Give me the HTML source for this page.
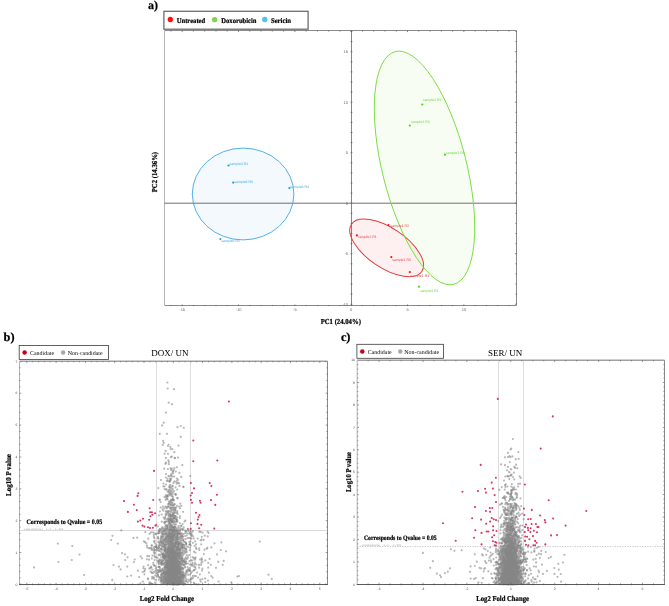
<!DOCTYPE html>
<html><head><meta charset="utf-8"><title>Figure</title><style>html,body{margin:0;padding:0;background:#fff;}svg{display:block;}</style></head><body>
<svg width="669" height="606" viewBox="0 0 669 606" text-rendering="geometricPrecision">
<rect width="669" height="606" fill="#fff"/>
<path d="M164.5 30.5H516.5V305.5H164.5" fill="none" stroke="#8a8a8a" stroke-width="1"/>
<path d="M164.5 31.0V305.0" fill="none" stroke="#b4b4b4" stroke-width="1"/>
<line x1="164.5" y1="203.2" x2="516.5" y2="203.2" stroke="#666" stroke-width="0.95"/>
<line x1="351.5" y1="30.5" x2="351.5" y2="305.5" stroke="#777" stroke-width="0.9"/>
<path d="M170.9 306.1v-1.1M170.9 30.5v1.1M182.2 306.1v-1.6M182.2 30.5v1.6M193.4 306.1v-1.1M193.4 30.5v1.1M204.7 306.1v-1.1M204.7 30.5v1.1M216 306.1v-1.1M216 30.5v1.1M227.2 306.1v-1.1M227.2 30.5v1.1M238.5 306.1v-1.6M238.5 30.5v1.6M249.8 306.1v-1.1M249.8 30.5v1.1M261 306.1v-1.1M261 30.5v1.1M272.3 306.1v-1.1M272.3 30.5v1.1M283.6 306.1v-1.1M283.6 30.5v1.1M294.9 306.1v-1.6M294.9 30.5v1.6M306.1 306.1v-1.1M306.1 30.5v1.1M317.4 306.1v-1.1M317.4 30.5v1.1M328.7 306.1v-1.1M328.7 30.5v1.1M339.9 306.1v-1.1M339.9 30.5v1.1M351.2 306.1v-1.6M351.2 30.5v1.6M362.5 306.1v-1.1M362.5 30.5v1.1M373.7 306.1v-1.1M373.7 30.5v1.1M385 306.1v-1.1M385 30.5v1.1M396.3 306.1v-1.1M396.3 30.5v1.1M407.5 306.1v-1.6M407.5 30.5v1.6M418.8 306.1v-1.1M418.8 30.5v1.1M430.1 306.1v-1.1M430.1 30.5v1.1M441.4 306.1v-1.1M441.4 30.5v1.1M452.6 306.1v-1.1M452.6 30.5v1.1M463.9 306.1v-1.6M463.9 30.5v1.6M475.2 306.1v-1.1M475.2 30.5v1.1M486.4 306.1v-1.1M486.4 30.5v1.1M497.7 306.1v-1.1M497.7 30.5v1.1M509 306.1v-1.1M509 30.5v1.1M350.6 304.2h1.8M516.5 304.2h-1.6M350.6 294.1h1.8M516.5 294.1h-1.1M350.6 284h1.8M516.5 284h-1.1M350.6 273.9h1.8M516.5 273.9h-1.1M350.6 263.8h1.8M516.5 263.8h-1.1M350.6 253.7h1.8M516.5 253.7h-1.6M350.6 243.6h1.8M516.5 243.6h-1.1M350.6 233.5h1.8M516.5 233.5h-1.1M350.6 223.4h1.8M516.5 223.4h-1.1M350.6 213.3h1.8M516.5 213.3h-1.1M350.6 203.2h1.8M516.5 203.2h-1.6M350.6 193.1h1.8M516.5 193.1h-1.1M350.6 183h1.8M516.5 183h-1.1M350.6 172.9h1.8M516.5 172.9h-1.1M350.6 162.8h1.8M516.5 162.8h-1.1M350.6 152.7h1.8M516.5 152.7h-1.6M350.6 142.6h1.8M516.5 142.6h-1.1M350.6 132.5h1.8M516.5 132.5h-1.1M350.6 122.4h1.8M516.5 122.4h-1.1M350.6 112.3h1.8M516.5 112.3h-1.1M350.6 102.2h1.8M516.5 102.2h-1.6M350.6 92.1h1.8M516.5 92.1h-1.1M350.6 82h1.8M516.5 82h-1.1M350.6 71.9h1.8M516.5 71.9h-1.1M350.6 61.8h1.8M516.5 61.8h-1.1M350.6 51.7h1.8M516.5 51.7h-1.6M350.6 41.6h1.8M516.5 41.6h-1.1M350.6 31.5h1.8M516.5 31.5h-1.1" stroke="#555" stroke-width="0.7" fill="none"/>
<text x="182.2" y="311.1" font-size="4.0" font-weight="normal" fill="#666" font-family="'Liberation Sans', Arial, sans-serif" text-anchor="middle" >-15</text>
<text x="238.5" y="311.1" font-size="4.0" font-weight="normal" fill="#666" font-family="'Liberation Sans', Arial, sans-serif" text-anchor="middle" >-10</text>
<text x="294.9" y="311.1" font-size="4.0" font-weight="normal" fill="#666" font-family="'Liberation Sans', Arial, sans-serif" text-anchor="middle" >-5</text>
<text x="351.2" y="311.1" font-size="4.0" font-weight="normal" fill="#666" font-family="'Liberation Sans', Arial, sans-serif" text-anchor="middle" >0</text>
<text x="407.5" y="311.1" font-size="4.0" font-weight="normal" fill="#666" font-family="'Liberation Sans', Arial, sans-serif" text-anchor="middle" >5</text>
<text x="463.9" y="311.1" font-size="4.0" font-weight="normal" fill="#666" font-family="'Liberation Sans', Arial, sans-serif" text-anchor="middle" >10</text>
<text x="348" y="53.1" font-size="4.0" font-weight="normal" fill="#666" font-family="'Liberation Sans', Arial, sans-serif" text-anchor="end" >15</text>
<text x="348" y="103.6" font-size="4.0" font-weight="normal" fill="#666" font-family="'Liberation Sans', Arial, sans-serif" text-anchor="end" >10</text>
<text x="348" y="154.1" font-size="4.0" font-weight="normal" fill="#666" font-family="'Liberation Sans', Arial, sans-serif" text-anchor="end" >5</text>
<text x="348" y="204.6" font-size="4.0" font-weight="normal" fill="#666" font-family="'Liberation Sans', Arial, sans-serif" text-anchor="end" >0</text>
<text x="348" y="255.1" font-size="4.0" font-weight="normal" fill="#666" font-family="'Liberation Sans', Arial, sans-serif" text-anchor="end" >-5</text>
<text x="348" y="305.6" font-size="4.0" font-weight="normal" fill="#666" font-family="'Liberation Sans', Arial, sans-serif" text-anchor="end" >-10</text>
<ellipse cx="243.1" cy="194" rx="50.8" ry="45.9" fill="#3aa0e0" fill-opacity="0.06"/>
<ellipse cx="0" cy="0" rx="120" ry="42.1" transform="translate(424.5 167.95) rotate(75.9)" fill="#70d030" fill-opacity="0.05"/>
<ellipse cx="0" cy="0" rx="42.4" ry="19.9" transform="translate(386.65 247.85) rotate(33.9)" fill="#f04040" fill-opacity="0.08"/>
<ellipse cx="243.1" cy="194" rx="50.8" ry="45.9" fill="none" stroke="#3ea8e2" stroke-width="0.9"/>
<ellipse cx="0" cy="0" rx="42.4" ry="19.9" transform="translate(386.65 247.85) rotate(33.9)" fill="none" stroke="#e03a3a" stroke-width="0.95"/>
<ellipse cx="0" cy="0" rx="120" ry="42.1" transform="translate(424.5 167.95) rotate(75.9)" fill="none" stroke="#78dc3c" stroke-width="0.9"/>
<circle cx="228.5" cy="165.5" r="1.1" fill="#2a9be0"/>
<text x="229.6" y="164.6" font-size="3.5" font-weight="normal" fill="#4aaee6" font-family="'Liberation Sans', Arial, sans-serif" text-anchor="start" >sample3.R1</text>
<circle cx="233.2" cy="182.6" r="1.1" fill="#2a9be0"/>
<text x="234.3" y="182.5" font-size="3.5" font-weight="normal" fill="#4aaee6" font-family="'Liberation Sans', Arial, sans-serif" text-anchor="start" >sample3.R3</text>
<circle cx="289.4" cy="188.1" r="1.1" fill="#2a9be0"/>
<text x="290.3" y="187.7" font-size="3.5" font-weight="normal" fill="#4aaee6" font-family="'Liberation Sans', Arial, sans-serif" text-anchor="start" >sample3.R4</text>
<circle cx="220.4" cy="239.0" r="1.1" fill="#2a9be0"/>
<text x="221.3" y="242.3" font-size="3.5" font-weight="normal" fill="#4aaee6" font-family="'Liberation Sans', Arial, sans-serif" text-anchor="start" >sample3.R2</text>
<circle cx="422.3" cy="104.5" r="1.1" fill="#4fd41c"/>
<text x="422.9" y="100.7" font-size="3.5" font-weight="normal" fill="#6fd844" font-family="'Liberation Sans', Arial, sans-serif" text-anchor="start" >sample2.R2</text>
<circle cx="409.8" cy="125.6" r="1.1" fill="#4fd41c"/>
<text x="411" y="122.8" font-size="3.5" font-weight="normal" fill="#6fd844" font-family="'Liberation Sans', Arial, sans-serif" text-anchor="start" >sample2.R4</text>
<circle cx="444.9" cy="154.7" r="1.1" fill="#4fd41c"/>
<text x="446" y="153.6" font-size="3.5" font-weight="normal" fill="#6fd844" font-family="'Liberation Sans', Arial, sans-serif" text-anchor="start" >sample2.R3</text>
<circle cx="419.0" cy="286.7" r="1.1" fill="#4fd41c"/>
<text x="419.9" y="291.5" font-size="3.5" font-weight="normal" fill="#6fd844" font-family="'Liberation Sans', Arial, sans-serif" text-anchor="start" >sample2.R1</text>
<circle cx="388.5" cy="225.0" r="1.1" fill="#f01818"/>
<text x="390.4" y="226.9" font-size="3.5" font-weight="normal" fill="#e24a4a" font-family="'Liberation Sans', Arial, sans-serif" text-anchor="start" >sample1.R2</text>
<circle cx="356.9" cy="235.4" r="1.1" fill="#f01818"/>
<text x="358" y="238.4" font-size="3.5" font-weight="normal" fill="#e24a4a" font-family="'Liberation Sans', Arial, sans-serif" text-anchor="start" >sample1.R1</text>
<circle cx="391.3" cy="257.1" r="1.1" fill="#f01818"/>
<text x="392.2" y="260.8" font-size="3.5" font-weight="normal" fill="#e24a4a" font-family="'Liberation Sans', Arial, sans-serif" text-anchor="start" >sample1.R3</text>
<circle cx="409.8" cy="272.1" r="1.1" fill="#f01818"/>
<text x="410.5" y="277" font-size="3.5" font-weight="normal" fill="#e24a4a" font-family="'Liberation Sans', Arial, sans-serif" text-anchor="start" >sample1.R4</text>
<rect x="163.9" y="11.3" width="144.2" height="17.9" fill="#fff" stroke="#6e6e6e" stroke-width="1.3"/>
<circle cx="170.3" cy="19.5" r="2.65" fill="#ff1010"/>
<circle cx="214.6" cy="19.7" r="2.65" fill="#83d14e"/>
<circle cx="264.8" cy="19.5" r="2.65" fill="#55bdf3"/>
<text x="176.7" y="22.8" font-size="7.2" font-weight="bold" fill="#000" font-family="'Liberation Serif', 'Times New Roman', serif" text-anchor="start"  textLength="28.5" lengthAdjust="spacingAndGlyphs" stroke="#000" stroke-width="0.22">Untreated</text>
<text x="221.3" y="22.8" font-size="7.2" font-weight="bold" fill="#000" font-family="'Liberation Serif', 'Times New Roman', serif" text-anchor="start"  textLength="35.2" lengthAdjust="spacingAndGlyphs" stroke="#000" stroke-width="0.22">Doxorubicin</text>
<text x="270.9" y="22.8" font-size="7.2" font-weight="bold" fill="#000" font-family="'Liberation Serif', 'Times New Roman', serif" text-anchor="start"  textLength="20.2" lengthAdjust="spacingAndGlyphs" stroke="#000" stroke-width="0.22">Sericin</text>
<text x="147.9" y="8.7" font-size="12" font-weight="bold" fill="#000" font-family="'Liberation Serif', 'Times New Roman', serif" text-anchor="start" stroke="#000" stroke-width="0.25">a)</text>
<text x="340.8" y="323.5" font-size="7.6" font-weight="bold" fill="#000" font-family="'Liberation Serif', 'Times New Roman', serif" text-anchor="middle"  textLength="40.3" lengthAdjust="spacingAndGlyphs" stroke="#000" stroke-width="0.22">PC1 (24.04%)</text>
<text x="0" y="0" font-size="7.6" font-weight="bold" fill="#000" font-family="'Liberation Serif', 'Times New Roman', serif" text-anchor="middle" transform="translate(156.6 172.1) rotate(-90)" textLength="40.4" lengthAdjust="spacingAndGlyphs" stroke="#000" stroke-width="0.22">PC2 (14.36%)</text>
<line x1="156.5" y1="361.2" x2="156.5" y2="584.5" stroke="#d4d4d4" stroke-width="0.8"/>
<line x1="190.5" y1="361.2" x2="190.5" y2="584.5" stroke="#d4d4d4" stroke-width="0.8"/>
<line x1="19.5" y1="530.5" x2="327.5" y2="530.5" stroke="#d2d2d2" stroke-width="0.8"/>
<path d="M171 564.1h0M171.2 578.5h0M175.7 567.9h0M170.9 558.6h0M175.7 494.2h0M174.3 582.2h0M177.2 521.4h0M179.2 569.3h0M173.5 566.2h0M179 577.2h0M171 475.6h0M168.1 575.7h0M174.3 580.8h0M179 581.6h0M178 564.2h0M168.2 580.2h0M178.1 583.6h0M169.1 568.1h0M174.9 574.3h0M173.9 581.2h0M172.1 583.7h0M173.7 560.2h0M176.5 570.9h0M172.6 584h0M173.4 538.8h0M174.8 553.4h0M167.4 574.6h0M166.5 582h0M182.4 576.2h0M176.4 561.3h0M171.2 579.6h0M179.5 568.6h0M178.4 563h0M166.9 548.6h0M172.9 567h0M177.8 581.2h0M169.1 570.7h0M177.8 535.9h0M169.6 575.1h0M174.9 566.2h0M175.7 558h0M171.7 581.6h0M169 584.1h0M174.8 568.6h0M172.8 471.6h0M178.7 583.2h0M164.3 582.7h0M174.2 578.3h0M168.9 501.6h0M173.4 564.2h0M165.8 538.3h0M173.8 527.3h0M171.2 556.3h0M170.1 566.1h0M180.3 503.7h0M170.5 571.9h0M171.5 556.8h0M169.4 576.6h0M175.7 557.6h0M182.2 557.5h0M174.7 568.7h0M175 577.7h0M172.5 558.1h0M179.4 543.6h0M173.5 583.7h0M175.1 543.6h0M173.9 545.2h0M174.1 575.2h0M171.9 510.6h0M176.6 575.8h0M163.8 553.9h0M177.7 536.3h0M174.2 583.2h0M173.5 580.8h0M173.4 566.5h0M173.5 573.6h0M175.8 576.7h0M166.7 544.6h0M177.8 574.8h0M175.8 575h0M170.4 570.8h0M173 577.4h0M171 533.7h0M174.4 534.3h0M170.9 569.3h0M172.7 581.7h0M169.2 531.5h0M169.7 546.1h0M173 514.6h0M174.8 579.4h0M176.1 560.5h0M171.8 574.8h0M170.1 523.6h0M169.9 520.1h0M180.6 578.3h0M175.8 581.1h0M171.4 533.5h0M171.5 559.3h0M167.9 534h0M171.5 553.3h0M177.5 572.9h0M171.7 565.8h0M167.7 528.4h0M172.9 546.5h0M170.7 557.3h0M169.6 559.7h0M170.3 579.7h0M165.8 550.5h0M172.6 509.8h0M173.6 564.9h0M178.2 569.1h0M171.1 528.4h0M174.2 560.6h0M175.4 565.6h0M175.6 569.3h0M175.6 568.3h0M171.5 577h0M171 525.5h0M171 570.7h0M176.4 578.9h0M168 551h0M181.2 573.3h0M178.4 537.1h0M176.8 530.7h0M173.5 560.8h0M173.9 554.3h0M168.2 574.2h0M175.5 527.4h0M170.1 583.1h0M172.3 568.4h0M170.9 532.1h0M169.1 550.3h0M178.4 532.6h0M178.5 579.9h0M176.4 544.6h0M173.9 552.3h0M170.7 574h0M177.5 570.7h0M171.8 520.5h0M170.7 532.4h0M168.7 553.5h0M169.1 583.8h0M173.7 573.1h0M172.4 572.5h0M177.2 570.3h0M176.1 579.2h0M174.4 579.3h0M173.2 577.9h0M180.5 577.7h0M172.1 564.6h0M170.1 576.6h0M171.4 583.9h0M173 560h0M173.3 509.7h0M174.3 570.7h0M176.3 574.9h0M171.3 505.1h0M172.1 560.2h0M172.8 558.7h0M180 566.3h0M180.9 574.1h0M174.4 571.5h0M168 494.8h0M172.1 565.1h0M169.5 568.6h0M172.8 562.9h0M169.1 515.3h0M173.2 576.8h0M172.5 560.4h0M170.3 489.4h0M175.8 582.9h0M176.8 547.7h0M178.3 573.2h0M170.6 537h0M168.1 535.2h0M175.6 572.1h0M170.6 572.5h0M173.5 575.8h0M178.3 579.6h0M173.2 548.5h0M169.5 521.3h0M171.9 562.4h0M176.4 583.3h0M170.5 563.6h0M175.2 552.3h0M177.9 572.8h0M170.1 578.8h0M176.9 548.6h0M173.3 524.2h0M168.5 539.4h0M165.2 567.2h0M179.4 533.8h0M169.7 567.4h0M170.8 539.1h0M173.7 530.1h0M169.9 563h0M174 534.5h0M171.8 559.2h0M165.9 521.8h0M169.8 566.5h0M177.7 539.7h0M177.1 575.7h0M177 571.2h0M173.5 517.6h0M165.1 545.1h0M168.8 461.9h0M171.6 521.7h0M172.9 548.5h0M168.7 571.7h0M171.1 582.7h0M173.6 545.9h0M167 536.1h0M177.3 569.9h0M168.8 583.7h0M173.8 576.9h0M177.5 561.4h0M173.7 551.8h0M171.2 578.9h0M169.4 584.3h0M173.4 522.7h0M175.3 571.1h0M172.6 575.6h0M171.6 554.3h0M178 561.7h0M170.9 577.9h0M173.2 584.1h0M174.3 582.6h0M166.4 525.5h0M170.4 559.4h0M176.5 519.6h0M175.8 552.4h0M167 519.4h0M177 584.2h0M172.4 564.6h0M174.5 566.9h0M176.1 561.6h0M166.3 566.1h0M175.1 515.8h0M171.3 567.2h0M166.7 565h0M170.1 544.6h0M170.8 575.9h0M170.3 551.7h0M178.5 576.9h0M176.2 580.7h0M171.7 558.3h0M170.2 576h0M179.6 556.7h0M173.1 571.6h0M171.4 542.8h0M177.2 581.8h0M172.8 571.4h0M175.1 556.4h0M170.2 514h0M176 570h0M176.7 568.3h0M176.5 547.8h0M170.7 567.3h0M171.1 558.7h0M173.9 562.6h0M172.9 573.8h0M168.6 520.1h0M172.6 572h0M176.2 571.6h0M178.2 544.7h0M177.4 581.3h0M175 581.3h0M166.1 484.5h0M169.1 562.2h0M176.7 580.4h0M171 558.2h0M170.3 493.4h0M174.3 577.2h0M167.9 446h0M175.6 560.9h0M173.9 578.5h0M176.7 583.3h0M171.7 565.3h0M172 568.8h0M173.6 531.8h0M168.2 495.5h0M173.6 536.9h0M173.2 569.7h0M169.2 555.8h0M170.4 559.7h0M174.8 580.7h0M171.2 577.5h0M172.9 578.2h0M169.1 581.4h0M174.1 517.6h0M179 569.6h0M171.6 494.1h0M164.6 519h0M170.6 480.4h0M174 579h0M173.7 470.1h0M171.3 582.7h0M171.7 529.1h0M173.5 583.2h0M170.9 553h0M173.1 568h0M171 545.9h0M175.5 583.7h0M176.4 571.6h0M166.1 563.3h0M171 516.5h0M168.3 580h0M167.6 499.5h0M172.4 583.7h0M166.9 572.1h0M164.8 558.1h0M170.9 457.2h0M168.8 570.5h0M166 515.2h0M171.9 578.6h0M171.7 579.6h0M164.5 578.9h0M172 560.3h0M170.9 563.3h0M180.5 582.1h0M167.1 562.4h0M173 581.5h0M174.4 568.1h0M175.4 561.1h0M185.6 552.4h0M166.2 580.9h0M176.4 570.6h0M171.4 549.8h0M174.9 583.4h0M185.9 549.2h0M174.4 574.3h0M178.5 580.7h0M168.3 551h0M179 583h0M176.1 563.2h0M175.8 568.9h0M177.1 575.6h0M166.3 578.1h0M171 578.4h0M170.7 580.8h0M174.7 569h0M180 583.3h0M175.4 533h0M178.4 571.4h0M170.9 525.7h0M183.4 575.7h0M177.8 570.8h0M174 530.4h0M168.7 577.6h0M170.6 576.8h0M171.1 470.1h0M169.8 584h0M164.4 556.1h0M172.6 584h0M165.7 580h0M181.2 573.4h0M176.1 482h0M172.9 499.1h0M164.4 576h0M173.5 538h0M169 548.4h0M167.5 579.4h0M175.4 584.1h0M171.7 567.4h0M163.4 556.2h0M160.5 540h0M178.3 543.1h0M177.3 579.3h0M160 567h0M172.1 580.1h0M171.1 563.8h0M161.5 581.2h0M161.7 574h0M177 568.1h0M166 552.7h0M165.8 497.1h0M167.6 518.7h0M167.5 581.7h0M173 572h0M166.3 571.1h0M172.7 562.9h0M171.7 525.7h0M169.1 581.3h0M169.2 577.4h0M164.7 453.7h0M175.2 575.5h0M170 582.4h0M171.6 574.2h0M176.9 568.7h0M168.6 492.1h0M170.3 570.3h0M179 577.3h0M169.6 567.2h0M175.7 547.1h0M172.2 540.3h0M171.2 559.7h0M162.2 532.7h0M175.4 552.5h0M168.2 575.2h0M180.8 578.5h0M171 550.1h0M176.3 570.2h0M174 546h0M165.9 565.8h0M166.7 566.8h0M167.5 553.1h0M179.1 583.7h0M169.2 543.6h0M180.1 508.3h0M177.4 566.5h0M172.9 558.7h0M167.7 567.4h0M174.3 503.8h0M175.6 583h0M175.1 553.1h0M169 567.3h0M175.5 563.3h0M172.1 550.2h0M162.1 571.1h0M174.6 560.6h0M170.9 518.1h0M179.1 559.6h0M169.2 506.9h0M175.7 566.1h0M168.5 475.9h0M172.6 565.6h0M166.5 498.7h0M164.6 489.1h0M175.8 521.7h0M176.9 574.2h0M168.8 561.2h0M164.6 521.8h0M173.2 535.7h0M161.9 581.8h0M172.7 584.1h0M158.6 554.9h0M179.1 483.3h0M176.8 584.2h0M174 575.8h0M185 566.7h0M167.8 577.8h0M185.3 533.1h0M181.2 576.8h0M178 582.3h0M174.9 582.5h0M169.9 511.3h0M167.9 580h0M174.6 577.2h0M176.2 557.4h0M170 573.3h0M175.9 566.8h0M170.9 582h0M162.7 563.7h0M173.7 579.5h0M161.7 572.3h0M174.4 565.5h0M168.6 503.8h0M176.1 569.5h0M172.5 485.8h0M170.6 573.7h0M161.5 554.4h0M165.8 557.4h0M160.8 579h0M179.3 552.7h0M174 521.6h0M176.9 583.9h0M163.7 582.6h0M162.9 557.1h0M177.2 584.4h0M169.4 559h0M172 529.8h0M164.9 580.4h0M177.4 568.9h0M178.5 577.5h0M169.7 507h0M178.7 566.3h0M178.8 581.3h0M165 548.6h0M169.4 579.1h0M176 566.2h0M173.7 527h0M179 506.6h0M182.4 544.5h0M179 542.2h0M185.4 520.6h0M178.7 572.7h0M164.7 569.4h0M168.4 569h0M171 563.5h0M159.9 499.6h0M171.2 569.3h0M165.9 457.9h0M176.9 542.6h0M168.8 546.6h0M165.3 576.9h0M167.9 568.8h0M175 543.7h0M169.1 568h0M167 578.7h0M172.7 494.6h0M179.4 561.7h0M182.6 524h0M167.5 525.8h0M178.2 555.3h0M169.6 569.1h0M180.1 569h0M179.1 540h0M165.9 477.5h0M161 579.6h0M171.3 572.8h0M178.5 445.6h0M173.7 558.7h0M173.6 583.9h0M170.6 571.1h0M167.6 561.5h0M170.4 546.1h0M166.5 511h0M172.3 584h0M170.7 520.5h0M175.8 565.7h0M161.7 514.6h0M173.5 570.2h0M177.1 578.7h0M177.2 569.5h0M174.3 579.1h0M172.4 550h0M180 564h0M175.5 577.9h0M170.4 565.2h0M177.4 580.2h0M171.4 549.7h0M167.7 481h0M170.8 538.8h0M169.5 489.8h0M154.5 550.3h0M173.8 571.8h0M172.9 573.5h0M182.1 583.7h0M170.7 583.8h0M171.5 583.5h0M174.4 565.3h0M173 578.7h0M171.6 582.9h0M170.6 449.1h0M168.1 539.2h0M178.7 579.7h0M166.7 573.2h0M168.3 536.4h0M181.9 563.3h0M181 533.6h0M165.6 529h0M171.5 568.3h0M170.2 508.5h0M172.3 551.2h0M179.9 573.2h0M175.5 544.2h0M176.3 572.2h0M168.4 581.4h0M167.6 520.8h0M163.6 579.3h0M175.1 566.4h0M172.9 556.2h0M172.7 547.2h0M168 560.9h0M167.1 537h0M173 578.3h0M170.3 558.5h0M182.1 583.8h0M166.8 549.2h0M167.8 570.9h0M186.1 572h0M177.8 553.7h0M181.4 573.8h0M173.5 576.2h0M170.7 544.6h0M174.8 580.6h0M176.3 578.6h0M174.3 569h0M180.7 582.7h0M180.8 565.3h0M173.4 572.2h0M177.6 560.5h0M165 572.8h0M174.4 481.3h0M165.6 450.9h0M173.5 578.3h0M180.4 558.3h0M175.5 558.1h0M174.7 556h0M169.5 495.2h0M165.9 542.6h0M176.2 581.2h0M185.7 575.6h0M176.8 578.2h0M163.6 572.2h0M167.7 525.5h0M176.1 576.1h0M170.4 516h0M177 583.8h0M170.6 575.9h0M175.2 573.5h0M163.8 574.1h0M180.8 534.5h0M180.3 579.2h0M175.4 577.2h0M175.3 575h0M179.4 472.9h0M178.1 553.3h0M160.8 571.4h0M177.2 568.8h0M167.8 564.1h0M181.7 543.1h0M171.3 552.4h0M168.5 581.4h0M173.4 576.3h0M179.6 550.6h0M168.1 581.8h0M172.8 567.2h0M174.6 570.8h0M173.4 571h0M172.1 559.5h0M169.9 576.4h0M162.3 571.9h0M172.1 561.1h0M164.1 529.1h0M175.5 569.3h0M183.7 527.3h0M165.8 495.2h0M174.8 507.7h0M173.9 574.2h0M178.1 580.3h0M177.3 578.4h0M172.5 574.7h0M177.3 580.9h0M181.8 583.4h0M166.7 578.4h0M167.1 539.8h0M179.3 540.1h0M166.1 581.5h0M163.3 577.3h0M165.4 463.8h0M165 574.1h0M170.2 574.7h0M165.7 574.1h0M175.5 562.9h0M175.4 578.4h0M172.4 569.5h0M168.6 444.8h0M177.9 574h0M168.1 572.5h0M168 541.6h0M182.4 573.5h0M172.6 559h0M169.6 507.3h0M177.7 569.6h0M174.7 571.5h0M161 480h0M172.6 579.9h0M174.4 537.5h0M161.5 549h0M170.3 570.3h0M164.2 468.7h0M168.8 583.6h0M174.4 518.2h0M176.4 574.4h0M167.5 560.5h0M170.6 582.5h0M179.1 573.9h0M175.2 568.5h0M173.5 557.1h0M163.8 530.9h0M161.9 577.8h0M168.2 554.5h0M152.3 569.6h0M190.5 538.1h0M179.5 572.6h0M166 536.8h0M168.3 579.7h0M164.9 575.8h0M198.7 584.3h0M164.4 578.8h0M162.6 573h0M149.5 533.8h0M166.1 567.2h0M140.6 556.4h0M155 543.4h0M179.6 570.1h0M175.7 557.6h0M180.2 533.3h0M149.2 583.5h0M171.2 561.4h0M178.8 583.4h0M181.3 581.1h0M181.5 576.1h0M187.8 528.9h0M149.1 556.2h0M201.2 544.3h0M165 571h0M171.4 547h0M181.5 547.2h0M172.4 580.4h0M176.6 559.3h0M162.8 539.8h0M150.3 568.1h0M177.1 530.7h0M163.4 581.1h0M161.4 546.1h0M166.8 549.9h0M181.1 536.1h0M176.1 537.7h0M151 532.4h0M169.6 584.3h0M178.1 550h0M162.6 533.7h0M184.3 551.5h0M158.5 533.1h0M186.2 543.8h0M191.1 560.3h0M172.7 565.4h0M194.2 584.1h0M157.9 575.2h0M171.8 573.4h0M188.6 579.8h0M161.1 542.2h0M175.3 569.7h0M184.8 541.8h0M156 557.3h0M161.3 584h0M174.7 555.7h0M177.8 547.4h0M186.1 551.8h0M182.7 552.7h0M170.2 551.6h0M159 562h0M183.2 550.5h0M195.4 567h0M165.6 530.6h0M175.6 583.6h0M162 576h0M193.1 577.8h0M189.9 544.3h0M170.3 541.6h0M150.8 583.3h0M184.3 544.9h0M153.3 562.8h0M177.6 554.4h0M169.2 540.4h0M169 557.9h0M177.7 573.3h0M175.9 541.8h0M141.9 558.3h0M177.4 531.2h0M174 579.3h0M168.9 577.7h0M175.5 544.8h0M169 572.8h0M155 553h0M182.6 584.3h0M180.1 539.9h0M195 562.7h0M155.8 547h0M165.4 528.7h0M175.6 558.2h0M179.7 554.6h0M182.5 546.8h0M189.7 570.1h0M180.1 583.8h0M173.9 569.2h0M181 545.5h0M147.8 578.4h0M166.2 581.6h0M180.7 541.4h0M165.6 564.7h0M189.4 561.2h0M159.6 550.5h0M173.5 559.9h0M153.5 550.5h0M178.5 554.6h0M155.1 565.8h0M195.5 569.2h0M174.6 529.1h0M166.5 533.5h0M183.7 534h0M144.4 574.3h0M169.4 557.4h0M189.1 555.1h0M174.6 552.6h0M161.9 532.8h0M168.2 540.5h0M173.7 552.9h0M176.5 537.7h0M161.9 562.4h0M163.6 535.7h0M172 537.1h0M140.4 583.4h0M154.6 552.1h0M183.1 547.7h0M173.6 552.7h0M170.5 578.1h0M194.4 564.6h0M187.9 546.8h0M156.2 547.5h0M156.2 567.5h0M169.8 529.4h0M189.1 580.8h0M180.1 534.5h0M164.2 546.6h0M164.5 539.9h0M171.5 544.4h0M158.7 531.1h0M154.4 555.7h0M164.4 546.8h0M166.7 556h0M196.1 564.4h0M162.3 560.1h0M158.7 561h0M165.6 533.3h0M157.8 572.6h0M185.7 564h0M171.5 565.2h0M154.7 540.8h0M176.4 550.6h0M161.5 549.2h0M177.2 533.7h0M158.5 567h0M164.8 547.5h0M176.7 572.1h0M159.7 529.2h0M158.8 579.8h0M168.7 550.3h0M191.1 572.9h0M190.8 545.5h0M177.2 583.9h0M184.1 548.2h0M167.8 570.8h0M171.3 531.5h0M156.7 550.1h0M168.8 533.1h0M174.6 559.1h0M168.2 575.4h0M170.4 565h0M192.7 531.6h0M170.1 570.3h0M162.1 569.2h0M173.3 562.1h0M153.5 564.7h0M168.1 565h0M178 582.1h0M151.8 572.6h0M185.9 531.7h0M182.8 553.3h0M183.4 529.1h0M192.8 530.8h0M166.2 556h0M166.4 537.7h0M190.9 582h0M172.9 548.8h0M192.1 577.7h0M166.6 531.7h0M168.3 575.5h0M183.6 561.6h0M160 555.5h0M167.2 538.5h0M168.7 541.4h0M174 573.5h0M195.4 552.6h0M173 558.8h0M172 564h0M208.9 572.7h0M180.2 553.4h0M177.3 542.5h0M180.2 570.8h0M168.4 570.7h0M163.5 554.6h0M122 553.2h0M214.5 543.3h0M192.2 566h0M183.7 539.3h0M165.1 545h0M178.3 546.4h0M189.9 547.6h0M202 570.5h0M193.1 565.5h0M167.7 388.5h0M166 412.6h0M180.8 426h0M180.8 436.9h0M72.3 546h0M111.1 540h0M113.5 565h0M124.9 554.3h0M208.5 533.1h0M193.9 538.5h0M220.8 550h0M217 554.4h0M205.3 560.4h0M223.7 560.9h0M202.4 568.7h0M195.9 576h0M205.3 582h0M237.4 576.6h0M231.2 582.3h0" stroke="#818181" stroke-width="2.2" stroke-linecap="round" fill="none" stroke-opacity="0.56"/>
<path d="M174 555h0M175.5 487.4h0M176.6 575.8h0M171 553.6h0M174.6 563.3h0M168.7 582.7h0M170.5 570.8h0M177.2 583.8h0M173.1 544.4h0M167.7 574.2h0M175.1 534.3h0M177.3 577.6h0M164.7 573.4h0M174 559.4h0M178.8 546.9h0M174.6 512.9h0M174.7 553.3h0M171.9 545.3h0M173.6 535.7h0M171.2 577.4h0M166.3 546.4h0M174.3 556.4h0M171.2 525.1h0M169.1 559.8h0M166.8 508.4h0M171.2 570.7h0M172.1 563.6h0M176.4 584.3h0M169.4 564.9h0M173.2 550h0M165.1 578.9h0M168.2 504.3h0M169.2 568.7h0M173 549.7h0M179.1 545.1h0M170.7 568.7h0M169.6 480.9h0M170.2 551.4h0M169.4 576.9h0M171.1 575.7h0M172.6 513.8h0M172.1 572.6h0M173 574.6h0M168.8 578.4h0M179.2 570.9h0M168.6 583.6h0M181.4 540h0M172.3 560.3h0M174.4 552.3h0M181.6 579.5h0M167.7 527.1h0M173.5 581h0M171.4 560.4h0M173.4 541.5h0M175.9 560.2h0M170.1 563.5h0M176.1 576.8h0M178 541.6h0M177.8 550.8h0M169.5 580.4h0M176.1 575h0M170.4 571.4h0M171.7 502.4h0M177.6 577.8h0M175.3 570.8h0M183.2 561h0M173.1 574.6h0M174.9 458.2h0M172.1 581.3h0M168.1 543.8h0M173.7 582h0M166.1 462.8h0M178.1 549.3h0M176 516.4h0M173.4 583.5h0M169.5 574.1h0M170 479.6h0M167.9 541.7h0M175.7 571.4h0M170.6 520.5h0M172.5 535.8h0M172.5 574.5h0M171.6 519.7h0M169.1 570.4h0M172 583.5h0M173.5 550.5h0M169.9 573h0M172.4 507.5h0M170.3 554.7h0M170.1 537.5h0M168.8 516.9h0M174.1 574.6h0M180.1 549.1h0M172.7 568h0M173.9 565h0M168.4 567.2h0M166 567.8h0M170.8 516.1h0M169.4 546h0M171.1 560h0M169.1 547.8h0M176.1 574.1h0M171.8 566.4h0M165.9 562.5h0M170.2 515.3h0M172.6 548h0M170.7 569.9h0M176 518.8h0M175.8 535.1h0M177.5 569.7h0M173.2 548.2h0M176.2 578h0M170.4 447.1h0M171.2 583.1h0M168.6 490.3h0M170.8 516.1h0M181 571.9h0M169.2 548.9h0M167.2 559.8h0M176.4 542.9h0M168.5 569.8h0M172.3 527h0M174.6 556.5h0M172 580.1h0M170 583.3h0M172.2 520.9h0M173.5 530.1h0M171.8 579.5h0M164.5 523.1h0M169 581.7h0M165.6 572.1h0M175.6 569.4h0M170.5 574h0M172.1 578.6h0M171.2 582.7h0M174.2 584.2h0M174.7 532.4h0M170.8 551.7h0M169.3 545.7h0M171.1 541.6h0M175.4 570.2h0M167.1 498.4h0M177.1 574.3h0M169.1 551.9h0M173.2 562.8h0M175.3 578.5h0M176.2 553.8h0M177.1 584.3h0M171.7 550.8h0M180.2 553.3h0M174.7 576.1h0M174.9 554.1h0M172.5 572.1h0M172.2 580h0M176.5 561.8h0M170.1 491.4h0M176.9 561.9h0M173.4 533.5h0M171.8 582.2h0M178 574.1h0M172.4 505.3h0M178.1 568.7h0M175.7 570.2h0M172 533.5h0M172.2 572.4h0M170.6 519.1h0M175.1 568h0M172.3 580.3h0M169.3 555.2h0M174.3 561.2h0M174.3 569.2h0M169.2 557.1h0M170.5 558.7h0M166.6 525.9h0M176 555.3h0M176.5 582.1h0M178.9 557.6h0M175.8 572.1h0M171 554.3h0M182.3 561.2h0M173.9 576.2h0M174.8 577.9h0M170.8 547.9h0M175.8 576.5h0M172 568.5h0M177 566.8h0M176.3 557.8h0M170.2 536.4h0M168.2 571.4h0M169 576.8h0M175.4 547.6h0M173.2 551.4h0M170.8 572.7h0M174.6 517.6h0M178.6 578.5h0M171.6 540.7h0M178.3 570h0M171.2 582.7h0M173.5 564.1h0M168.6 568.2h0M175.6 576.5h0M179.6 581.8h0M173.9 552.3h0M169.4 579h0M173.3 580.6h0M173.6 580.7h0M176.7 564.7h0M173.8 581.1h0M177.2 567.2h0M172.8 578.3h0M177 580.2h0M176.3 582.3h0M173.9 513.8h0M177.2 578.8h0M172.9 583.2h0M169.6 556.3h0M177.3 569.5h0M171.7 568.1h0M174.3 549.3h0M178.3 564.8h0M179.9 583.4h0M170.2 501.2h0M171.4 583.7h0M172.1 499.6h0M169.5 570.1h0M168.8 578.8h0M179.3 556.4h0M167.8 546.4h0M172.6 538.1h0M171.2 575.4h0M169.9 572.5h0M175.3 579.9h0M174.3 573.8h0M171.4 581.3h0M174.1 558.6h0M173.3 553.3h0M176.6 513h0M169 582.7h0M177.1 583.8h0M173 575.9h0M178.4 526.4h0M176 524.3h0M172.3 582h0M177.7 556.1h0M179 582.2h0M169.6 532.9h0M168.2 579.6h0M174.5 535.7h0M169.9 577.9h0M169.7 567.8h0M172.5 542.7h0M171.4 579.1h0M177.7 570.5h0M173.9 569.4h0M173.7 562h0M171.4 571.6h0M172.9 579.8h0M174.1 571.8h0M159.7 533h0M176.5 547.9h0M172.4 552.9h0M177.7 581.4h0M174 583.3h0M172.4 512.5h0M172.8 584.1h0M175.1 567h0M172.3 476.6h0M174.9 575.4h0M166.6 512.6h0M175.8 524.4h0M170.7 578.6h0M177.1 583.4h0M175.4 564.3h0M169.1 583.5h0M168.4 540.6h0M171.8 541.3h0M173 532.1h0M173 471.4h0M167.7 551.5h0M167.1 549.8h0M169.4 573.5h0M172.3 584.2h0M174.2 535.2h0M174.1 575.2h0M174.8 558.1h0M174.5 565.7h0M177.6 555.7h0M173.9 568.3h0M171.3 529.9h0M172.7 519.6h0M177.4 583h0M174 558.9h0M171.3 578.6h0M167.7 572.7h0M178.4 551h0M174.1 546.3h0M171.7 581.8h0M167.3 533.5h0M175 582h0M173.7 579.3h0M173.4 569h0M177 565.8h0M176.5 559.3h0M173 545.5h0M178.2 578.1h0M170.2 565.8h0M175.2 568.7h0M165 548.4h0M166.4 579.9h0M176.3 535.7h0M175.4 546.4h0M178.2 539h0M171.8 468.7h0M180.2 576.7h0M163.7 539.2h0M176 580.5h0M172.3 535.3h0M172.9 518.8h0M175.5 569.4h0M175.1 542.8h0M169.8 560.2h0M172 576.2h0M174.8 582.9h0M174.2 517.6h0M168.6 583.9h0M173.5 576.2h0M176.1 566.9h0M170.5 582.6h0M176.7 571.2h0M179.8 534.2h0M167.2 582.3h0M180.8 579.6h0M164.8 582.4h0M164 576.4h0M175.7 562.2h0M174.4 542.9h0M175.1 566.8h0M170.7 576.4h0M183 577.4h0M175.2 509.8h0M177 578.1h0M167.9 568.3h0M167.8 573.7h0M172 574.8h0M179.8 523.1h0M174.5 561h0M171.5 580.1h0M182.2 560.8h0M178.7 526.2h0M176.6 569h0M163.9 539.4h0M178.8 549.7h0M169.5 547.5h0M176.1 524.5h0M184.8 558.9h0M175.2 551.6h0M179.2 543.7h0M178.8 554.5h0M173.2 473.3h0M186.3 550h0M173.1 574.1h0M169.8 580h0M166.8 583.4h0M175.6 531.6h0M178.7 584.1h0M163.2 575.2h0M176.1 575.4h0M170 516.8h0M170.3 559.8h0M168.9 552.2h0M167 581.8h0M162 562.9h0M177.2 547.1h0M162.8 542.2h0M177.9 575.9h0M173.3 540.6h0M165.3 572.6h0M174.2 564.9h0M179.9 538.2h0M174.8 560h0M180.2 579.3h0M173.2 566.6h0M170.2 583.3h0M175.4 578.3h0M166.6 582.1h0M164.5 486.5h0M169.7 573.1h0M176.2 507.6h0M172 563.8h0M173.5 505.7h0M165.2 581h0M170.1 564.6h0M171.2 549.9h0M173.5 542.3h0M173.5 556.6h0M172.8 489.2h0M167.1 583.1h0M175 584.1h0M164.1 564.7h0M164.6 563.4h0M170.4 478.5h0M172 545.6h0M174.4 574h0M173.9 583.9h0M167.6 580.1h0M167 577.5h0M176.7 552.1h0M179.1 582h0M177.2 579.4h0M164.6 571.7h0M166.8 480.8h0M172.2 563.1h0M173.3 536.6h0M173.1 515.3h0M171.8 476h0M173.7 580h0M171 512.1h0M181.5 575.3h0M172 580.3h0M171.3 581.8h0M166.5 560.6h0M183.4 564.9h0M175.1 557.2h0M172.6 583.7h0M184.5 521.5h0M166 554.7h0M168.9 551.2h0M172.7 538.4h0M163.7 573.4h0M170.1 519h0M163.7 575.6h0M170.8 575.5h0M173.2 554.8h0M174.8 583.3h0M170.3 577.1h0M171.9 565.9h0M173.1 578.8h0M177.3 536.1h0M162.4 578.7h0M171.8 574.2h0M159 547.4h0M174.5 582.3h0M170.6 584.1h0M178.4 582.4h0M177.7 554.5h0M169 578.6h0M178.1 561.1h0M160 531.3h0M168 575.7h0M176 533.7h0M172.4 554.2h0M175.7 495h0M179.9 571.8h0M185.2 530.7h0M169.1 569.3h0M168.1 573.4h0M172.6 505.4h0M170 533.6h0M165.8 511.5h0M169.5 556.6h0M180.1 562h0M177.9 583.9h0M178.8 547.5h0M171.5 580.7h0M171.1 571.9h0M177.9 570.7h0M170.5 538.2h0M180.4 563.2h0M166.2 554h0M165.5 539.5h0M171.1 507.8h0M165 584.2h0M168.7 570.6h0M168 453.8h0M174.6 582.5h0M176.3 555.9h0M163.1 583.8h0M181.4 568.3h0M164.5 556.9h0M174.5 568.2h0M164 573.3h0M167.9 469h0M162.6 509.3h0M166.1 489.5h0M174.9 563.8h0M176.7 582.5h0M168.1 569.9h0M166.8 571h0M165.9 569.2h0M176.5 560.9h0M163.5 483.5h0M168.2 562.2h0M174.6 544h0M175.8 579.8h0M174.9 566.4h0M177.3 579.4h0M173.7 572.2h0M170.2 486.9h0M178.4 582.6h0M171.3 551.8h0M170.3 579.7h0M177.9 564.5h0M171.4 509.9h0M173.4 482.9h0M172.7 565.9h0M169.3 513.6h0M175.4 548.4h0M176.7 582.3h0M169.8 485h0M184.5 553.4h0M179.4 566.8h0M166.9 536.2h0M183.4 574.8h0M174 562.6h0M181.4 580.1h0M165.4 558.1h0M174.4 533.8h0M169.9 567.4h0M166.6 583.1h0M172.5 565.4h0M170.6 566.4h0M168.6 564.5h0M179.6 569.6h0M178 482.8h0M172.5 577h0M176.4 574.1h0M170.3 573h0M167.2 578.4h0M173.4 569.2h0M179.5 552.5h0M177.3 541.4h0M179.5 574.6h0M175.3 572.7h0M175.3 575h0M167.4 563.2h0M178.1 572.1h0M182.5 549.3h0M173.9 527.6h0M170.5 485.1h0M178 575.1h0M174.1 563.6h0M167.2 568.1h0M172.8 580.8h0M173.2 574.9h0M178.8 574.4h0M172 579h0M173.3 578.9h0M175.8 565.4h0M167.6 478.8h0M171.9 551.3h0M180.7 577.6h0M159.1 571.6h0M182 581.6h0M167 496h0M178.5 582.1h0M171.3 579.1h0M167.2 569.5h0M170.5 579.2h0M175.3 572.8h0M171 562.1h0M171.1 560.2h0M175.9 574.4h0M174.5 540h0M171.6 571h0M177 583.1h0M166.3 570.1h0M173.2 566.5h0M173.1 516.9h0M182.7 574.2h0M177 538.9h0M176 564.6h0M179.1 556.1h0M164.5 508.2h0M180.4 528.6h0M176.9 467.3h0M162.4 578.4h0M167.3 578.5h0M173.2 567.9h0M168.9 583.5h0M181.8 555.3h0M167.8 569.7h0M170.5 582.4h0M181.4 569.5h0M165 584.2h0M174.2 577.9h0M174 563.7h0M176.7 578.6h0M164.2 557.7h0M167.5 562h0M173.4 574.4h0M160.3 577.8h0M167.6 572.9h0M175.6 547.5h0M167.4 577h0M165.3 518.3h0M167.1 561.6h0M162.8 445h0M167.6 507.4h0M171.6 570.2h0M172.3 581.2h0M172.5 542.4h0M169.5 565.2h0M180.1 581.2h0M177.2 489.5h0M169.9 581.3h0M179.1 582.1h0M169.7 524.6h0M169.8 533h0M173.5 566.9h0M175.6 567.6h0M171.3 564.9h0M175.2 571.1h0M180 528h0M177.4 546.8h0M182.8 584.1h0M171.7 500.3h0M171.3 577.1h0M175 516.2h0M161.8 543.8h0M180.9 584.1h0M161.9 578.3h0M167.5 512.3h0M167.6 582h0M166.9 584h0M167.8 559.4h0M170.5 555.4h0M168.1 515h0M174.1 583.6h0M179 583.9h0M186.4 570.7h0M173.1 544.3h0M180.2 572.6h0M170.4 572.9h0M181.9 533.3h0M168.8 584h0M177.3 553.2h0M175.3 575h0M164.4 554.9h0M166.5 583.1h0M169.3 555.9h0M182 575h0M175 574h0M175.8 559.3h0M177.3 497.9h0M176.6 558.2h0M180 582.4h0M170.5 568.8h0M171.5 580.5h0M163.5 564.6h0M165.8 462.6h0M166 563h0M164 554.9h0M173.7 581.3h0M169.7 578.8h0M171.4 581.5h0M165.4 506.6h0M174.4 578.4h0M171.6 580.6h0M169.3 573.8h0M177.2 580h0M183.1 579.9h0M168.8 565.5h0M161.6 535.3h0M174 571.8h0M168.5 566.9h0M180 554.1h0M159.8 577.1h0M163.3 546.5h0M182.2 568.2h0M151.4 567.3h0M152.2 572.8h0M150.6 571.6h0M181.1 563.8h0M155.3 571h0M151.4 583.9h0M185.2 536h0M174.4 530.5h0M166.1 566.5h0M152 578.5h0M194 551.7h0M187.8 529.1h0M185.7 563.5h0M163.4 570.6h0M182.1 538.7h0M179.2 553h0M183.2 578h0M167.5 554.6h0M185.8 561.3h0M172.6 532h0M196.1 544.3h0M154.6 560.1h0M185.5 578.2h0M168.3 573.5h0M182.1 547.7h0M151.7 545.4h0M173.4 559.2h0M169.3 564h0M160.6 541.1h0M168 552.8h0M188 557.1h0M163.5 530.8h0M158 562h0M191.5 535.3h0M182.8 536.5h0M164.3 543.9h0M158.8 577.4h0M179.8 575.5h0M163.3 582.2h0M211.3 576.1h0M178 533.7h0M167.9 547.6h0M168.4 578.2h0M162.1 536.4h0M154.5 533.3h0M172.9 549.2h0M159.6 554.5h0M156 573.1h0M175.2 568.1h0M165.7 542.5h0M186.8 555.1h0M181.1 544.2h0M163 536.9h0M168.2 567.2h0M167.5 556.4h0M166 574.9h0M168.1 544.7h0M172.6 580.2h0M175.2 574.1h0M174.9 574.7h0M186.5 546h0M181.8 574.5h0M195.1 558.1h0M169.4 580.7h0M168.4 549.1h0M171.1 541.9h0M172.6 575.5h0M165.3 555.9h0M178.2 571.4h0M162.1 542.4h0M162.3 537.4h0M156.3 547.1h0M181.5 558.7h0M174.4 577.5h0M176.7 570.8h0M169.8 565h0M165.1 550.4h0M149.3 548.1h0M180.3 571.3h0M176.3 575.3h0M164.6 541h0M170.3 567.1h0M165.9 538.9h0M152.3 549.7h0M161.8 560.8h0M180.5 543.3h0M171.9 532.6h0M190.1 544.4h0M166 545h0M160.7 581.5h0M171.9 557.4h0M171.9 562.8h0M171.4 534.7h0M172.3 561.8h0M172.4 544.2h0M194.8 583.9h0M168.1 562.8h0M177.3 536.2h0M146.9 559.3h0M159.1 545.4h0M147.3 556.2h0M142.8 581.6h0M171 551h0M183 540.5h0M164.3 546.5h0M171.3 568.7h0M186 542.5h0M173.7 576.6h0M165.6 547.1h0M156.5 576.3h0M154 571.9h0M159 566.5h0M178.9 575.3h0M173.4 531.6h0M163.6 559.7h0M221.4 542.4h0M166.7 573.4h0M175 552.5h0M176.7 556.4h0M170.8 542h0M174.5 534.4h0M151.8 548h0M180.7 542.5h0M173 530.1h0M169.2 535.1h0M189.4 542h0M158.1 547.7h0M164.5 571.9h0M174.2 570.1h0M175 540.1h0M166.2 534.1h0M143.9 541.3h0M173.8 567.9h0M166.1 576.3h0M168.3 537.3h0M163.4 553h0M149.8 582.3h0M174.9 568.5h0M163.4 578.9h0M152.8 584.1h0M183.1 573.1h0M188.5 570.7h0M172 543.5h0M163.4 555.5h0M158.4 538.4h0M177.2 532.8h0M187.5 558.4h0M167.2 578.7h0M172.1 569.1h0M181.1 545.4h0M180.2 576.6h0M185.3 576.7h0M191.8 579.1h0M181.4 553.5h0M168.5 532h0M159.7 529.8h0M153.3 572.9h0M158.8 563.3h0M192.6 563h0M160.4 577.7h0M168.3 538.9h0M169.5 554.3h0M165 551.2h0M175.3 561.3h0M186.1 544.2h0M167.4 530.7h0M148.3 538.7h0M179.5 551.6h0M162.7 555.1h0M155.4 533.5h0M164.6 574.6h0M170.3 530h0M179.2 533.7h0M174.8 545.4h0M178.7 577.1h0M188.3 569h0M182.7 544.9h0M202.3 579.2h0M175 569h0M168.1 569.4h0M153.1 577.7h0M178.2 556.1h0M184.2 561.9h0M156.7 570.8h0M160.9 548.7h0M180.5 545.3h0M176.1 536.6h0M179.4 583h0M186.8 535.5h0M174.1 573.1h0M191.5 538.8h0M155.2 550h0M148.6 548.2h0M175.6 572.8h0M152.4 555.6h0M160.2 544.9h0M160.8 551.3h0M190.8 532.2h0M148.2 565.2h0M208 580.6h0M157 570.2h0M164.9 566.9h0M137.9 570.7h0M191.3 532.9h0M183.6 582.4h0M169.5 570.9h0M147.2 547.5h0M137.2 537.7h0M153.8 534.9h0M168.5 571.8h0M159.9 531.5h0M166.6 564.9h0M166.8 568.2h0M209.6 558.9h0M173.9 389.2h0M163.7 422.7h0M183.8 427.8h0M34 567.4h0M71.8 560h0M112.5 535.8h0M119 566.6h0M125.2 560h0M204.8 535.7h0M195.2 541.3h0M196.5 549.1h0M193.8 558.1h0M208.2 563h0M222.7 564.8h0M208.2 567.6h0M198.1 577.5h0M218.6 581.5h0M238.9 576.1h0M190.3 476.1h0" stroke="#818181" stroke-width="2.2" stroke-linecap="round" fill="none" stroke-opacity="0.56"/>
<path d="M173 568.1h0M173.6 584.1h0M177.6 568.9h0M173.8 530.4h0M177.1 574.4h0M168.7 549.3h0M177.5 569.5h0M173.2 576h0M172 584.2h0M171.9 496.2h0M171.6 520.1h0M170.7 551.5h0M170.3 553.8h0M173 530.7h0M173.2 562.5h0M182.2 559h0M169.5 554h0M173.3 539.3h0M170.6 565.1h0M167.5 525.7h0M168.8 570.3h0M180.2 572h0M172.6 580.2h0M169.2 581.8h0M169.8 564.9h0M173.9 520.4h0M174.2 551.5h0M177.9 544.1h0M176.7 573.7h0M168.8 551.5h0M182.9 567.7h0M177.6 545.9h0M172.2 552h0M168.9 537.1h0M177.6 565h0M172.3 574.5h0M168.5 558.6h0M173.5 549.6h0M178.6 581.1h0M175 546.5h0M174.5 577.9h0M167.4 566.3h0M169 534.2h0M169.1 521.2h0M174.7 522h0M178.8 582.9h0M179.1 583.5h0M174.1 583.6h0M174.2 573.8h0M169.8 534.6h0M177.4 555.9h0M169.8 571.6h0M175.3 562.2h0M173.3 580.1h0M173.6 582h0M169.9 569.5h0M172.4 583.5h0M175.2 573.5h0M171.5 538.2h0M177 558.5h0M176.9 544.7h0M170.9 567h0M174.9 570.6h0M176.3 582h0M174.5 561.3h0M167 573.6h0M178 567.2h0M172.3 559.1h0M177.5 530.7h0M174.4 528.3h0M170 581.3h0M169.3 558.9h0M174.6 573.1h0M176.4 562.1h0M169.2 503.2h0M170.6 536h0M170.9 566.5h0M176.1 569.9h0M171.1 495.6h0M175.7 563h0M173.1 580.8h0M172.2 583.4h0M173.9 574.7h0M171.5 537.6h0M176.2 540h0M176.9 565.5h0M169.2 558h0M169.4 542.4h0M174.1 578.9h0M169.1 535.1h0M172.5 566.1h0M170.1 579.3h0M171.8 565.8h0M175.2 557.9h0M178.7 582.6h0M172.6 558.7h0M176.3 567.1h0M171.1 522.4h0M173.1 529.1h0M169.2 529.3h0M178.6 572.5h0M168.4 572.2h0M172.3 573.1h0M175.1 572.4h0M169.8 581.7h0M175.8 582.8h0M168.8 524.1h0M171.3 556.8h0M174.3 564.5h0M177.1 553.3h0M173.3 560.2h0M169.2 581.3h0M165.4 556.5h0M173.1 553.9h0M176.2 567.3h0M176.4 580.3h0M170 552h0M177.4 571.4h0M176.3 537.9h0M170.6 576.3h0M176.3 559.1h0M170.8 558.2h0M169.1 566.4h0M169.7 537.3h0M169.5 487.7h0M176.9 559.9h0M176.5 573h0M169.3 542.8h0M174.8 504.5h0M169 575.6h0M176 573.6h0M173.3 576.7h0M173.8 557.7h0M177 577.6h0M172.5 580.7h0M180.7 562.5h0M169.6 578.9h0M170.4 545h0M175.5 575.6h0M172 556h0M173 579.4h0M174.2 557h0M175.9 538.8h0M177.2 583.1h0M177.5 573.8h0M174.3 558.5h0M170.5 534.4h0M172.8 561.3h0M166.5 489.3h0M173.7 557.5h0M175.9 578.9h0M174.4 571.7h0M165.8 581.1h0M167.7 534.8h0M176.6 520.2h0M171.9 529.5h0M173.9 575h0M170.1 564.4h0M173.1 576.2h0M175.1 575.7h0M170.9 499.9h0M173.5 576.5h0M169.3 550.9h0M176 554.1h0M168 552.2h0M170.9 565.7h0M178.7 577.6h0M174.8 563.1h0M175.5 561.8h0M172.5 569.6h0M172.3 552.9h0M170.6 567.9h0M169.4 571.9h0M171.9 521.5h0M171.3 579.4h0M172.1 567.6h0M175.9 579.8h0M173.7 528.7h0M172.4 549.5h0M170.5 468.3h0M168.5 550.6h0M173.2 581.9h0M171.9 576.4h0M168 574.1h0M174.4 578.9h0M174.1 568.1h0M179 565.2h0M171 515.1h0M176.9 582.4h0M174.3 561.7h0M171 478.9h0M171.2 582.6h0M173.3 527.1h0M174.4 517.1h0M173.1 563.4h0M168.3 557.6h0M170.9 562.3h0M169.5 577.5h0M172.8 550.2h0M179.6 567.2h0M172.2 572.6h0M168.3 511.5h0M180.6 582.8h0M180.8 581.5h0M172.9 569.8h0M175.5 574.4h0M175.1 568.7h0M170 563.7h0M177 582.8h0M175.4 583h0M171.9 583.5h0M173.5 556.9h0M163.5 561.2h0M182.2 583.9h0M174.8 579.6h0M179 579.2h0M174.4 526.7h0M171.6 520.9h0M175.8 581.4h0M173.9 535.4h0M166.8 566.8h0M170.3 576.7h0M175.3 577.1h0M170.6 508.4h0M171.6 574.8h0M171.5 538.7h0M175.7 577.2h0M167.8 574.4h0M171.3 571.1h0M170.1 504.2h0M169.8 580.5h0M181.8 561h0M169.9 580.4h0M180 571.9h0M169.3 503.3h0M174.5 562.6h0M180.5 550.9h0M172 539.9h0M170.1 554.6h0M173.4 563.3h0M169.2 570.2h0M180.4 566.8h0M175.6 527.4h0M171.9 515.5h0M169.2 551.6h0M173.9 576.2h0M169.8 560.2h0M177.1 561.6h0M169.6 557.4h0M174.9 578.1h0M169.4 476.5h0M172.3 580.4h0M168 583h0M171.8 570.5h0M168.3 535.8h0M176.5 580.3h0M170.6 568.3h0M173.5 555.1h0M173.3 559.3h0M174.2 566.6h0M171.6 574.3h0M172.6 547.6h0M172.6 563.5h0M170.5 551.1h0M172 558.8h0M172 571.1h0M173.2 583.4h0M175 580.2h0M171.5 547.7h0M181.6 526.1h0M159.4 499.9h0M173.5 507.8h0M178.3 570.9h0M179 573.5h0M174 570.8h0M173.4 514.3h0M171.7 547.8h0M172.1 558.5h0M175.7 546.1h0M170.3 575.8h0M175.3 553.2h0M174.8 581.8h0M173.7 574.8h0M174.6 573.4h0M182 575.9h0M164 550.1h0M170.9 519.1h0M171.8 580.4h0M176.3 578.8h0M177.5 574.1h0M172.6 557.4h0M174.1 573.3h0M166.6 574.5h0M175.9 575.6h0M180 578h0M174.2 550.5h0M170.5 567.9h0M169.3 553.1h0M165.9 538.1h0M171.3 567.7h0M172 527.2h0M175.2 580h0M176.7 573.3h0M176.4 531.1h0M172.9 543.9h0M180.7 577.7h0M172.1 572.3h0M173.6 571.6h0M174.7 567.5h0M171.8 571.9h0M178.6 568.7h0M166.4 554.3h0M177.1 571.6h0M170 570.8h0M172.7 565.1h0M170.8 564.8h0M167 529h0M163.4 582.2h0M173.5 500.6h0M172 535.6h0M173.4 522.5h0M175.3 510.1h0M169.8 583.7h0M171.1 550.4h0M170.7 527h0M183.4 584.3h0M173.5 578.2h0M173.4 572.8h0M159.9 511.5h0M170.6 554.6h0M177.2 582.8h0M161 570.6h0M169.2 573.3h0M179.1 582.9h0M172.8 576.7h0M176.9 565.2h0M182.1 584.1h0M168.6 555h0M181.4 563.2h0M177 549.6h0M173.9 563.1h0M173.4 568.8h0M177.6 546.7h0M163.8 544.1h0M175.2 568.3h0M181 580.2h0M172 574.1h0M161.2 530.7h0M170.4 574.1h0M178.5 565.4h0M174.7 582h0M160.8 577.3h0M173 580.4h0M169.7 555.3h0M158.9 561.2h0M167.7 556.5h0M167 541.8h0M180.1 533.7h0M183.3 581.9h0M166.9 580.2h0M172.3 518.9h0M163.2 556.2h0M170.7 571.2h0M174.8 517.3h0M173.9 580.1h0M160.3 571.4h0M172.3 560.1h0M174.9 564.1h0M180.7 576.4h0M169.4 541.2h0M154.9 582.7h0M177.5 577.4h0M175.6 581h0M165.3 544.6h0M163.4 486.3h0M170.8 573.8h0M169.5 556.2h0M183.4 581.4h0M168.4 542.6h0M175.8 576.9h0M177.7 572.1h0M176.5 553.7h0M162.3 569.8h0M166.5 566.6h0M176.1 544.6h0M173 564.2h0M174.9 518h0M173.8 581.2h0M170.2 541.4h0M178.1 528.2h0M171.9 556.6h0M170.9 552.6h0M181.2 505.9h0M166.7 560.4h0M169.6 577.3h0M180.5 556h0M162.9 550.7h0M169.2 583.4h0M164.1 557.9h0M177.9 479.9h0M169 577.6h0M177.5 533.2h0M170.7 494.4h0M167.3 562.7h0M172.5 486.4h0M171.7 572.5h0M179.3 573.6h0M169.8 580.7h0M173.7 568.8h0M171.3 537.3h0M180.1 558.8h0M164.5 522.4h0M161.4 579.8h0M179.4 583.4h0M174.9 579.3h0M165 534.8h0M163 568.8h0M178.5 573.9h0M174.8 550.2h0M182.1 544.9h0M182.3 465.2h0M166.9 567.2h0M174.2 569.8h0M178.8 564.9h0M167.6 566.3h0M160 559.8h0M169.3 520.9h0M186.5 579.4h0M172.4 579.6h0M172 536.1h0M175.4 550.3h0M173.5 549.2h0M172.4 563h0M167.1 574.1h0M175.9 577.9h0M183.2 540.6h0M163.5 542.3h0M168.4 581.8h0M170.5 576.2h0M183 568.4h0M177.7 558.3h0M173.4 563.7h0M171.6 579.7h0M168.5 552.3h0M172.8 561.6h0M169.6 565.7h0M173.3 537.5h0M170.7 567.4h0M177.7 571h0M162.7 534.3h0M172.9 534h0M182.2 562.2h0M176.1 580.2h0M173.1 582.2h0M168.6 580.4h0M182.1 552.2h0M165.3 578.7h0M183.3 560.3h0M162.2 543.9h0M157.8 526.5h0M169 562.4h0M169.7 553.2h0M174.6 561.8h0M171.3 563h0M172.6 563.8h0M171.9 541.2h0M182 547.3h0M174.9 534.1h0M164.8 578.5h0M169.5 527.1h0M176.8 571.1h0M170.1 523.1h0M178.2 582.9h0M177 571.4h0M165.7 540.1h0M173.2 583.1h0M167.7 567.2h0M179 580.5h0M164.4 572.6h0M174.3 584.3h0M172.4 566.7h0M170.4 563.8h0M170 570h0M176.3 575.2h0M171.3 552h0M165.2 516.8h0M165 574.1h0M175.7 579.3h0M176.4 530.1h0M175.6 530.8h0M168.6 523.1h0M164.5 577.6h0M165.9 579.9h0M170.3 504.9h0M177.7 572.4h0M169.8 548.3h0M178.8 563.4h0M172.1 567.5h0M162.4 527.2h0M174.6 517.8h0M171.1 566.4h0M167.1 567.3h0M172.7 515.2h0M168.6 581.4h0M177.9 546.3h0M181.5 581.3h0M177.1 480.5h0M176.1 542.5h0M179 584.3h0M181 580.3h0M177.3 582.1h0M168.3 506.2h0M169.9 531h0M175 579.8h0M168.5 560h0M180.5 553.2h0M170.5 572h0M183.6 486.8h0M168.5 582.4h0M167.1 496.2h0M171.4 581.4h0M168.1 575.4h0M173.1 580.6h0M186.6 581.3h0M151.8 545.7h0M169.6 581.4h0M179.9 516.3h0M181 560.8h0M169.4 559.1h0M176.1 572.6h0M189.7 570.6h0M176.3 531.2h0M177.8 581.3h0M175.8 471.6h0M167.6 536.3h0M176.1 558.9h0M169.3 577.1h0M160.7 559.7h0M179 579.5h0M175.1 559.5h0M168.8 464.2h0M165.4 566.9h0M171.8 561h0M167.9 562.3h0M161 536.6h0M168.7 562.5h0M158.3 488.1h0M177.4 548.1h0M160.7 562.6h0M169.2 580.1h0M172.3 574.7h0M177.5 563.6h0M171.1 564.2h0M175.6 567.2h0M171.6 492.2h0M178.1 579.5h0M173.4 576.6h0M168.7 519.2h0M181.6 568.5h0M178.7 544.6h0M169.8 571.4h0M175.3 576.6h0M163.3 564.1h0M171.3 576.1h0M173.4 515.2h0M182 536h0M171.4 558.2h0M177.7 572.9h0M176.7 562.5h0M175.3 573.2h0M171.1 554h0M175.7 542.4h0M170 569.5h0M174.4 452.2h0M169.9 579.2h0M176.9 543.9h0M168.3 567.8h0M173.3 557h0M167.6 491.6h0M169.5 557.6h0M167.4 583.6h0M170.9 530.3h0M158.8 547.8h0M176.6 583.3h0M166.5 572.7h0M180.9 577h0M165.1 526.9h0M180.6 572.4h0M173.4 578.6h0M160 543.2h0M167.2 565h0M173.8 532.1h0M183.1 511.8h0M176 559.5h0M165.7 552.1h0M164.2 555.6h0M169.7 576.6h0M177.6 573.1h0M184.1 560.1h0M179.5 561.9h0M168.1 538.7h0M161.3 574.9h0M174.2 552.5h0M177.2 520.7h0M165.7 560.5h0M164.8 567h0M169.6 543.4h0M165.5 527.6h0M179.4 567.6h0M177 572.7h0M171.9 550.4h0M167.8 540.4h0M172.4 449.1h0M174.2 559.7h0M170.8 516.3h0M177.5 551.8h0M167.4 565.4h0M177.2 554.5h0M173 534.8h0M162.1 529h0M176.4 564.6h0M191.3 564.6h0M170.7 575.3h0M176 574.6h0M170.6 576.8h0M172.2 537h0M175.2 559.5h0M173.9 582.1h0M179.5 583.7h0M166 551.5h0M176.5 567h0M171.4 568.7h0M172.5 566.1h0M178 457.6h0M172.4 568.8h0M173.3 513.4h0M170.1 575.6h0M170 582.8h0M173.4 580.6h0M175.4 553.8h0M180.1 556.9h0M165.2 538.8h0M158.1 570.2h0M171.9 572.9h0M169.6 481.3h0M173.7 573.1h0M167.4 570.2h0M177.9 556.7h0M176.1 576h0M179.8 573.3h0M172.8 570.4h0M161.5 538.1h0M177.1 569.8h0M162.7 577h0M179.7 575.9h0M168.7 554.7h0M177.5 553.5h0M166 553.8h0M176.9 580.7h0M173.6 573.8h0M181.5 564.5h0M178 569.7h0M183.7 584.3h0M170.4 572.7h0M179.7 562.7h0M172.1 580.6h0M175.2 530.5h0M162 574.2h0M186.5 559h0M143.6 566.5h0M149.3 568.6h0M202.5 561.7h0M162.4 546.7h0M170.5 549.5h0M162.7 554.2h0M176.6 572.3h0M183.2 577.9h0M163.7 533.8h0M176.9 542.6h0M186.3 573.8h0M174.3 558.9h0M161.6 548.3h0M178.4 571h0M170.9 563.7h0M178.4 564.7h0M158 536.8h0M178 533.8h0M176 578.1h0M160.1 570.2h0M163.6 583h0M173 531.9h0M160.2 542.6h0M159.7 529.9h0M161.1 563.3h0M173.8 554.6h0M169.3 537h0M185 562h0M192.6 557.1h0M170 539.5h0M166.9 564.7h0M187.7 538.1h0M181.9 558.8h0M181.4 556.5h0M171.2 530.1h0M146.9 545.7h0M154.5 538.2h0M168.3 542.3h0M146.3 543.3h0M155.6 568.8h0M163 555.4h0M183.4 579.5h0M177.6 582.9h0M176.4 561.6h0M178.4 529.9h0M163.5 554.6h0M164.6 582.3h0M171.2 541.1h0M167 577.3h0M191.7 534.7h0M181.9 571.3h0M172.8 583h0M158.9 551h0M177.8 534.6h0M157.5 573h0M150.6 548.2h0M166.5 563h0M179.7 580h0M170.7 564h0M160 542.1h0M189.5 570.3h0M171.6 546.2h0M158.4 541.6h0M186.8 571.5h0M175 577.1h0M174.2 530.4h0M167.5 565.8h0M154.2 546.8h0M174.2 554.3h0M177.7 546.8h0M165.9 558.1h0M182.1 529h0M144.8 570.6h0M172.3 578.3h0M165.4 567.3h0M199.4 531.7h0M182.5 582.1h0M165.6 534.8h0M166 574.1h0M164.7 559.9h0M176.6 554.2h0M164.5 556.3h0M179.1 580.7h0M162.8 537h0M171.1 573.5h0M161.6 564.5h0M145.3 532.1h0M192.2 571.5h0M184.6 583.7h0M164.7 545h0M201.2 564.8h0M160 577.7h0M184.7 580.6h0M173.8 578.2h0M178.8 544.5h0M174.7 572.2h0M133.9 562.1h0M188.3 531.1h0M158 533.5h0M164.5 529.7h0M169.4 533h0M172.6 580.5h0M175.7 543.6h0M188.3 574.9h0M184.1 542h0M165.5 551.3h0M168.3 556.1h0M187.2 572.4h0M159.8 545h0M184.5 547.9h0M177.9 531.5h0M172.9 572.4h0M191.8 536.3h0M172 560.6h0M149 559.7h0M176.8 578.4h0M178.5 548.6h0M178.8 542.7h0M179.4 569.7h0M170.4 540.1h0M154.1 547.8h0M175.8 541.6h0M163.6 567.8h0M207.7 531.6h0M184.6 550.4h0M158.2 542h0M165.8 544.3h0M178.7 554.6h0M180.2 577.3h0M173.3 574.2h0M181.9 571.8h0M198.6 564.9h0M201.3 562.7h0M189.4 533.7h0M200.1 559.5h0M161.7 564.7h0M180.4 536.3h0M175.6 555h0M168.6 567.4h0M173 536.2h0M197.1 572.5h0M174.9 583.5h0M190 564.6h0M166.7 562.4h0M172 559.9h0M179.2 548.8h0M176.1 583.6h0M178 553.6h0M183.7 581.4h0M160.9 538.9h0M180.6 548.1h0M173.5 581.8h0M156.5 544.9h0M189.3 544.5h0M168.3 529.5h0M180.5 550.2h0M201.8 536.8h0M164.6 576.4h0M173.8 562.4h0M161.9 542.8h0M176.1 553h0M159.1 531.2h0M172.7 566.2h0M161.7 539.1h0M183.9 575.7h0M184 565.2h0M167.2 557.3h0M162.7 580.8h0M190.2 574.3h0M166 557.1h0M173.9 531.4h0M167.1 572.9h0M181.1 575.5h0M173.6 570.7h0M176.1 544.5h0M163.9 563.2h0M157.9 574.7h0M164.3 577.7h0M193.2 536.3h0M176.9 537.8h0M161.6 552.9h0M166.7 560h0M206.7 548.7h0M165.2 575.8h0M165.2 549.5h0M171 584.1h0M174.1 584.3h0M161.9 542.4h0M165.9 551.4h0M182.7 574.6h0M163.6 572.7h0M175.7 550.5h0M152.2 576.8h0M158.6 571.8h0M151 566.8h0M170.8 542.4h0M180 530.3h0M139.2 577.1h0M182.1 528.9h0M199.2 548.3h0M187.8 582.6h0M131.1 575.6h0M173.8 564h0M190.6 579.8h0M194.7 576h0M189.6 568.2h0M161.7 532.9h0M201.6 559.9h0M190.4 541.4h0M194.1 570.2h0M171.3 542.3h0M197.7 538.5h0M200.2 579.6h0M156.9 547.7h0M168.7 402.7h0M162.1 425.4h0M159.8 433.8h0M57.8 543.6h0M79.5 554.6h0M117.8 543.6h0M120.6 569.4h0M127.3 566.6h0M201.6 539.6h0M194.6 545.8h0M199.3 550h0M200.7 559.5h0M210.8 564.8h0M199.3 564.8h0M216 567.8h0M212.6 577.7h0M259.8 541.6h0M268.5 574.7h0" stroke="#818181" stroke-width="2.2" stroke-linecap="round" fill="none" stroke-opacity="0.56"/>
<path d="M182.6 558.7h0M170.8 503.8h0M174.6 575.4h0M175.6 578h0M178.2 559.1h0M168.2 562.2h0M174.7 550.5h0M172.2 555.3h0M172.9 558.5h0M169.5 544.1h0M176.3 580.2h0M174.8 549.3h0M174.5 582.4h0M166.6 507.1h0M172.2 557.5h0M175.5 559.3h0M177.4 553.9h0M176.2 565.8h0M168.7 562.9h0M168.8 563.5h0M165.6 499.8h0M168.7 583.8h0M177.1 505.8h0M174.8 579.1h0M174.3 542.7h0M174.1 531.7h0M170.8 551.5h0M165.2 547.6h0M178 583.9h0M171.9 456.5h0M176 578.3h0M178.7 567.2h0M164.6 530.5h0M173 577.2h0M171.7 521h0M175.9 553.5h0M171.8 507.6h0M170.2 567.4h0M179.8 518.1h0M172.2 568.7h0M175.1 559.1h0M172.1 576.5h0M173 547.4h0M169.4 545.4h0M172.6 582.9h0M171.2 571.7h0M169.8 570.1h0M168.3 568.6h0M176.4 538.5h0M174.6 582.3h0M170.3 574.3h0M171.4 545h0M171.6 577.6h0M175.9 541.2h0M173 576.3h0M170.7 529.9h0M172.9 576.6h0M177.7 513.9h0M176.2 583.8h0M178.1 538.3h0M171 568.1h0M171.6 581.6h0M168.8 583.4h0M172.4 580.7h0M167.7 576.5h0M176.6 564h0M169.5 578.8h0M171.7 565h0M168.6 519.3h0M171.5 522.3h0M169.2 486.6h0M177.4 537.7h0M170.1 564.4h0M173.3 567h0M180 567.1h0M175.9 568.9h0M173.7 578.1h0M171.9 576h0M180.9 572.3h0M174.3 556h0M165.3 531.2h0M166.3 529.1h0M169.7 578.8h0M177.9 570.4h0M172.1 573.6h0M165.7 572.7h0M170.6 576h0M173.8 569.6h0M179.3 577.8h0M174.7 583h0M177.6 583.4h0M170.7 575.3h0M170.2 525.7h0M174.1 574h0M174.1 564.5h0M173.1 569.3h0M172.3 579.6h0M175.1 581.3h0M172.2 516.1h0M172.4 545h0M175.6 549.7h0M167.9 584.1h0M171.5 566.1h0M168 552h0M168.3 556.4h0M175.4 574.3h0M175.1 578.1h0M170.3 558.9h0M175.7 529.8h0M172 537.6h0M170.1 564.8h0M174.9 549.9h0M171.5 521.1h0M165.5 577.2h0M167 566.6h0M170.1 568.3h0M170.9 567.9h0M179.1 567.9h0M174.2 476.6h0M171.5 528.8h0M169.7 528h0M174.2 510.1h0M173.5 535.5h0M176.8 571.3h0M170.7 566.7h0M175.9 573.6h0M175.1 577.4h0M176.6 574h0M169.8 536.1h0M169.4 568.7h0M169.5 575.3h0M168.2 572.9h0M174.4 581.9h0M171.1 578.4h0M179.8 571.7h0M174.6 570.4h0M177.2 569.9h0M174 570.7h0M166.8 584.1h0M174.8 581.9h0M170.7 555.5h0M170 568.3h0M178 549.7h0M174.3 568h0M176.6 582.8h0M174.4 578.5h0M178.5 546.2h0M171.9 550.4h0M170.9 568.2h0M176.1 557h0M179.6 574.6h0M170.1 576.8h0M175.2 564.5h0M178.3 566.7h0M170.7 540.7h0M173.5 582.7h0M170.7 502.2h0M170.8 543.4h0M171.5 577.6h0M171.9 530.6h0M174.1 560.9h0M180.6 573.3h0M179.8 577.2h0M178.1 584.3h0M174 574.6h0M172.1 572.5h0M165.9 540.8h0M169.7 557.6h0M173.1 552h0M167.9 563.8h0M176.5 565.2h0M178.5 565.7h0M171.5 581.3h0M169.4 582.8h0M173.2 573.2h0M173.6 572.6h0M169.8 577.8h0M179.2 558.7h0M174.6 581.6h0M166.7 584.3h0M170.2 565.2h0M170.6 577.4h0M168.2 556.9h0M173.5 581.9h0M169.7 576.2h0M165.6 514.2h0M174.5 574.3h0M173.5 574.9h0M176.6 529.2h0M171.5 583.1h0M172.1 583.2h0M173.2 554.6h0M170.9 553.6h0M172.9 496.9h0M179.5 564.3h0M172 565.4h0M173.1 561.5h0M173.9 582.5h0M170.8 561.3h0M168.2 552.6h0M169.7 579.4h0M169.6 481.7h0M171.1 560.8h0M170.6 562.1h0M180.2 582h0M179.1 579.9h0M171.5 542.4h0M176.5 540.2h0M173.5 584.3h0M175.4 555.1h0M171.7 490.6h0M172.3 583h0M173.6 573.2h0M172 582.9h0M174.3 530.1h0M170.3 572.8h0M170.5 580.4h0M177 561.5h0M175.5 579.5h0M176.6 581.4h0M177.2 553.9h0M166.9 567.7h0M168.3 569.7h0M170.6 558.1h0M173.4 569.4h0M169.2 534.6h0M171.4 542.6h0M176.2 582.8h0M172.1 521.7h0M171.1 584.1h0M168.1 553.4h0M169.5 553.9h0M170.7 515h0M164.6 496.9h0M173.5 558.8h0M173.8 509.4h0M176.6 568.9h0M170.1 553h0M172.4 553h0M170.5 555.3h0M168.3 521.6h0M174.4 567.3h0M170.2 566.9h0M174.3 529.4h0M177.5 573.3h0M172 549.4h0M176.8 521.6h0M171.8 578.1h0M173.7 570h0M171.5 538.4h0M174.2 584h0M174.5 526.7h0M171.3 547.6h0M171.4 563.4h0M177.7 563.2h0M170.2 550.6h0M171.2 542.4h0M172.3 533.5h0M165.5 524.7h0M172 569.3h0M171.8 582.4h0M176.9 579.8h0M174.4 553.9h0M170.7 571.2h0M178.3 570.4h0M181.2 566.3h0M168.7 575.6h0M171.5 535.5h0M167.6 543.4h0M174.5 512.1h0M170.8 554.7h0M175.5 574.2h0M169.3 555.9h0M175.4 494.1h0M172.1 556h0M170.4 518.8h0M172.3 547.3h0M172.3 503.2h0M169.5 561.2h0M171.1 552.6h0M172.8 577.9h0M170 544.2h0M171.4 558.1h0M172.1 557.7h0M171.3 536.9h0M172.3 521.8h0M169.7 538.6h0M172.7 555.8h0M180.3 578.4h0M177.3 584.4h0M174.5 578.4h0M170.9 575.8h0M173.9 580.3h0M175.5 543.7h0M169.7 583.8h0M176.6 571.9h0M171.2 583.5h0M173.3 505.2h0M170.6 568.6h0M176.8 580.4h0M173.3 492.4h0M172.5 527.1h0M173.8 545.2h0M171.9 525.8h0M169.7 581.4h0M175 569h0M179.2 548.7h0M171.8 557.9h0M178.3 545h0M167.9 561.1h0M180.8 566.9h0M173.5 561.2h0M177.6 498.3h0M166.7 567.4h0M174.4 568.1h0M172.7 569.8h0M169.2 519.5h0M162.9 531.4h0M178.1 580.4h0M166.7 566.3h0M173.7 556.1h0M173.7 555.8h0M167 583h0M170.5 577.8h0M172.9 498.5h0M178.4 582.4h0M177.7 537.5h0M177.9 564h0M179.6 567.3h0M167 528.7h0M169.3 550.7h0M174.2 556.8h0M171.6 579.7h0M184.3 561.5h0M165.2 532.2h0M187.6 570h0M165.1 580.2h0M176.1 535.2h0M177.3 575.1h0M166.2 549.6h0M181.9 575.7h0M167.8 565.3h0M174.7 557.2h0M181.2 476.9h0M176.6 567.5h0M163.7 545.2h0M172.5 556.3h0M171.4 488h0M175.2 560.3h0M170.5 573.9h0M177.9 582.7h0M160.8 507.5h0M172.1 558.5h0M165.3 566.3h0M171.6 563.3h0M172.6 560.1h0M176.9 554.9h0M171 582.6h0M176.9 579.6h0M177.4 537.7h0M181.7 577.7h0M174.1 491.1h0M178.4 553.6h0M169.9 527.3h0M176.8 483.7h0M167.8 578.4h0M173.6 574.4h0M173.5 570.3h0M168.4 460.3h0M179 557.1h0M169.2 558.1h0M176.3 544h0M168.1 563.1h0M163.3 510.6h0M163.7 442.9h0M177.4 549.9h0M173.1 580.4h0M169.5 577.7h0M167.1 536.7h0M172 582.7h0M164.2 557h0M171 554.2h0M172.3 563.7h0M170 568.3h0M169.2 536.2h0M161.8 521.7h0M171.7 473.6h0M175.9 583.6h0M174.5 579.3h0M176.5 519.4h0M171.9 579.8h0M176 530.8h0M179.5 485.9h0M175.4 554.5h0M172.6 579.7h0M174.8 582h0M167.5 551.9h0M174 567.9h0M167.7 582.8h0M180.3 577.3h0M172 554.2h0M179.5 579.5h0M174.7 582.6h0M185 573.7h0M161.4 580h0M173.7 540.2h0M175.9 573.2h0M168.7 561.5h0M177 583.9h0M164.8 531h0M175.5 573.9h0M172 534.6h0M170.5 569.7h0M164.9 568.9h0M176.4 568.6h0M163.8 545.6h0M167.2 558h0M177 566.6h0M174.8 577.4h0M180.6 549.8h0M169.4 582.2h0M173.9 561.6h0M183.6 564.2h0M169.4 493.4h0M168.4 510.8h0M178.7 578.4h0M166.9 578.7h0M176.9 580.7h0M163.1 440.8h0M171.5 549h0M164.1 555.9h0M177.2 511.8h0M177 548.1h0M165.2 565.9h0M177 478.5h0M177.2 556.7h0M166.1 582h0M170.8 570.7h0M180.9 525.7h0M169.4 574.3h0M170.1 565.6h0M160.6 502.1h0M159.1 542.9h0M173.2 583.9h0M182.6 583.5h0M157.5 560.7h0M166.9 527.7h0M175 546h0M182.8 547.2h0M160.9 564.2h0M169.2 580.9h0M171.2 574.1h0M176.5 575.5h0M175.4 571.1h0M171.7 538.1h0M165.6 533.3h0M175.8 575.5h0M172.2 532.1h0M168.9 578h0M165.6 555.7h0M169.6 580.8h0M172.4 500.2h0M175.7 574.6h0M175.5 511.7h0M169.3 560.5h0M183.3 568.9h0M169.9 566.4h0M165.1 546.7h0M171.5 568.4h0M166.6 570h0M169.3 544h0M181.2 560h0M165 533.2h0M175.9 559.4h0M172.1 574.4h0M166.6 573.4h0M174.6 574.3h0M167.8 496.6h0M175.2 579.9h0M168.1 513.1h0M180.3 530.1h0M180 543.5h0M173.4 549.6h0M170.6 563.1h0M170.6 576.8h0M173.9 580.2h0M165 583.3h0M177.2 573.3h0M160.9 581.4h0M177.9 558.2h0M174.9 524.5h0M165.8 576h0M165.9 555h0M158.9 515.4h0M166 582.7h0M169.3 568.5h0M176.4 530.9h0M164.2 549.3h0M177.2 511.2h0M173.9 499.9h0M171.2 577.1h0M170 541.3h0M185.7 561.3h0M171.8 579.8h0M162.9 528.3h0M175.2 584.3h0M173 576h0M183.2 486.8h0M165 558.7h0M167.6 579.8h0M174.8 572.3h0M174.7 457.8h0M158 538.3h0M172.3 536.5h0M176.9 581.5h0M158.1 576.3h0M176.8 564.2h0M171.5 579.9h0M176.3 567.8h0M176.7 576.8h0M167.5 560.6h0M183.4 584.2h0M177.2 517.3h0M170.8 543.6h0M163.6 517.7h0M179.5 579.8h0M182.6 555.7h0M172 580.3h0M178.9 568.5h0M168.1 571.2h0M170.8 541.1h0M172.8 583h0M177.3 577.9h0M177.3 577.2h0M171.5 578h0M171.8 558.4h0M174.2 556.6h0M174.8 564.6h0M175.3 561.7h0M172.7 535.1h0M170.1 574h0M179.7 537.3h0M172.8 566.1h0M178.1 570h0M165.7 521.5h0M174.5 546.3h0M169.8 556.3h0M166 474h0M158.8 564.1h0M168.5 577.1h0M183 564.3h0M170.7 576.5h0M179.5 569.7h0M168.9 552.5h0M174.3 468.2h0M171.4 571h0M174 511.5h0M176.9 564h0M174.8 566.9h0M175.2 508h0M170.5 525.9h0M170.6 549.2h0M168.5 578.1h0M171 551.7h0M163.5 580.4h0M170.4 580.6h0M172.6 577.2h0M179.5 574.7h0M178 550.5h0M169.9 578.1h0M173.7 558.1h0M180 574.4h0M166.3 513.8h0M166.4 552.5h0M172.4 577h0M173.9 518.6h0M168.9 546.3h0M183.3 571.9h0M182.9 575.9h0M171.1 560.7h0M170.7 581.6h0M170.1 565.9h0M169.2 580.3h0M180.3 582h0M175.2 537.3h0M174.9 535.5h0M173.7 536.5h0M172.7 541.1h0M174.5 565.6h0M180 531.5h0M167.7 553.8h0M166.9 552.7h0M167.1 580.3h0M176.7 569.2h0M162.9 506.6h0M173.2 561.2h0M171.1 474.5h0M177.7 570h0M182.9 569.7h0M167.7 547.9h0M171.1 553.6h0M185.8 557.4h0M178.8 581.1h0M167.6 575.5h0M166 560.5h0M182.7 560.8h0M171.9 545.4h0M174.2 539.4h0M174.6 572.9h0M173.5 567.6h0M180 568.7h0M168.6 576.4h0M172.5 572.9h0M172.7 584h0M182.7 577.8h0M172.2 579.4h0M175.9 580.1h0M154.2 549.2h0M167.9 581.5h0M174.1 583.4h0M173.1 578.6h0M170.2 554.9h0M170.8 583.9h0M170 576.3h0M177.8 578.4h0M174.2 582.2h0M176.6 550.1h0M169.1 522.6h0M171.9 584.2h0M173.7 555.4h0M173.3 549.5h0M174.1 584.2h0M166.4 579.9h0M166.9 557.1h0M183.6 576.8h0M171.8 569.6h0M179 580h0M170.8 567.7h0M171.2 551.7h0M165.8 571.8h0M163.1 556.6h0M170.6 533.8h0M159.9 568.5h0M163 580h0M170.5 553.2h0M175.9 575.6h0M173.9 555.8h0M175.3 558.9h0M168.8 544.2h0M176.9 536.2h0M170.1 570.2h0M171 559.3h0M184.3 546.5h0M173.7 546.4h0M181.7 580.5h0M163.3 543.4h0M184.2 577.5h0M178.6 579.5h0M175.3 531h0M170.3 560.8h0M182.7 536.8h0M165.8 572.7h0M178.4 543.1h0M170.3 562.3h0M169.1 530.2h0M176.1 579.3h0M164.4 541.3h0M174.1 547.6h0M166 568.4h0M161.2 575.6h0M179.3 561.5h0M174.6 551.8h0M192.9 542.8h0M162.3 561.5h0M175.3 565h0M200.7 540.4h0M168 575.7h0M157.4 548.5h0M151.4 549.6h0M169.2 568h0M179.2 550h0M173.3 542.8h0M166.1 561.9h0M187.9 563.6h0M151.9 583.9h0M163.6 570.6h0M160.6 563.2h0M143.4 568.3h0M189.8 533.1h0M192.2 560.6h0M176.1 564.8h0M178.2 577.2h0M159.4 559.6h0M154.5 553.6h0M161.4 528.7h0M190.4 531h0M185.3 583.9h0M167 536.6h0M164 556.6h0M153.9 541.7h0M201.8 558.3h0M142.7 572h0M153.9 536.8h0M164.1 547h0M182.2 558h0M175 574.3h0M185.8 531.1h0M157.6 557.9h0M158.4 533.1h0M172.8 546.8h0M192.9 575.8h0M186.1 562.9h0M184.3 575.4h0M176.5 583.1h0M166.2 573.9h0M165.6 565.1h0M164.2 572.7h0M182.4 535.1h0M181 568.6h0M173.6 535.7h0M180.6 569.3h0M181 547.6h0M189.8 550.2h0M187.2 533.4h0M169.6 579.6h0M180.2 555.7h0M161.9 564.8h0M168.9 549.4h0M163.4 540.1h0M161.1 537.7h0M178.3 549.4h0M179.8 543.7h0M182.6 529.8h0M153.9 552.5h0M176.4 559h0M194.5 559.7h0M186 543.5h0M170.4 581.2h0M173.7 576.7h0M159 566.8h0M190.6 578.6h0M167.2 556.6h0M162.3 545.8h0M165.6 541.3h0M163 554.1h0M177.8 562.2h0M187.6 567.1h0M148.2 579.3h0M167.4 561.5h0M169.6 547.8h0M161.4 549.2h0M186.2 548.7h0M183.9 545.4h0M178.7 547.6h0M168.7 551.1h0M169.2 582.7h0M193.8 582.6h0M169.7 562.9h0M178.2 560.4h0M207.7 536.4h0M170.5 556.3h0M184.4 564.5h0M173.9 574h0M155.5 546.9h0M154.1 565.6h0M169.5 565.5h0M180.3 550.1h0M174.6 551h0M178.4 547.9h0M175.6 577.2h0M155.2 575.3h0M180.6 553.4h0M177.4 564.3h0M175.8 552.8h0M165.2 537.4h0M174 555.8h0M182.8 574.6h0M171.1 572.8h0M160.5 561h0M157.3 557.5h0M170.3 544.5h0M164.7 551.6h0M200.6 531.9h0M168.3 570.7h0M195.5 557.6h0M193.8 570.3h0M153 532.3h0M160.5 570.9h0M181.3 537.9h0M158.8 549.2h0M163.8 532.6h0M161.2 557.3h0M145 542.2h0M167.5 570.8h0M171.5 543.6h0M183.3 554.8h0M167.4 549.4h0M164.2 547.9h0M161.9 541.4h0M174.8 575.6h0M169.4 558.1h0M178.7 552.8h0M154 577.6h0M168.3 536.4h0M185.1 567.6h0M180.4 580h0M165.8 532.8h0M154.9 557.2h0M171 537.5h0M189.2 538h0M171.4 572.3h0M179.1 533.2h0M179.6 561.9h0M167.1 571.5h0M153.8 578.5h0M178.8 530.8h0M165.6 567h0M158.8 546h0M172.1 552.5h0M155.3 546.8h0M177.4 535.4h0M186.1 581.3h0M154.3 579.2h0M172.6 541.7h0M182.9 544.3h0M186.2 548.3h0M175.2 560.3h0M177.1 539.6h0M175.6 577.1h0M174.9 579.9h0M171.9 547.9h0M167.5 550.5h0M169.1 573h0M183.1 536.6h0M157.1 550.3h0M163 573.6h0M167.4 563.1h0M165.8 548.5h0M167.9 582.9h0M192 564.4h0M204.5 549.7h0M163 558.1h0M161.2 574.5h0M145.2 568.8h0M175.2 567.4h0M156.1 546.1h0M156 534.2h0M155.9 580h0M176.7 577.9h0M170.4 541.3h0M159.1 570.3h0M169.8 551.9h0M163.5 534.3h0M171.4 540.8h0M172.1 537.7h0M171.9 541.2h0M186.7 552.1h0M151.8 558.6h0M169.8 534.6h0M185.7 539h0M165 562.4h0M177.4 533.3h0M168 562.4h0M177.7 541.6h0M180.6 578.7h0M199.1 567.7h0M190.6 534.4h0M185.5 562.6h0M205.1 578.4h0M196 547.7h0M188.5 530h0M189.7 571h0M133.4 537.9h0M207.4 547.8h0M202.6 532.7h0M144.2 571.5h0M195.2 559.5h0M134.8 559.5h0M178.5 573h0M167.8 569.5h0M127.6 557.3h0M173.3 564.3h0M167.4 382.5h0M172 404.2h0M177.5 427.2h0M167 433.8h0M58.4 562h0M84.1 575h0M121.3 530.4h0M112.2 579.9h0M127.3 576.5h0M203.7 539.9h0M211.3 547.4h0M203.8 554.1h0M201.9 559.1h0M218.2 561.9h0M194.4 566.9h0M199.8 574.4h0M200.7 581.7h0M226.1 551.3h0M271.8 579h0" stroke="#818181" stroke-width="2.2" stroke-linecap="round" fill="none" stroke-opacity="0.56"/>
<path d="M154 470.9h0M138.3 493.2h0M137.6 495.9h0M124.1 501.1h0M153.2 500h0M133.9 504.8h0M127.9 511.9h0M136.8 510.1h0M149.7 508.3h0M150.2 512.2h0M151.9 512.2h0M155.1 513.2h0M152.4 514.8h0M150.4 516.3h0M143 518.8h0M149.2 519.7h0M140.3 520.6h0M137.9 521.6h0M142.5 525.6h0M144.4 526.6h0M148 527.2h0M150 528.1h0M152.8 527.8h0M155.4 525.6h0M156.1 525h0M228.9 401.5h0M193.3 440.5h0M193.3 461.2h0M217.3 460.5h0M190.9 483h0M209.7 483h0M211.4 486h0M194 488.4h0M192 493h0M190.7 495.5h0M216.9 494.8h0M190.9 499.9h0M211 500.1h0M199.9 500.8h0M200.6 502.8h0M192 502.8h0M215.3 504.9h0M196 512.8h0M199.5 515h0M198.6 517h0M197.8 519.6h0M190.9 523.3h0M197.5 523.9h0M201.2 524.7h0M199.2 528.2h0M190.7 528.9h0M214.3 528.6h0" stroke="#d63a62" stroke-width="2.1" stroke-linecap="round" fill="none" stroke-opacity="1.0"/>
<path d="M19.5 361.2H327.5" fill="none" stroke="#a0a0a0" stroke-width="1.4"/>
<path d="M327.5 361.2V584.5" fill="none" stroke="#8a8a8a" stroke-width="1"/>
<path d="M19.5 361.2V584.5" fill="none" stroke="#b0b0b0" stroke-width="1"/>
<path d="M19.0 584.5H328.0" fill="none" stroke="#5a5a5a" stroke-width="1"/>
<path d="M20.9 585.3v-1.9000000000000001M20.9 361.2v1.1M26.8 585.3v-2.6M26.8 361.2v1.8M32.7 585.3v-1.9000000000000001M32.7 361.2v1.1M38.5 585.3v-1.9000000000000001M38.5 361.2v1.1M44.4 585.3v-1.9000000000000001M44.4 361.2v1.1M50.2 585.3v-1.9000000000000001M50.2 361.2v1.1M56.1 585.3v-2.6M56.1 361.2v1.8M62 585.3v-1.9000000000000001M62 361.2v1.1M67.8 585.3v-1.9000000000000001M67.8 361.2v1.1M73.7 585.3v-1.9000000000000001M73.7 361.2v1.1M79.5 585.3v-1.9000000000000001M79.5 361.2v1.1M85.4 585.3v-2.6M85.4 361.2v1.8M91.3 585.3v-1.9000000000000001M91.3 361.2v1.1M97.1 585.3v-1.9000000000000001M97.1 361.2v1.1M103 585.3v-1.9000000000000001M103 361.2v1.1M108.8 585.3v-1.9000000000000001M108.8 361.2v1.1M114.7 585.3v-2.6M114.7 361.2v1.8M120.6 585.3v-1.9000000000000001M120.6 361.2v1.1M126.4 585.3v-1.9000000000000001M126.4 361.2v1.1M132.3 585.3v-1.9000000000000001M132.3 361.2v1.1M138.1 585.3v-1.9000000000000001M138.1 361.2v1.1M144 585.3v-2.6M144 361.2v1.8M149.9 585.3v-1.9000000000000001M149.9 361.2v1.1M155.7 585.3v-1.9000000000000001M155.7 361.2v1.1M161.6 585.3v-1.9000000000000001M161.6 361.2v1.1M167.4 585.3v-1.9000000000000001M167.4 361.2v1.1M173.3 585.3v-2.6M173.3 361.2v1.8M179.2 585.3v-1.9000000000000001M179.2 361.2v1.1M185 585.3v-1.9000000000000001M185 361.2v1.1M190.9 585.3v-1.9000000000000001M190.9 361.2v1.1M196.7 585.3v-1.9000000000000001M196.7 361.2v1.1M202.6 585.3v-2.6M202.6 361.2v1.8M208.5 585.3v-1.9000000000000001M208.5 361.2v1.1M214.3 585.3v-1.9000000000000001M214.3 361.2v1.1M220.2 585.3v-1.9000000000000001M220.2 361.2v1.1M226 585.3v-1.9000000000000001M226 361.2v1.1M231.9 585.3v-2.6M231.9 361.2v1.8M237.8 585.3v-1.9000000000000001M237.8 361.2v1.1M243.6 585.3v-1.9000000000000001M243.6 361.2v1.1M249.5 585.3v-1.9000000000000001M249.5 361.2v1.1M255.3 585.3v-1.9000000000000001M255.3 361.2v1.1M261.2 585.3v-2.6M261.2 361.2v1.8M267.1 585.3v-1.9000000000000001M267.1 361.2v1.1M272.9 585.3v-1.9000000000000001M272.9 361.2v1.1M278.8 585.3v-1.9000000000000001M278.8 361.2v1.1M284.6 585.3v-1.9000000000000001M284.6 361.2v1.1M290.5 585.3v-2.6M290.5 361.2v1.8M296.4 585.3v-1.9000000000000001M296.4 361.2v1.1M302.2 585.3v-1.9000000000000001M302.2 361.2v1.1M308.1 585.3v-1.9000000000000001M308.1 361.2v1.1M313.9 585.3v-1.9000000000000001M313.9 361.2v1.1M319.8 585.3v-2.6M319.8 361.2v1.8M325.7 585.3v-1.9000000000000001M325.7 361.2v1.1M19.5 578h1.1M327.5 578h-1.1M19.5 571.7h1.1M327.5 571.7h-1.1M19.5 565.3h1.1M327.5 565.3h-1.1M19.5 558.9h1.1M327.5 558.9h-1.1M19.5 552.5h1.8M327.5 552.5h-1.8M19.5 546.2h1.1M327.5 546.2h-1.1M19.5 539.8h1.1M327.5 539.8h-1.1M19.5 533.4h1.1M327.5 533.4h-1.1M19.5 527.1h1.1M327.5 527.1h-1.1M19.5 520.7h1.8M327.5 520.7h-1.8M19.5 514.3h1.1M327.5 514.3h-1.1M19.5 507.9h1.1M327.5 507.9h-1.1M19.5 501.6h1.1M327.5 501.6h-1.1M19.5 495.2h1.1M327.5 495.2h-1.1M19.5 488.8h1.8M327.5 488.8h-1.8M19.5 482.4h1.1M327.5 482.4h-1.1M19.5 476.1h1.1M327.5 476.1h-1.1M19.5 469.7h1.1M327.5 469.7h-1.1M19.5 463.3h1.1M327.5 463.3h-1.1M19.5 457h1.8M327.5 457h-1.8M19.5 450.6h1.1M327.5 450.6h-1.1M19.5 444.2h1.1M327.5 444.2h-1.1M19.5 437.8h1.1M327.5 437.8h-1.1M19.5 431.5h1.1M327.5 431.5h-1.1M19.5 425.1h1.8M327.5 425.1h-1.8M19.5 418.7h1.1M327.5 418.7h-1.1M19.5 412.4h1.1M327.5 412.4h-1.1M19.5 406h1.1M327.5 406h-1.1M19.5 399.6h1.1M327.5 399.6h-1.1M19.5 393.2h1.8M327.5 393.2h-1.8M19.5 386.9h1.1M327.5 386.9h-1.1M19.5 380.5h1.1M327.5 380.5h-1.1M19.5 374.1h1.1M327.5 374.1h-1.1M19.5 367.8h1.1M327.5 367.8h-1.1" stroke="#555" stroke-width="0.6" fill="none"/>
<text x="26.8" y="589.9" font-size="3.5" font-weight="normal" fill="#555" font-family="'Liberation Sans', Arial, sans-serif" text-anchor="middle" >-5</text>
<text x="56.1" y="589.9" font-size="3.5" font-weight="normal" fill="#555" font-family="'Liberation Sans', Arial, sans-serif" text-anchor="middle" >-4</text>
<text x="85.4" y="589.9" font-size="3.5" font-weight="normal" fill="#555" font-family="'Liberation Sans', Arial, sans-serif" text-anchor="middle" >-3</text>
<text x="114.7" y="589.9" font-size="3.5" font-weight="normal" fill="#555" font-family="'Liberation Sans', Arial, sans-serif" text-anchor="middle" >-2</text>
<text x="144" y="589.9" font-size="3.5" font-weight="normal" fill="#555" font-family="'Liberation Sans', Arial, sans-serif" text-anchor="middle" >-1</text>
<text x="173.3" y="589.9" font-size="3.5" font-weight="normal" fill="#555" font-family="'Liberation Sans', Arial, sans-serif" text-anchor="middle" >0</text>
<text x="202.6" y="589.9" font-size="3.5" font-weight="normal" fill="#555" font-family="'Liberation Sans', Arial, sans-serif" text-anchor="middle" >1</text>
<text x="231.9" y="589.9" font-size="3.5" font-weight="normal" fill="#555" font-family="'Liberation Sans', Arial, sans-serif" text-anchor="middle" >2</text>
<text x="261.2" y="589.9" font-size="3.5" font-weight="normal" fill="#555" font-family="'Liberation Sans', Arial, sans-serif" text-anchor="middle" >3</text>
<text x="290.5" y="589.9" font-size="3.5" font-weight="normal" fill="#555" font-family="'Liberation Sans', Arial, sans-serif" text-anchor="middle" >4</text>
<text x="319.8" y="589.9" font-size="3.5" font-weight="normal" fill="#555" font-family="'Liberation Sans', Arial, sans-serif" text-anchor="middle" >5</text>
<text x="17.3" y="585.6" font-size="3.4" font-weight="normal" fill="#444" font-family="'Liberation Sans', Arial, sans-serif" text-anchor="end" >0</text>
<text x="17.3" y="553.7" font-size="3.4" font-weight="normal" fill="#444" font-family="'Liberation Sans', Arial, sans-serif" text-anchor="end" >1</text>
<text x="17.3" y="521.9" font-size="3.4" font-weight="normal" fill="#444" font-family="'Liberation Sans', Arial, sans-serif" text-anchor="end" >2</text>
<text x="17.3" y="490" font-size="3.4" font-weight="normal" fill="#444" font-family="'Liberation Sans', Arial, sans-serif" text-anchor="end" >3</text>
<text x="17.3" y="458.2" font-size="3.4" font-weight="normal" fill="#444" font-family="'Liberation Sans', Arial, sans-serif" text-anchor="end" >4</text>
<text x="17.3" y="426.3" font-size="3.4" font-weight="normal" fill="#444" font-family="'Liberation Sans', Arial, sans-serif" text-anchor="end" >5</text>
<text x="17.3" y="394.4" font-size="3.4" font-weight="normal" fill="#444" font-family="'Liberation Sans', Arial, sans-serif" text-anchor="end" >6</text>
<text x="17.3" y="362.6" font-size="3.4" font-weight="normal" fill="#444" font-family="'Liberation Sans', Arial, sans-serif" text-anchor="end" >7</text>
<rect x="19.2" y="345.4" width="89.2" height="14.0" fill="#fff" stroke="#3a3a3a" stroke-width="0.8"/>
<circle cx="24.6" cy="352.59999999999997" r="2.25" fill="#c8001a"/>
<circle cx="63.099999999999994" cy="352.59999999999997" r="2.25" fill="#a8a8a8"/>
<text x="30" y="354.6" font-size="5.95" font-weight="normal" fill="#000" font-family="'Liberation Serif', 'Times New Roman', serif" text-anchor="start" >Candidate</text>
<text x="67.7" y="354.6" font-size="5.95" font-weight="normal" fill="#000" font-family="'Liberation Serif', 'Times New Roman', serif" text-anchor="start" >Non-candidate</text>
<text x="169.8" y="356.2" font-size="9.0" font-weight="normal" fill="#000" font-family="'Liberation Serif', 'Times New Roman', serif" text-anchor="middle" >DOX/ UN</text>
<text x="3.6" y="340.7" font-size="12.3" font-weight="bold" fill="#000" font-family="'Liberation Serif', 'Times New Roman', serif" text-anchor="start" stroke="#000" stroke-width="0.25">b)</text>
<text x="166.8" y="600.7" font-size="7.5" font-weight="bold" fill="#000" font-family="'Liberation Serif', 'Times New Roman', serif" text-anchor="middle"  textLength="54.3" lengthAdjust="spacingAndGlyphs" stroke="#000" stroke-width="0.22">Log2 Fold Change</text>
<text x="0" y="0" font-size="7.5" font-weight="bold" fill="#000" font-family="'Liberation Serif', 'Times New Roman', serif" text-anchor="middle" transform="translate(11.2 475.0) rotate(-90)" textLength="41.8" lengthAdjust="spacingAndGlyphs" stroke="#000" stroke-width="0.22">Log10 P value</text>
<text x="26.5" y="523.9" font-size="6.8" font-weight="bold" fill="#000" font-family="'Liberation Serif', 'Times New Roman', serif" text-anchor="start"  textLength="75.7" lengthAdjust="spacingAndGlyphs" stroke="#000" stroke-width="0.22">Corresponds to Qvalue = 0.05</text>
<text x="23.4" y="529.6" font-size="2.3" font-weight="normal" fill="#9a9a9a" font-family="'Liberation Sans', Arial, sans-serif" text-anchor="start" textLength="40" lengthAdjust="spacingAndGlyphs">-LOG10(Q0.05) = 1.72 ... 1.7202</text>
<line x1="498.5" y1="360.2" x2="498.5" y2="584.5" stroke="#d4d4d4" stroke-width="0.8"/>
<line x1="523.5" y1="360.2" x2="523.5" y2="584.5" stroke="#d4d4d4" stroke-width="0.8"/>
<line x1="357.2" y1="546.5" x2="664.5" y2="546.5" stroke="#bdbdbd" stroke-width="0.8" stroke-dasharray="1.3 1.2"/>
<path d="M511.8 565.1h0M512.2 582.8h0M510.5 506.1h0M507.4 582.5h0M505.6 583.3h0M501.9 576.2h0M505.9 567.5h0M510.6 576.9h0M509.5 568.3h0M501 567.5h0M508 572.7h0M506.7 560.3h0M513.2 573.3h0M508.3 550.3h0M509 561.4h0M507.6 575.9h0M511.1 577.9h0M504 577.6h0M504.4 559.3h0M513.3 577.5h0M499.8 553.1h0M510 579.9h0M506.1 581.7h0M511.6 560.1h0M515.4 566.7h0M519.4 567.4h0M510.8 538.7h0M509.5 580.1h0M513.3 573.3h0M519 579.2h0M518.3 583.9h0M507.6 569.4h0M504.9 571.1h0M502.7 547.6h0M509.1 556.6h0M508.4 533.1h0M520 578.9h0M508.6 579.2h0M513.4 563.6h0M510 582.9h0M509.1 563.3h0M506.3 551.1h0M510.8 553.7h0M500.9 567.6h0M507.6 552.3h0M513.9 553.5h0M514.1 561h0M509.5 580.7h0M504.7 489.5h0M511.9 574.4h0M515.1 580.4h0M505.9 535.9h0M502.4 577.7h0M508.9 530h0M508.4 554h0M512.4 519.2h0M506 572.9h0M508.6 540.5h0M512.4 566.1h0M512.8 560.4h0M520.6 571.1h0M503.8 566.7h0M504.6 540.7h0M509.7 550.7h0M510.9 574.9h0M507.5 548h0M510.9 583.9h0M507.5 583.3h0M510.5 583.5h0M504.6 562.5h0M512.5 583.4h0M510.3 572.6h0M512.3 568.1h0M512.7 573.3h0M514.7 578.5h0M509.4 526.3h0M513.1 571.5h0M508.1 493.7h0M504.2 556.6h0M508.6 570h0M515.4 549.7h0M510.3 583.1h0M507.5 513.7h0M508.5 569.3h0M506.8 581.2h0M508.6 580.2h0M510.9 583h0M512.5 571h0M513.9 568.7h0M506.6 540.5h0M507.8 545.1h0M502.4 570.5h0M508.6 582.1h0M505.5 575.6h0M510.8 572.4h0M506.5 580.7h0M509.3 566.8h0M510.1 562.1h0M508.6 574.4h0M513.6 580.2h0M509.8 578.7h0M505.4 574.2h0M510.7 539.5h0M507 582h0M503.8 566.7h0M512.5 580.4h0M511.3 526.8h0M508.7 580.8h0M508 563.6h0M503.8 584.1h0M510.2 546h0M503.6 569.7h0M511.8 557.6h0M507.5 583.6h0M513.2 572.4h0M505.6 578.3h0M511.4 572.2h0M507.4 583.1h0M506 552.6h0M511 519.8h0M518.9 582.5h0M505.5 559.4h0M513.5 580.4h0M510.4 565.3h0M512.8 584.2h0M505.9 567.5h0M511.1 578.9h0M510.6 571.5h0M507.9 569h0M508.2 555.7h0M511.6 574.7h0M505.9 581.8h0M510.6 519.3h0M513.4 579.3h0M505.4 538.8h0M512.8 510.7h0M512 563.8h0M511.6 530.4h0M506.4 571h0M508.1 584h0M504.5 541h0M508.1 561.4h0M512.3 549.2h0M505.2 548.6h0M516.5 563h0M499.9 555.9h0M506 557.1h0M507.2 549.6h0M510.6 562h0M503.4 561.8h0M513.2 525h0M505.2 554.3h0M507.7 580.6h0M506.5 557.3h0M512.2 545.9h0M515.3 535.2h0M513.8 573.3h0M507.7 541.2h0M507.6 572.5h0M511.2 448.5h0M502.6 582.1h0M507.8 579.8h0M512.5 549.2h0M506.9 574h0M514.5 561.2h0M511.8 556.5h0M506.4 583.1h0M509.8 529.3h0M506.2 559.2h0M506.4 580.6h0M511.5 535.8h0M505.3 571.6h0M515.1 567.1h0M506.5 572.4h0M511.6 524.9h0M505.6 568.4h0M510.5 551.2h0M512.7 567.9h0M517.7 519.2h0M510.6 557.4h0M513.7 515.7h0M517 572.3h0M511.5 573.7h0M515.1 571.7h0M506.1 568.3h0M516.1 557.6h0M503.6 578.1h0M511.7 543.7h0M510.8 504.3h0M510.8 557h0M516.1 568.5h0M508.4 560.9h0M504.8 582.3h0M514.6 565h0M502.1 581.4h0M507.3 554.4h0M511.3 582.8h0M513.4 581.5h0M512.5 573.5h0M511.4 579.2h0M500 504.7h0M511.9 582.4h0M508.4 578.4h0M516.8 550.9h0M510.7 569.2h0M506.6 583.2h0M514.9 582h0M503.1 579.2h0M512.7 575.2h0M511.9 571.8h0M506.4 571.7h0M507.8 527.1h0M509.7 565.4h0M510.9 583.3h0M512.5 582.1h0M510.9 542.1h0M502.2 574.3h0M516.1 464.7h0M508.8 550.5h0M511.6 556.3h0M509.7 556.7h0M503.8 567.7h0M509 553.3h0M516.6 571.8h0M508.2 572.7h0M506.6 536.4h0M508.4 583.1h0M505.8 578.8h0M516.8 580.7h0M508.4 579.1h0M509 562.7h0M511.7 531.3h0M508.9 571.9h0M510.9 523.4h0M505.1 581.2h0M507.2 556.1h0M503.6 573.3h0M503.7 566.8h0M513.9 563.8h0M507.5 570.9h0M508.1 555.5h0M505.4 518.8h0M505.4 549.7h0M504.8 566.6h0M505.9 502.7h0M507.1 577.6h0M514 573.3h0M513.6 584.2h0M506.5 581h0M511.8 554.4h0M512.8 571.2h0M513.1 530.2h0M508.8 569.4h0M505.4 577.1h0M509.6 578.4h0M502.6 540h0M515.6 565.3h0M514.6 577.2h0M512.2 564h0M508 557.5h0M508 546.5h0M505.6 552h0M511.1 550.2h0M511.4 562.1h0M516.9 575.1h0M513 525.1h0M508.9 575.7h0M515.7 565.7h0M504.7 573h0M507.1 580.4h0M508.1 583.1h0M514 572.8h0M513.4 562.8h0M510.5 527.2h0M513 477h0M510.1 571.2h0M506.6 541.1h0M506.7 567.5h0M513.3 579h0M513.1 583.4h0M509.8 562.8h0M504 580.8h0M515.5 543h0M507.9 476.5h0M510 571.1h0M512.7 584h0M501.1 550.8h0M515 580.2h0M505.5 576.2h0M505 564.1h0M507.5 567.1h0M507 574.5h0M505.9 554.1h0M511.1 579.4h0M513.3 552.2h0M506 572.5h0M508.6 524.3h0M512 576.6h0M506.9 578.4h0M508.1 564.2h0M515 524.7h0M513.4 536.3h0M503.1 577.9h0M505.9 575.7h0M510.3 570.8h0M508.4 555h0M512.8 577.8h0M509.2 584h0M504.7 560.7h0M504.9 575.9h0M509.8 572.3h0M510.1 548.5h0M510.2 567.9h0M513.7 558h0M511.1 583.1h0M505.3 522.5h0M517 580.6h0M512 581.2h0M500.1 565.2h0M505.3 567.5h0M505.5 569.7h0M516.7 565.1h0M501.9 582.8h0M515.7 532.6h0M514.1 523.3h0M505.3 555.9h0M503 572.1h0M513.4 514.6h0M509.3 570.5h0M509.6 548.6h0M509 536.3h0M514.5 580.6h0M511.7 547.6h0M514.4 566h0M507 537.5h0M505.6 561.6h0M507.6 574.6h0M513.5 582.4h0M507.4 580.3h0M511.8 556.1h0M507.2 579.4h0M506.8 560.7h0M508.7 533.3h0M519.1 566.1h0M508.9 584.3h0M510 552.3h0M514.5 562.6h0M506.8 577.2h0M510.1 529.7h0M507.3 572.1h0M507.8 547.4h0M512.6 583.1h0M510.6 553.8h0M507.1 574.1h0M506.8 579.2h0M506.9 563.1h0M504.5 578.7h0M504.2 556.5h0M510.4 539.4h0M509.2 560h0M507.1 582.4h0M510.1 575.2h0M510.9 569.7h0M509 472h0M508 554.8h0M512.5 571.3h0M502 543.4h0M515.7 583.6h0M504.1 579.8h0M504.7 543.5h0M503.9 568.7h0M511.9 577.7h0M511.7 570.9h0M507.2 574.9h0M504.4 577.3h0M504.3 570.8h0M505 558.4h0M505.6 570.8h0M518 581.2h0M508.8 551.9h0M508.8 573.6h0M508 577.1h0M504.7 578.2h0M507.3 579.7h0M510.2 580.2h0M512.3 579.4h0M505.5 580.2h0M514.3 559.3h0M513.7 511.1h0M510.8 577.9h0M518.4 563.3h0M509.6 546.5h0M517.7 577h0M518.5 573.5h0M518.6 542.5h0M515.6 540.6h0M509.5 574.8h0M507 582h0M502.8 583.1h0M508 556.2h0M511.3 568.7h0M506.4 576.7h0M511 475.4h0M513.2 564.9h0M518 530h0M499.3 569.8h0M511.5 580.8h0M512.7 570.8h0M516.8 550.4h0M518.4 536.9h0M510.5 581.3h0M512.8 583.1h0M512.7 562.6h0M507.3 580.6h0M512.7 566.5h0M511.7 545.8h0M516.7 527h0M502.7 581h0M503.1 579.2h0M515.7 517.5h0M501.2 581.4h0M506.6 559.5h0M514.8 578.1h0M505.4 500h0M512.5 574.2h0M511.4 513.2h0M507.8 539h0M521.8 580.9h0M506.3 579.9h0M512.3 558.4h0M510.7 574.3h0M502.3 572.4h0M509.5 570.5h0M509.7 550.1h0M520.5 571.7h0M510.2 573.5h0M519.8 560.6h0M508.6 569.4h0M512.2 558.8h0M502.8 577.2h0M510.5 546.2h0M517.1 579.2h0M515.5 520.8h0M504.4 583.6h0M514.5 538.9h0M505.4 575.7h0M514.8 573.8h0M516.1 582.4h0M512.1 579.8h0M513.2 572h0M520.7 580.1h0M507.2 575.9h0M512 580.5h0M515.6 572.8h0M507.1 519.2h0M514 565.4h0M506.1 575.8h0M510.1 535.3h0M512.5 573.4h0M507.2 582.2h0M515.9 569.8h0M520 483.7h0M510.7 556.1h0M512.4 540.4h0M509.6 472.3h0M516.8 562h0M516.6 579.4h0M512 530.4h0M515.7 581.1h0M507.7 577.8h0M511.9 578.2h0M511.8 538h0M515.2 565.5h0M504.1 510.4h0M502.9 550.1h0M514.2 551.7h0M513 577.4h0M506.2 558.9h0M506.1 575.3h0M508.2 562.8h0M505.3 570.9h0M504.6 550.5h0M510.2 580.4h0M504.3 569.7h0M507.1 583.3h0M515.8 580h0M507 576.4h0M516.4 576h0M513.9 472.6h0M506.7 548.4h0M499.5 568.5h0M509 560h0M509.4 579.8h0M507.1 545.3h0M503 552.6h0M500.9 552.2h0M512.3 575.9h0M506 514.2h0M510.4 496.5h0M516.6 562.2h0M506.9 561.6h0M500.9 566.2h0M517.6 573h0M506.5 536.1h0M504.2 582h0M499.8 572.8h0M511.8 503.9h0M508.2 518.7h0M510.2 571.4h0M499.6 542.7h0M508.4 552.4h0M508.3 578.2h0M512.3 556h0M505.2 580.6h0M505.9 541.8h0M504.3 563.8h0M501.7 487.1h0M516.6 544.7h0M509.9 581.3h0M516.9 505.4h0M511 569.7h0M511.5 574.3h0M518.8 575.6h0M505.4 551.1h0M514.1 556.7h0M514.7 581.6h0M506.7 525h0M506.3 582.5h0M508.2 556.1h0M509.8 571.7h0M511 582.3h0M511.2 524.4h0M508.9 522.5h0M520 581.4h0M508.2 554.8h0M505.1 563.5h0M514.2 554.4h0M515.5 547.8h0M514.9 568.2h0M511.8 583.3h0M515.7 542.5h0M508.1 584.3h0M517.8 581.6h0M507.9 553.5h0M508.7 567.9h0M511.9 575.2h0M513.9 548.2h0M512.8 577.4h0M513.8 556.9h0M513.4 581h0M509 546h0M510.9 549.2h0M508.6 563.5h0M515.3 551.3h0M513.4 563h0M503.2 570.4h0M512.7 582.5h0M504.7 582.3h0M513 562.1h0M511.8 484h0M513.4 553.2h0M515.8 580.6h0M506.3 563.8h0M509.1 581.4h0M499.9 578.6h0M513.2 568.1h0M521.6 562.7h0M515.7 581.3h0M515.9 581.5h0M495.9 550.2h0M513.3 580.5h0M507.8 550h0M503.4 570.1h0M508.3 568.4h0M503 561.4h0M513 563.1h0M514.6 581.7h0M511.1 565h0M503.5 530.4h0M513.2 561.8h0M516.9 541h0M506.9 542.4h0M516.8 560.6h0M515.9 506.6h0M512.2 580.1h0M497.9 564.2h0M507.4 557.4h0M511.1 554.1h0M514.9 574.5h0M508.4 576.5h0M509 562h0M514.7 583.7h0M509.5 576.3h0M508.3 580.5h0M509.8 581.8h0M510.8 543.9h0M511.2 576.9h0M509.1 581.5h0M515.5 541.2h0M517 580.5h0M510.3 570.9h0M511.7 575.3h0M511.7 561.1h0M508.2 575.4h0M516.7 574.3h0M519.4 508h0M513.3 546.2h0M522.3 576.8h0M504.5 574.5h0M513.4 580.1h0M523.2 578.8h0M517.9 580.4h0M510.3 551.4h0M508 575.2h0M521.9 578h0M504.6 575h0M508.1 539.9h0M511.9 560.6h0M507.8 567.1h0M503.8 569.1h0M504.9 577.3h0M507.4 512.5h0M497.4 553.9h0M515 570.9h0M510.2 569.9h0M513 568h0M513.1 519.9h0M507.4 581.1h0M501.2 583.1h0M507.8 563.2h0M517.3 522h0M510.6 565.3h0M509.8 575.8h0M513.5 543.9h0M507.2 573.8h0M517.8 582.3h0M502.2 574.4h0M518.6 571.5h0M518.3 540h0M503.1 584.2h0M511.3 493.2h0M521.1 582.7h0M505.3 581.4h0M512 561.9h0M506.7 518h0M506.5 574.2h0M514.7 582.2h0M510.8 511.7h0M511.1 579.1h0M512.7 570.4h0M508.5 573.9h0M508.9 571h0M511.5 581.9h0M506.7 559.4h0M511.7 528.6h0M510.1 538.5h0M517.1 576.7h0M508.3 579.9h0M500.2 570.5h0M512.1 579.3h0M508.5 548.8h0M514.6 570.4h0M515.6 582h0M497.8 573.5h0M501 577.6h0M506.4 579.2h0M511.6 572.1h0M510.2 583h0M509.2 564.2h0M505.1 561.4h0M515.2 577h0M511 577.2h0M512.4 551.1h0M510.6 548h0M508 552.9h0M513.1 582.3h0M508.3 579.5h0M511.1 559.8h0M511.2 557.6h0M514.3 544.2h0M510.7 574.2h0M510.6 583h0M511 575.5h0M515.8 562.5h0M501.6 581.3h0M514.6 565.8h0M514.4 568.3h0M507.4 554.1h0M520.3 577.8h0M502.8 568.9h0M510.9 495.1h0M515.2 578.3h0M514.8 550.8h0M519.7 575h0M516.7 564h0M508.5 527.2h0M513.4 517.6h0M522.2 578.6h0M510.3 566.8h0M505 547.5h0M514.6 560.6h0M511.7 474.6h0M514.5 572h0M508.4 567h0M516.3 573.3h0M515 579.9h0M505.7 565.9h0M512.7 573.9h0M508.4 568.8h0M510.5 582.6h0M504 548.4h0M510.6 575.4h0M506.4 535.9h0M515.3 579h0M517 578.4h0M516.6 582.8h0M510.5 580.3h0M516 581.4h0M517.7 578.5h0M514.4 581.6h0M509.2 555.4h0M505.9 559.4h0M515.2 576.8h0M511 561h0M511.4 578h0M504.4 580.2h0M509.1 540.6h0M507.5 570.9h0M506.9 583.5h0M504.1 571.6h0M511.7 490.1h0M518.4 583.5h0M509.8 498.8h0M505.8 484.4h0M513.7 489.4h0M503.3 571.1h0M506.5 565.1h0M517.3 546.5h0M507.8 562.9h0M515 561.6h0M506.6 577.9h0M516.5 580.3h0M513.1 575.1h0M509.2 567.4h0M514.8 532.2h0M510.7 583.2h0M516.1 554h0M504.6 580h0M509.7 568.8h0M514.7 582.7h0M513.5 573.9h0M507.2 583.5h0M513.7 566.5h0M515.5 575.5h0M507.2 580.7h0M500.8 558.3h0M509 567.5h0M513.2 582.1h0M514.1 570.2h0M508.7 558.5h0M512.6 581.1h0M522.2 535.4h0M505.8 509.3h0M508.9 570.1h0M510.9 566.4h0M500.4 584h0M517.1 572.9h0M514 583.7h0M515.4 540.8h0M509.6 579.4h0M512.4 561.6h0M507.6 569.8h0M517.1 581.6h0M507 579.9h0M513.9 579.8h0M516.9 563.7h0M505.4 583h0M514.2 479.3h0M510.4 564.3h0M503.9 575.2h0M502.9 580.3h0M515.7 578.7h0M504.7 583.1h0M513.3 551.1h0M509.8 572h0M513.9 556.5h0M512.2 580.9h0M519 582.8h0M508.8 575.1h0M511.5 572.1h0M506.6 535.1h0M513.3 578.6h0M512.2 583.8h0M511.3 546.7h0M509.3 581.2h0M513.3 578.7h0M507.2 564.9h0M511 554.1h0M514 553.8h0M511.8 564.6h0M501.3 526.4h0M500.4 533.4h0M502.4 549.2h0M511.7 555.5h0M512.1 579.3h0M515.2 552.8h0M507.6 573.8h0M507.7 566.6h0M509.8 577h0M504.5 580.4h0M510.5 569.6h0M509.3 538.9h0M506.3 568.7h0M518.1 570.2h0M517.2 540.7h0M509.8 551.2h0M516.9 566.2h0M506.7 554.8h0M516.3 573.3h0M509.6 533.8h0M508.6 580.1h0M505.4 543.5h0M520.8 556h0M512.9 541.4h0M510.5 570h0M515 573.8h0M506.6 535.2h0M511.1 551.4h0M505.8 576.9h0M514.4 569.5h0M520 573.1h0M516 575.8h0M510 552.8h0M508.5 583.9h0M509.3 561.7h0M503.3 575.3h0M519.1 540.5h0M511.2 581h0M518.4 578.5h0M511.6 496.3h0M510.7 552h0M510.3 577.1h0M509.1 500.9h0M504.7 523.4h0M512 539.4h0M502.8 560.2h0M510 551.6h0M514.2 570h0M511.9 555.5h0M517.9 527.6h0M503.8 557.6h0M505.9 528.3h0M507.5 583.3h0M510.3 538.4h0M510.6 544.2h0M511.5 555.2h0M507.4 579.2h0M505.8 542.6h0M512.1 536.7h0M510.9 520.5h0M519 567.5h0M514.4 547.7h0M512.3 536.8h0M512.5 576.9h0M511.3 572h0M510.2 572.2h0M519.7 540.3h0M505.6 576.6h0M508.5 583.3h0M512 571.1h0M502.7 526.8h0M510.8 547h0M513.1 583h0M518 583.8h0M506.8 583.8h0M502.5 573.2h0M513.8 575h0M511.2 576.7h0M511.1 579.6h0M507.5 555.9h0M500.1 579.4h0M507 514.8h0M502.9 582.9h0M510.9 570.3h0M505.5 576.2h0M509.1 579.6h0M518 572.2h0M512.8 532.5h0M511.2 566.8h0M507.4 576.5h0M509.7 576.8h0M512.5 524.3h0M507 554.6h0M512.2 564.9h0M500.6 578.5h0M513.9 524.1h0M511.8 548.7h0M516.3 560.6h0M516.2 580.2h0M507.1 565.3h0M509.8 581h0M497.5 569.7h0M508.3 565.4h0M504.7 561.6h0M507.7 562.6h0M514.2 573.6h0M507.5 573h0M508.7 583.6h0M512.2 577.2h0M509.3 559.4h0M510.9 541.7h0M515.8 568.5h0M507.5 486.5h0M516.7 564.5h0M515.3 584.2h0M502.1 571.5h0M511.7 517.5h0M496.2 583h0M503.4 573.7h0M514 534.2h0M513.7 529h0M513.6 561.7h0M502.4 554h0M508.8 569.4h0M506.7 570.4h0M516.6 569h0M520.9 575h0M512.6 577.3h0M506.7 583.3h0M504.9 567.3h0M515.1 584h0M512.1 579.1h0M518 573.7h0M503.3 572.6h0M524 581.6h0M504.9 555.9h0M502.6 562h0M510.3 570.4h0M513.1 560.5h0M516.6 548.6h0M521.6 566.9h0M510.2 569.1h0M520.3 546h0M502.3 554.9h0M503.3 567.4h0M497.7 568.1h0M517.6 545.3h0M519.8 579.9h0M518.6 557.4h0M506.1 565.3h0M512.4 552.4h0M500.3 580.3h0M508 576.9h0M517.4 568.3h0M517.5 582.1h0M508.4 567.5h0M490.2 547.5h0M504.6 555.4h0M493.5 582.3h0M520.9 583.5h0M488.3 571.3h0M523.3 570.5h0M509.7 574.2h0M521.1 548.1h0M496.2 557.5h0M530.7 570.3h0M509.6 571.1h0M525.9 561.7h0M498.8 551.1h0M518.5 580h0M500.6 551.2h0M511 558.8h0M536.7 555.1h0M490.9 560.3h0M505.4 555.7h0M520.4 554.4h0M531.1 573.8h0M503.3 551.6h0M523.2 584.1h0M523.2 554.2h0M517.6 550.6h0M497.3 551.5h0M511.5 550.6h0M504.2 563.6h0M496.6 569h0M507.4 579.7h0M521.3 549.4h0M509.5 565.9h0M503.6 580.3h0M501.1 552.7h0M497.7 564.1h0M491.3 573.9h0M506.1 547.3h0M517.6 555.9h0M491.1 562h0M501.5 581.2h0M508.5 564.2h0M502.1 546.7h0M517.8 582h0M512 567.1h0M498.3 571.9h0M511.2 578h0M504.1 581.3h0M525.6 580.3h0M507.4 548.4h0M512.5 577h0M523.2 560h0M512.9 555.2h0M504.8 552.9h0M520.4 563.2h0M502.4 562.6h0M506.4 546.4h0M508.1 557.5h0M512.4 545.3h0M523.4 552.2h0M519.3 551.2h0M501 564.5h0M514.8 560.7h0M499.7 569.8h0M512.4 577.5h0M505.4 558.2h0M507.3 553.3h0M502.9 556.9h0M510.7 555.6h0M517.1 556.2h0M518.5 561.9h0M505.7 550.4h0M512.5 582.9h0M509.8 559.2h0M502.2 582.6h0M504.2 550.2h0M507.9 452.9h0M509.8 462h0M515.1 467.9h0M436.9 573.7h0M450 568.3h0M474.8 554.3h0M470 571.8h0M475.8 578.1h0M541.1 554.2h0M548.7 558.2h0M536.1 562.4h0M554.3 568h0M533.9 566.5h0M557.5 576.8h0M531.7 581.7h0M478.4 582.4h0M482.9 555.5h0M483.7 571.3h0" stroke="#818181" stroke-width="2.2" stroke-linecap="round" fill="none" stroke-opacity="0.56"/>
<path d="M515.8 516.2h0M506.8 502.6h0M509.2 580.3h0M502.9 564.1h0M511.5 554.1h0M504.3 581.3h0M507.9 571.8h0M501.2 558.8h0M507.4 527.3h0M508.7 563h0M513.3 552.9h0M503.9 580.4h0M502.8 566.5h0M513.5 562.9h0M509.7 569.9h0M514.2 530.8h0M511.9 579.4h0M508.6 531.6h0M522.1 580.6h0M499.1 579.5h0M512.2 584h0M501.9 565.8h0M512.2 565.2h0M509.2 559.9h0M510 573.7h0M502.6 572.9h0M504.8 573.1h0M504.4 568.9h0M507.3 548h0M511.4 552.8h0M513.8 576.9h0M509.1 476.2h0M510.9 546.3h0M507.6 548.1h0M496.1 565.1h0M504.3 575.4h0M511.9 584h0M510.3 545.7h0M512.5 572.2h0M505.5 557.6h0M510.9 561.4h0M512.5 559.3h0M514.6 581.9h0M515.4 503.8h0M504 583.6h0M504.4 568.4h0M505.4 566.6h0M503.2 579.1h0M504.9 457.3h0M504.8 545.8h0M505.6 581.1h0M513.6 570.5h0M502.1 579.1h0M513 508.5h0M510.9 578.9h0M508.4 558.6h0M504.8 583.7h0M508.6 576.7h0M511.1 553.8h0M508.8 545.9h0M508.3 571.7h0M506 566.2h0M507.1 573.1h0M509.3 576.9h0M505 566.9h0M505.4 566.6h0M510.8 562.1h0M517.5 568.7h0M509.5 575h0M503.7 569.1h0M513.6 579.2h0M510.2 560.7h0M512.7 572.2h0M503.2 541.5h0M518.9 548.8h0M509.7 546.3h0M498.6 575.5h0M514.9 576.2h0M509.6 561.3h0M507.3 581.5h0M510.1 581.4h0M507.4 572.5h0M510.4 580.3h0M508.2 581.8h0M508 576.9h0M508.3 567.8h0M503.4 523.8h0M514.3 529.9h0M509.1 573.8h0M506.8 576h0M510.8 568.6h0M506.2 573.3h0M509 537.6h0M512.7 583.6h0M506 579.9h0M512.2 583.6h0M513.8 530.3h0M511.3 583.4h0M508.8 568.6h0M506.6 579.6h0M505.9 575.5h0M513.2 557.6h0M512.6 583.7h0M505.2 579.6h0M518.2 566.3h0M509.5 534h0M509.9 551.1h0M516 562.1h0M511.5 572.4h0M510.1 582.4h0M501.6 562.7h0M509.5 523.5h0M508.6 552.6h0M514.3 582.8h0M509.1 542.5h0M503 576.3h0M503.7 536.7h0M501.2 524.7h0M509 568.2h0M504.8 565.3h0M512.9 570.9h0M513.4 581h0M510.2 569.3h0M507.5 547h0M510.2 566.1h0M514.6 583h0M509.3 573.5h0M513.6 512.4h0M510.1 542.6h0M512.9 582.2h0M513.1 576.5h0M508.6 565.7h0M503.2 553h0M517.3 571.7h0M514.1 574h0M511 583.1h0M513.5 583h0M509.7 582.6h0M510.6 583.7h0M505.3 545.9h0M512.3 576.1h0M505.3 575h0M509.7 583.1h0M515.1 572.2h0M511.6 543.3h0M503.4 552.7h0M516.2 508.1h0M512.8 566h0M508.1 559.6h0M507.3 575.4h0M511.7 577.2h0M508.2 562.1h0M514.5 551.2h0M512.5 517.8h0M511.6 580.8h0M512.6 578.6h0M506.8 568h0M510.8 550.8h0M512.8 572.7h0M511.2 525.9h0M506 582.5h0M500.9 563.6h0M508.5 568.4h0M507.1 536h0M509.8 572.9h0M510.7 579.4h0M509.4 562.9h0M504 579.2h0M515.1 543.4h0M508 571.1h0M509.8 579.9h0M510.4 576.5h0M506.7 576.1h0M495.6 577.8h0M516.2 576.3h0M510.3 564.8h0M501.7 579.6h0M506.7 567.3h0M504.9 573h0M506.6 535.7h0M501.7 580.4h0M510.9 494.9h0M505.2 545.7h0M515.5 577h0M513.1 584.2h0M506.6 565.1h0M503.4 552.5h0M508.7 570.1h0M511.7 582.9h0M508.6 510.8h0M509.3 582.1h0M510.1 583.2h0M509.8 569.5h0M508.3 577.2h0M504.6 561.7h0M507.6 534.2h0M508.1 576.6h0M507.2 549.2h0M507.8 573h0M511.6 540.3h0M507.9 581.8h0M504.1 582.2h0M515.7 584.1h0M507.6 574.9h0M514.4 521.8h0M506.7 560h0M500.5 545.9h0M510.9 571h0M510.1 583.1h0M516.9 569.7h0M509 549.2h0M512.9 521.6h0M512.3 553.3h0M511.6 558.8h0M510.6 574.5h0M508.3 579h0M510.7 513.4h0M504.7 566.5h0M516.5 572.5h0M508.6 573.2h0M508.2 536h0M511.4 579.4h0M505.5 574.9h0M506.4 571.8h0M513.6 559.9h0M517.9 581.3h0M511.3 544.1h0M509.7 580.6h0M509.8 538.8h0M505.9 575.8h0M516.6 498.1h0M509.4 577.2h0M511.3 583.7h0M508.3 579.6h0M506.1 554.4h0M510.7 514.1h0M502.2 581.5h0M503.7 536.8h0M511.6 492.9h0M517.6 558.9h0M503.9 549.6h0M514.1 581.9h0M506.4 565.7h0M509.7 494.4h0M517.6 545.2h0M516.6 581.1h0M506.5 549.7h0M509.7 528.7h0M509 571.5h0M506 562.1h0M513.2 580.3h0M509.5 539.1h0M512.7 574.1h0M515.1 581.5h0M513.4 578.1h0M508.9 544.3h0M500.7 577.8h0M511.2 556.7h0M516.2 583.1h0M510.5 574.7h0M506.8 579.1h0M506.8 574.6h0M515.6 578.8h0M506.4 562.1h0M503.5 560.3h0M503.4 532.7h0M512.9 559.6h0M502.3 572.6h0M507.7 532.2h0M512.8 577h0M510.8 567.5h0M510.7 564.8h0M518.4 560.5h0M509.8 551.5h0M508.3 535.9h0M513.7 574.1h0M508.9 522.3h0M514.9 555.5h0M512.6 567h0M504.7 566.4h0M519.5 541.6h0M511.8 513.9h0M502.8 564.9h0M516.7 572.4h0M500.8 573.1h0M513.5 572h0M510.6 572.5h0M518.8 568h0M510.5 532.8h0M508.7 580.5h0M510.8 553.9h0M513.9 563.2h0M508.7 582.8h0M506.7 570.1h0M502 570.3h0M518.5 581.6h0M512.8 528.9h0M509.1 554.6h0M507.1 581.4h0M509.1 575.6h0M510.6 572.5h0M508.2 579.7h0M508 573.1h0M517.6 537h0M513.6 499.6h0M519.7 578.4h0M520.1 583.4h0M513.7 573.7h0M505.2 582.1h0M511.1 572.3h0M509.3 570.3h0M505.5 568.7h0M515.3 575.4h0M510.1 574h0M508.3 578.4h0M509.5 580.3h0M508.5 556.5h0M502.5 581h0M512.4 574.1h0M507 548.8h0M515.5 583.8h0M510.9 520.8h0M511.1 519.9h0M515.1 551.2h0M509.4 567.6h0M512.8 574.5h0M506.8 579h0M511 578.5h0M501.5 581.7h0M508.6 573.6h0M505.2 583.9h0M513.2 580.3h0M516.3 560.5h0M502.2 575.3h0M518.4 569.2h0M513.2 564.5h0M503.3 579.6h0M511.9 576.1h0M514.4 584.1h0M513 569.1h0M511.1 578.7h0M510.8 576.7h0M513.7 556.1h0M509 541.4h0M510.2 562.9h0M500.6 559.1h0M507.1 566.4h0M510.3 538h0M504.8 574.1h0M517.9 566.8h0M508.3 581.5h0M512.6 575.6h0M512 579.1h0M512.3 571h0M517 556.5h0M514.5 583.2h0M509.1 517.9h0M516 568.1h0M507.9 492.9h0M507.7 549.4h0M514.4 571.2h0M515.1 545.6h0M499.3 489.8h0M514.8 554.3h0M513.9 573.1h0M512 558.5h0M512.8 523.6h0M516.7 577.9h0M511.8 561.9h0M506.5 550.9h0M503.5 526.3h0M509.2 580.2h0M508.1 579.1h0M510.4 508.5h0M506.6 560h0M519.6 526.7h0M503.7 580.7h0M514.1 576.3h0M512.4 554.9h0M504.7 541.9h0M510.4 575.8h0M516.8 573.2h0M503.7 578.1h0M514.1 572.6h0M510.5 579.7h0M518.2 513.6h0M515.5 541.5h0M503.8 523.1h0M509.6 524.6h0M515.1 536.5h0M508.2 549.9h0M509.5 529.2h0M520.6 548.5h0M513 565.1h0M507.7 527.2h0M509.3 530h0M510.9 574.4h0M509.7 583.1h0M512.4 582.6h0M514.2 560.3h0M513.2 562.1h0M510 573h0M514.5 555.1h0M516.3 509.8h0M501.9 551.5h0M506.3 583.9h0M501.4 576.6h0M509.1 573.5h0M513.5 563.6h0M507.8 554h0M514.1 575h0M515.5 493.9h0M513.5 578.6h0M513.2 562.5h0M507.6 542h0M505.8 544.3h0M503.7 540.1h0M516.8 581.2h0M507.4 546.6h0M514 558.8h0M508.8 575.1h0M519.9 582.6h0M515.5 564h0M513.2 555.4h0M506.9 523.2h0M514.7 559.2h0M509.6 582h0M511.5 578.7h0M505.6 570.4h0M510 573.9h0M510.6 535.6h0M512.1 557.6h0M511.7 579.9h0M513.5 579h0M513.1 576.6h0M509.8 546.1h0M515.1 578.8h0M514.4 577.7h0M507.6 529.2h0M507.7 566.2h0M503.8 565.9h0M512.5 580h0M508.2 577.2h0M508.8 582.3h0M505.1 535.7h0M515.2 572.9h0M515.6 562.5h0M508.2 563.2h0M498.5 575.6h0M502.1 538.7h0M495.6 578.6h0M510.5 557.7h0M510.7 527.7h0M516 568.9h0M509.6 562.4h0M515.1 578.8h0M514.6 582.9h0M515.5 536.6h0M513.7 553.8h0M512.8 583.6h0M513.1 573.1h0M516.6 579h0M517.9 570.9h0M513.1 570.2h0M511.1 579.5h0M513.7 548.1h0M515.3 550.2h0M521.7 578.3h0M509.1 568.7h0M507.7 542h0M511.5 564.4h0M514 569.3h0M513.5 571.4h0M496.4 561.9h0M509.2 550.7h0M522.3 513.6h0M506.4 556.2h0M504.4 572.6h0M509.2 576.7h0M512.4 509.8h0M506.3 582.9h0M510.1 574.4h0M521.2 556.6h0M515.3 570.7h0M520.6 577.1h0M503.1 568.2h0M509.3 581.7h0M525.2 576.3h0M507 562.4h0M513.7 577.5h0M511.7 578.9h0M512.8 566.4h0M505.2 559.9h0M511.7 580.6h0M502.7 570.2h0M514.6 562.1h0M514.9 581.2h0M508.7 557.9h0M510.9 551.9h0M501.4 577.2h0M507.3 559.7h0M503.9 535h0M517.9 582.3h0M508.7 528.5h0M510.1 499.5h0M501.5 571.8h0M521.2 568.1h0M514.8 568.2h0M514 554h0M515 548.7h0M525 574h0M513.3 578.8h0M508.5 577.3h0M511.1 555.6h0M509.5 567.5h0M518.4 544.1h0M504.3 562.8h0M508.6 576h0M514.7 562.7h0M511.8 557h0M514.2 578.6h0M509.9 562.7h0M504.5 512.7h0M512.3 542.9h0M517.7 574h0M505.3 584.2h0M502 561.8h0M506.7 576.9h0M507.6 575.7h0M503.6 583.4h0M516.5 558h0M509 583.3h0M506.4 560.2h0M513.4 545.4h0M515.7 582.7h0M510.2 531.7h0M505.7 574.3h0M505 561h0M516.1 569.3h0M512.8 579h0M508.4 550.9h0M511.3 577.2h0M512.1 548h0M510.6 569.7h0M511 577.9h0M512 584.2h0M509.9 570.9h0M509.1 582.2h0M513.1 572.2h0M507.4 553.8h0M508.2 582.7h0M503.6 573.3h0M508.8 568.1h0M511 563.8h0M510.2 575h0M498.1 563.4h0M509.1 554.2h0M510.5 569.5h0M513.8 581.8h0M515 518.2h0M505.6 569h0M505 465.2h0M513.6 568.7h0M511.8 542.5h0M508.6 579.1h0M508.2 555.6h0M496.9 573.3h0M506.6 584.1h0M511.6 567.8h0M507 577.5h0M510.6 559.2h0M520.3 525.6h0M507.5 547h0M510.4 550.8h0M506.4 549.2h0M511 542.7h0M516.8 543.5h0M512.3 575.9h0M518.3 559.5h0M516.4 534.7h0M509.9 577.1h0M503.7 548.5h0M508.9 567h0M501.3 579.8h0M511 533.1h0M525.9 552.5h0M512.7 577.6h0M504.5 537.6h0M504.3 573.2h0M515.9 543.6h0M514.8 578.6h0M511.8 517.5h0M513.7 555.1h0M508.6 557.5h0M512.2 560.6h0M514.4 561.4h0M513.1 544.5h0M506.6 568.5h0M494.3 573.2h0M512.6 526.1h0M513.3 582.1h0M504.1 583.2h0M510.8 567.1h0M499.5 573.6h0M508.2 504.2h0M508.3 584.1h0M505.8 533.7h0M509.8 567.5h0M507.7 581.4h0M510.6 567.1h0M505 551.8h0M508.2 546.1h0M505.6 562.8h0M520 563.3h0M507.5 582h0M512.4 582.5h0M519.2 531.1h0M509.1 529.2h0M512.4 573.1h0M515.3 553.4h0M508.3 571.9h0M510 580.3h0M511.6 549.9h0M508.6 535.8h0M510.2 576.5h0M514.9 580.9h0M499.5 552.7h0M510.6 582.5h0M503.9 580.4h0M510.5 580.6h0M516.2 532.5h0M519.6 573.5h0M500.2 573.8h0M509.7 561.3h0M515.7 575.8h0M516.2 548.8h0M510.7 582.3h0M520.8 478h0M509.9 581.1h0M506.3 576.5h0M515.7 459.2h0M512.7 541.4h0M509.8 562.4h0M508.8 561.9h0M517 559.5h0M510.4 556.3h0M500.5 539.4h0M511.2 507.1h0M506.6 569.6h0M511 567.3h0M501.4 582.2h0M506.3 551.7h0M513.2 563h0M519.5 531.3h0M516.8 513.8h0M520.8 576.8h0M517.2 564.2h0M515.4 558.5h0M513.8 569h0M509.1 571h0M502.1 514.7h0M510.6 564.6h0M512.8 507.8h0M514 576.6h0M515 510.3h0M512.6 583.9h0M513.2 542.8h0M517 577.4h0M507.5 582.1h0M514.5 549h0M510.4 549.4h0M511.6 574.4h0M509 568.8h0M511.4 583.5h0M510.3 551.1h0M512.2 581.7h0M511.5 573.5h0M510.9 573.3h0M508.6 580.7h0M516.4 584h0M520.3 577h0M508.3 550.6h0M504.2 561.8h0M506.6 578.5h0M506 557.1h0M510.6 573.8h0M511.2 577.8h0M512.5 489.7h0M518.3 567.9h0M516.2 516.5h0M509.6 564.5h0M510.9 573.3h0M505.9 525.7h0M507.9 581.8h0M508.8 554.1h0M512 567.7h0M506.1 560h0M514.2 537.2h0M513.2 582.8h0M509.6 577.6h0M512.3 574h0M517 539.1h0M509.7 574h0M523.1 554h0M500.7 574h0M506.4 559.4h0M509.7 539.3h0M516.2 581.8h0M519.7 560.8h0M516.9 495.2h0M518.2 544.9h0M509.7 565.2h0M505.3 562.8h0M500.3 583.6h0M509.6 545.5h0M509.3 571.1h0M509.7 565.1h0M518.2 546.1h0M510 570.6h0M518.7 458.8h0M516.6 551.6h0M509.2 578.4h0M510.8 548h0M512.1 497.2h0M511 580.9h0M512.6 566.4h0M508.1 545.6h0M508.1 565h0M508.1 561h0M513.9 578.2h0M510.9 575h0M505.8 541.6h0M505.8 565.3h0M512.1 582.5h0M514.2 583.8h0M515.4 551.6h0M515.4 556.9h0M506.9 562.5h0M512.7 510.1h0M510.7 572.6h0M515.2 564.9h0M519.2 580.3h0M510.2 576.4h0M519.1 580.3h0M514.9 532.5h0M511.6 577.4h0M509.2 547.5h0M512.4 583.6h0M509.7 568.9h0M506.8 576.6h0M512.5 571h0M506.6 543.7h0M514.5 560h0M504.4 565.7h0M513.8 573.9h0M512.9 568.4h0M498.9 580.5h0M506.2 514.7h0M510.8 563.7h0M516.7 582.2h0M500.8 575.5h0M519.7 476.4h0M503.9 537.2h0M510 576.9h0M509.9 572.7h0M505 567.8h0M517.6 576.7h0M509.7 580.3h0M507.1 579h0M508.6 532.6h0M516.5 565h0M510.1 580.4h0M518.8 536.2h0M514.4 550.8h0M512.1 580.8h0M512.8 530.2h0M504 562.8h0M509.7 561.6h0M515.5 566.8h0M501.8 569.6h0M516.7 578.4h0M512.2 567.5h0M509.9 545.3h0M507.2 573.8h0M515.1 550.6h0M506.3 569.8h0M515.6 574.7h0M501.7 558.6h0M508.7 579.8h0M507.3 549.8h0M506.8 582.3h0M511 557.6h0M507.9 526h0M510.2 568.9h0M510.8 564.2h0M515.3 575.6h0M512 555.8h0M506.3 582.3h0M508.4 545.8h0M514.9 559.9h0M510.1 573.3h0M506.5 583.7h0M508.8 552.8h0M496.8 581.9h0M513.2 554.2h0M501.8 560.7h0M518.5 583.3h0M512.3 560h0M509.6 574.2h0M513.1 568.5h0M507.4 579.1h0M521.1 582.8h0M503.8 573.7h0M511.4 556.3h0M506 520.1h0M507.5 583.5h0M514.3 581.3h0M508.7 535.9h0M515.6 568.2h0M510.6 572.2h0M501.3 562.8h0M511.7 575.4h0M515.4 532.7h0M509.9 524h0M508.8 569.6h0M506.8 552.4h0M507.7 565h0M512.9 558.2h0M505.5 536.5h0M514.4 565.3h0M520.3 514.6h0M518.2 582.8h0M516.4 557.1h0M510.9 583.6h0M513.6 505.7h0M523.8 557.6h0M513.5 581.5h0M513.7 536.8h0M505.9 571.5h0M505.3 566.5h0M515.9 567.7h0M507.4 584.2h0M504.9 498.5h0M514.3 575.6h0M508.8 575.8h0M504.5 584.3h0M509.4 574.1h0M513 570.1h0M504.9 582.7h0M521.7 575h0M518.1 573.2h0M516.4 578.3h0M510.9 563.4h0M516.6 583.7h0M509.3 557.5h0M512.3 568.7h0M501.1 570.3h0M520.7 562.4h0M512.5 522.5h0M505.3 476.5h0M515.4 578.3h0M519.7 583.2h0M506.9 575h0M509.7 564.4h0M519.2 515.9h0M506 543.2h0M514.1 560.6h0M512.7 575.6h0M518.9 560.7h0M517.5 574.1h0M502.1 578.6h0M512.5 541.6h0M510.4 574.9h0M507.8 582.5h0M508.7 540.5h0M516.7 549.8h0M501.9 556.1h0M505 573.7h0M518.5 512.6h0M506.9 531.8h0M507.6 536.1h0M507.1 576.8h0M514 534.7h0M514.9 552.8h0M506.3 497h0M516.1 574.1h0M519 579.6h0M504.5 496.2h0M510.8 544.8h0M510.3 574.5h0M513 583.2h0M514.6 574.5h0M523.6 569.2h0M516.1 573h0M513.6 582.5h0M503.8 579.7h0M513.2 568.1h0M505.6 510.5h0M509.1 575h0M508.5 582.7h0M505.5 576.2h0M513.8 570.1h0M512.3 581.3h0M512.3 580h0M511.8 583.2h0M503.6 558.5h0M509.9 568.7h0M499 563.8h0M509.5 581.5h0M513.4 575.3h0M507.7 582.3h0M505.4 508.8h0M509.1 575.9h0M508.4 564.3h0M518.2 582h0M506.5 540.4h0M510.1 567.9h0M522.4 525.5h0M510.4 582.1h0M506.4 518.2h0M512.7 568.2h0M508.7 579.8h0M507.9 577.1h0M511.1 569.5h0M513 581.6h0M512.4 561.7h0M507 569.5h0M504.2 545.4h0M506.3 571.5h0M507.5 556.9h0M519.1 581.9h0M505.3 562h0M522.2 561.8h0M501.8 579.7h0M515.3 569.7h0M497.9 575.5h0M503.5 551.5h0M511.8 546.9h0M502.9 584.2h0M506.1 559h0M505 576h0M508.5 578.4h0M503.8 568.2h0M519.1 557.7h0M498.9 554.7h0M503 575.7h0M520.2 545.5h0M509.4 566.7h0M519.3 572.1h0M512.9 558.5h0M501.6 549.7h0M528.3 583.2h0M511.8 554.2h0M508.1 578.1h0M511.9 568.1h0M514.2 565.9h0M511.5 568.5h0M503.4 557.6h0M517.2 562h0M523.8 568.6h0M513.2 569.3h0M515.1 566.2h0M501.4 554.8h0M502.6 564.8h0M507.5 553.2h0M522.9 554.1h0M509.7 578.8h0M502.7 559.4h0M510.8 557.6h0M505.2 563.6h0M484.3 568.8h0M500 557h0M526.7 565.2h0M517.3 548.6h0M499.3 567.3h0M514.4 578.3h0M509.5 551.9h0M511 583h0M528 578.4h0M520.6 570h0M499.5 574.9h0M521.8 574.2h0M516.4 566.8h0M504 557h0M513.2 579.1h0M507.5 551h0M526.6 583.9h0M512.4 547.6h0M508.3 555.6h0M497.9 550.1h0M508.9 568.5h0M513 584.1h0M485.6 549.5h0M503.8 580.6h0M538.9 553.7h0M507.5 555.5h0M515.2 579h0M492.8 553.9h0M510.8 555h0M512.1 562h0M506 550.5h0M513.1 568.5h0M530.9 547h0M515.8 563.9h0M537.7 576.3h0M503.4 549.6h0M511.7 583.6h0M499.3 564.5h0M536.1 566.7h0M504.4 580.6h0M524.6 562.2h0M495 583.2h0M510.6 561.6h0M497.2 562h0M506.2 554.6h0M525.4 573.2h0M516.1 554.3h0M504.7 577.7h0M524.7 559.1h0M520.8 552.1h0M502.4 570.4h0M513.7 565.5h0M501.9 583h0M518.7 580.2h0M513.2 563.7h0M511.8 545.6h0M496.1 577h0M510 576h0M507.2 584.2h0M485.1 561h0M539.1 572.1h0M518.4 452.1h0M501.1 464.4h0M422.9 552.9h0M440.1 575.3h0M450.9 549.3h0M476.8 561.7h0M479.5 567.8h0M538.8 546.9h0M534.3 551.7h0M539.9 557.8h0M542 564.7h0M558.8 569.6h0M542.9 573.9h0M539.9 581.1h0M481.2 568.4h0M481.7 582.8h0M484.1 548.6h0" stroke="#818181" stroke-width="2.2" stroke-linecap="round" fill="none" stroke-opacity="0.56"/>
<path d="M513.2 580h0M506.7 580h0M510.4 577.3h0M512.6 573.8h0M510.8 575.4h0M506.7 582h0M504.7 582h0M497.8 582.8h0M513 578.4h0M514.5 507.8h0M508.5 550.1h0M511.4 575.8h0M510 528h0M513.6 580.5h0M510.5 550h0M510.5 573.8h0M506.9 526.9h0M508.5 573.9h0M508.9 565.3h0M508.2 569.5h0M506 542.7h0M510.1 568.7h0M523.3 573.4h0M506.2 582.4h0M512.8 572.1h0M511.8 559.9h0M505.5 513.4h0M504.9 576.1h0M506.3 584h0M509.1 562.8h0M504.2 517.3h0M504.3 579.2h0M509.4 570.9h0M511.9 569h0M508.1 508.6h0M507.5 567.9h0M509 529.2h0M507.5 577.2h0M511 529.5h0M502 583.8h0M513.7 557.6h0M513.8 580.9h0M510.6 561h0M511.7 578.1h0M508.7 583h0M515.2 552.6h0M510.7 564.1h0M507.8 576.3h0M510.6 537.6h0M502 557.9h0M509.5 549.4h0M510.3 545.2h0M498.1 578.1h0M515 583.5h0M515.5 561.9h0M507.9 573.6h0M512.3 537.6h0M511.8 527.1h0M515.2 572.2h0M509.8 565.9h0M511.9 541.8h0M508.1 540.7h0M514.5 562.7h0M502.9 548.7h0M510.1 566.2h0M507.4 504.8h0M510.8 549.1h0M501.8 569.2h0M507.4 555.4h0M509 559.3h0M495.5 569.1h0M509.6 577.5h0M516.4 576.5h0M508.8 569.1h0M512.6 487.6h0M510 578.6h0M515.8 492.8h0M508.1 578.5h0M513.4 536.8h0M515.9 565.3h0M510.7 538.3h0M506.6 568.1h0M509.5 577h0M516.3 568h0M512.3 544.2h0M510.8 506.4h0M505.1 567.2h0M514.5 571.4h0M508.7 577.7h0M513.1 562.7h0M510.3 578.8h0M503.5 573h0M508.4 584h0M502.4 583.6h0M503.9 497.2h0M513.3 498.4h0M511 556.4h0M510.1 565.7h0M505.6 566.7h0M510.1 573h0M521 577.4h0M513.7 580.1h0M505.5 486.9h0M507.7 583.2h0M507.3 582.4h0M515.4 507.2h0M510.1 561h0M506.9 548.7h0M511 557.6h0M508.4 579.7h0M510.2 580.6h0M515.3 581.1h0M506 570.7h0M512.7 557.4h0M506.4 578.1h0M514.7 544.2h0M509.1 577.2h0M509.5 519.8h0M513.4 559.3h0M510.6 581.2h0M510.9 576.2h0M507 580.9h0M514.5 572h0M508.3 566.1h0M505.8 541.5h0M509 561.5h0M510.2 571.2h0M504.7 563h0M509 583.6h0M507.2 564.4h0M508.1 583.4h0M513.6 578.8h0M510.5 578.4h0M511.1 554.1h0M513.9 489.3h0M515.2 567.4h0M506.9 529h0M511.8 566.2h0M513.7 578.4h0M512.6 573.7h0M513.1 561.7h0M506.2 583.8h0M513.2 537.2h0M514 575.1h0M509.8 582.1h0M512.4 559h0M512.3 497.8h0M517 532.1h0M503.1 537.9h0M515.6 583.7h0M511.1 553.2h0M513.2 546.7h0M515.6 560.5h0M510.6 571.7h0M509.8 577.7h0M513.6 567.1h0M511.1 545h0M510.5 573.6h0M503.2 576.5h0M500.8 527.3h0M512.6 530.5h0M508.1 549.1h0M510.3 578.4h0M517.2 569.7h0M516.2 505h0M508.5 583.6h0M508.3 551.5h0M508.8 520.4h0M511.1 571.8h0M513.5 570.8h0M507.6 568.5h0M505.2 539.6h0M501.1 580.1h0M509.7 542.3h0M509.2 562.4h0M515.7 560.8h0M508 574.5h0M510.9 579h0M510.3 558.5h0M512.8 511h0M510.9 533.9h0M507.6 582.3h0M517 493.9h0M514.5 571.1h0M516.9 574.1h0M513.5 576h0M507 552.3h0M509.3 570.7h0M511.8 550.9h0M513.3 526.9h0M510.6 576.6h0M509.7 570.3h0M510.9 519.1h0M501.7 568.2h0M513.6 574.3h0M509.2 573.1h0M516.8 577.6h0M514.1 534.6h0M506.2 576.2h0M515.9 570.9h0M501.6 579.8h0M504.8 581.7h0M511 562h0M509.7 563.4h0M514.9 579.6h0M503.9 581.2h0M501.1 558.6h0M504.5 577.6h0M512.9 570.1h0M513.8 583.6h0M509 552h0M509.7 575.6h0M504.9 571.6h0M512.3 553.6h0M509.2 550.5h0M508.9 536.4h0M514.5 570h0M505.7 583.6h0M510.5 581.1h0M510.1 576.7h0M511 552.7h0M510.7 561.7h0M517.9 567.3h0M511.5 563.7h0M512.9 575.7h0M516.1 517.2h0M509.9 581.5h0M507.4 510.1h0M511.7 584.3h0M514.2 551.7h0M510.5 583.7h0M517.1 583.4h0M510.6 581.9h0M515.4 570.3h0M506.3 579.7h0M513.9 583.7h0M514.1 575.1h0M510.3 565.5h0M513 528.7h0M509.6 581.3h0M509.6 583.8h0M518.1 574.1h0M508.2 583.9h0M509.6 527h0M514.3 549.4h0M508.5 563.8h0M508 564.4h0M510.6 571.1h0M507.1 570.9h0M512.5 580h0M514.7 573.9h0M511.9 584.1h0M509.4 582.6h0M507.5 565.8h0M508.5 549.2h0M504.9 573.4h0M504.7 563.7h0M511 578.1h0M512.2 573.2h0M506.3 583.5h0M512.4 580.2h0M510.4 537.6h0M511.6 582.4h0M504.1 583.6h0M507.4 562.8h0M509.9 527.3h0M507.3 583.7h0M508.2 574h0M504.4 576.5h0M514.5 522.3h0M510.2 556.2h0M512.8 576.9h0M512.4 555.3h0M510.5 578.4h0M510.6 573.6h0M507.8 565.5h0M508.8 568.2h0M504.2 541.6h0M505.5 582h0M511.9 581.6h0M516.1 565.6h0M510 568.4h0M511.1 561h0M504.4 582.9h0M504.4 533.6h0M512 581.2h0M507.7 567.2h0M512.6 571.8h0M504.5 582.7h0M508.4 524.1h0M506.2 531h0M518.3 571.6h0M514.5 567.5h0M512.1 557.2h0M516.9 580.2h0M513.9 576h0M511.7 575.7h0M514.8 579.7h0M510.6 557.7h0M512 584.3h0M506.1 565.1h0M508.6 543.3h0M498.8 584.1h0M511.8 547.7h0M506.6 570h0M509.8 583.2h0M506.3 530.5h0M507.7 543.3h0M500.9 564.4h0M510.9 575.5h0M507.7 563.1h0M504.4 563.4h0M515.7 566.6h0M514.4 554.1h0M510.1 533.9h0M508.2 492.5h0M498 580.3h0M508.6 567.9h0M511.4 576.4h0M506.9 573.4h0M511.7 527.1h0M507.2 582h0M499.2 581.6h0M508.1 578.8h0M510.4 578.1h0M500.7 574.3h0M506.6 580.9h0M512.1 546.7h0M500 567.1h0M510.6 449.5h0M503.2 574.6h0M504 559.5h0M507.1 560.9h0M506.7 556.3h0M513 584.2h0M512.2 569.2h0M509 581.7h0M513.1 562.6h0M511.5 565.7h0M512.6 556.6h0M517 534.9h0M504.8 540.4h0M509.8 580.3h0M505.9 577.6h0M507 570.9h0M508.7 558.7h0M506 578.5h0M511.9 539.6h0M513.6 578.8h0M513.2 567.6h0M506.3 574.1h0M510.6 565h0M505.5 542.2h0M510.9 541.5h0M505.7 553.3h0M509.1 580.4h0M512.8 576h0M508.3 581.7h0M507.9 507.3h0M502.2 584h0M511.7 564.1h0M508 576.6h0M508.1 552.5h0M512.6 551h0M507.5 503.5h0M517.8 574h0M514.4 582.9h0M506.6 574.3h0M512.6 557.6h0M503.6 560.8h0M508.5 581.9h0M507.1 535.1h0M509.6 569.2h0M504.9 563.1h0M507.4 581.6h0M512.2 564.1h0M512.1 562.6h0M509.3 553.9h0M514.6 545.4h0M512.5 582h0M509.8 571.7h0M509.6 581.8h0M511.5 572.8h0M515.7 583.6h0M502.1 559.8h0M504.1 559.1h0M505.1 551.5h0M510.5 549h0M506.6 537.8h0M512.9 563.4h0M513.1 580.8h0M507.3 563.7h0M518.3 572.9h0M520.2 571h0M516.9 577.5h0M500.9 562h0M499.1 571.5h0M512 576.3h0M509.1 551.4h0M506.1 584.2h0M505.9 576.4h0M514.1 534.5h0M511.4 543.8h0M512.7 581.7h0M512.4 584.2h0M508.4 510.6h0M514.7 570.9h0M510.8 542.3h0M521.2 506.1h0M509.9 507.8h0M518.6 565.3h0M510.5 557.8h0M514.9 564.2h0M517.3 536.2h0M511.7 512h0M512.6 569.1h0M506.1 556.7h0M500.3 578.6h0M515 541.2h0M500.2 557.4h0M508 524.8h0M514 553.7h0M510.6 571.8h0M510.9 578.8h0M515.4 581.4h0M505.4 552.9h0M509.7 577.2h0M514.3 534h0M506.8 555h0M510.9 579.6h0M514.2 565.2h0M518 537.3h0M516.6 573.9h0M516.2 559.3h0M505.4 581.3h0M514.1 569.2h0M518.6 562h0M511.3 580.6h0M519.7 528.5h0M511 570h0M515.2 581.7h0M516.1 506h0M516.2 579.1h0M509.1 582.6h0M514.7 566.9h0M507 554.5h0M507.5 560.4h0M521.3 570.8h0M514.2 487.3h0M516.9 581.3h0M514 527.2h0M518.3 538.7h0M512.9 542.1h0M503.9 546h0M516.8 546.2h0M514.1 539.8h0M515 543.3h0M510.9 512.9h0M515.1 535.9h0M508.7 568.5h0M520.5 498.3h0M524.3 582.3h0M508.5 527.5h0M503.9 524h0M512.1 579.5h0M510.3 562.4h0M517.8 572.4h0M511.1 577.6h0M504.1 575.6h0M502.4 579.9h0M513.4 567.9h0M509.9 567.1h0M511.5 581.8h0M519 571h0M514.5 553.9h0M518.5 536.4h0M512 573.6h0M521.3 538.1h0M519 545.6h0M515.9 540.3h0M511.4 571.1h0M516.1 557h0M507.3 578.8h0M510.7 581.4h0M515.1 527.9h0M507 546.6h0M514 577.9h0M508.8 549.1h0M509.8 571h0M517.6 579.8h0M505.9 541.9h0M517.1 574.2h0M498.4 571.2h0M507.7 576.2h0M502.3 579.4h0M506.4 575.5h0M517.2 563.4h0M507 580.2h0M513.1 564.2h0M512.1 574.7h0M515.5 534.3h0M516 564h0M509.8 568.3h0M507.2 563h0M511.1 569.3h0M506.2 581.6h0M514.1 583.8h0M514.3 568.8h0M518.6 566.7h0M514.5 554.6h0M508.3 578.7h0M507.6 543.9h0M511.4 553.5h0M504.7 570.6h0M501.3 542.7h0M510.1 550.9h0M509.8 570.7h0M511.5 491h0M507.2 575.1h0M511.3 583.1h0M509.4 574.9h0M513.1 562.3h0M505.7 583.7h0M510.6 547.2h0M511.7 537.2h0M510 574.3h0M509.9 568.6h0M514.4 580.9h0M511.5 572.6h0M508.7 564.8h0M515.5 566.2h0M512.3 566.1h0M510.3 571.9h0M508.7 570.3h0M514.6 547.1h0M510 577.9h0M507 578.8h0M502.8 540.6h0M505.7 568.5h0M510 580.5h0M507.9 580.6h0M509.6 550.4h0M508.9 578.9h0M510.2 574.3h0M503.5 578.2h0M512.1 517.9h0M510 561.1h0M518.1 486.5h0M504.9 569.3h0M522.1 574.1h0M506.9 555.3h0M505.5 556.1h0M507.3 555.2h0M499.7 559.2h0M512 582.8h0M513.7 574.5h0M509.8 581.5h0M505.2 539.2h0M511.3 577.1h0M515.5 550.2h0M508 523.1h0M515.1 573.3h0M506.8 567.9h0M504.8 569.3h0M507.8 583.1h0M506.2 550.9h0M510.9 579.6h0M518.5 574h0M516.4 546.9h0M502.9 576.6h0M512.8 579h0M511.8 583.4h0M510.7 530.1h0M505.1 550h0M507 569.1h0M504.9 573.5h0M503.3 564.8h0M510.7 573.8h0M505 574.3h0M515.1 582.5h0M514.3 583.1h0M505.7 549.7h0M511.9 549.7h0M507.9 581.4h0M509.1 553.3h0M514.8 584.2h0M520.9 582.2h0M511.5 576.6h0M509.8 537.2h0M505.1 563h0M509.2 541.1h0M508.1 524.1h0M511.4 514.9h0M512.6 581.9h0M516.2 563.7h0M509.1 527.1h0M512.3 577.2h0M509.2 583.2h0M513.7 578.8h0M514 562.7h0M505.2 550h0M511 583.9h0M507.9 569.6h0M508.7 579.2h0M509.8 565.7h0M515.9 554.1h0M506 583.4h0M518.5 538.6h0M518.2 580.7h0M513.8 548.9h0M501.7 562.6h0M510.4 574.1h0M505.7 567.8h0M510.4 552h0M505.7 578.1h0M516.5 545.8h0M505.4 552.8h0M506.4 548.6h0M508.6 579.9h0M508.5 507.3h0M513.1 567.3h0M504.2 546.7h0M517.5 571.5h0M513.2 576.4h0M493.9 565.5h0M505.9 549.3h0M501.9 580.4h0M507.5 575.3h0M505.8 580.2h0M504 577.2h0M520.7 573.7h0M514.2 529.2h0M504.9 583h0M515.7 578.9h0M511 547.9h0M506.8 583.8h0M512.7 551.6h0M513.3 582.5h0M516 535.1h0M508 575.7h0M508.4 543.3h0M509.8 551.6h0M503.6 574.5h0M507.6 569.6h0M509 574h0M508.5 550.1h0M514.5 570.7h0M509.7 574h0M511.6 577.4h0M511.8 577.5h0M509.9 545h0M515.3 556h0M514.3 561.7h0M511.1 537.3h0M503.8 579.9h0M514.1 574h0M509.1 583.3h0M503.8 546.7h0M499.7 566.6h0M508.6 559.8h0M512.4 567.1h0M516.9 496.9h0M511 583.1h0M510.3 577.1h0M506.1 566.9h0M510.7 564.3h0M517.1 572.3h0M510.3 538.4h0M496 583.2h0M519.8 509.9h0M513.1 574.9h0M517.9 563.6h0M521.8 583.5h0M513.2 567.4h0M520.2 562.8h0M509.7 569.5h0M508.6 551.9h0M508 556h0M507.6 579.8h0M511.8 579.5h0M515.4 570.1h0M509.1 570.6h0M508 581.3h0M505.8 570h0M509.6 546.1h0M508.3 574.4h0M520 577.2h0M508.7 582.9h0M504.6 546.3h0M509.5 583.8h0M515.4 531.1h0M515 534.7h0M520.3 548.6h0M509.5 582.2h0M513 571.2h0M510.4 496.9h0M520.6 583.5h0M513.2 578.7h0M501.2 580.5h0M497.2 581.3h0M512.5 523.5h0M508.8 573.6h0M512.1 569.8h0M508.7 576.2h0M512.2 583h0M512.2 582.1h0M511.8 581.5h0M504.9 581.8h0M504.1 532.9h0M502.7 580.9h0M514.4 554h0M511.6 562h0M510.9 537.8h0M513.7 580.4h0M503.3 562.3h0M508.8 558.3h0M503 575.3h0M510.2 579.8h0M504.9 566h0M508.4 572.4h0M512.2 572.7h0M509.2 542.4h0M509.8 574.8h0M504.2 583.8h0M503.3 558.8h0M517.5 570.3h0M508 579.6h0M498.2 521.1h0M517 536.6h0M505.9 584.2h0M506.9 567.6h0M509.5 567.4h0M508.7 556.3h0M512.8 538.4h0M515.9 582h0M513.8 575.9h0M512.7 571.3h0M505.7 572.9h0M509.6 567.9h0M515.2 578.2h0M514 567.9h0M514.7 580.4h0M509.5 574.7h0M512.2 558.9h0M516.8 574.4h0M500 547.9h0M520 575.1h0M506.9 573.1h0M509.5 577.3h0M513.4 576.3h0M507 583.2h0M516.8 564.3h0M507.9 556h0M513.5 576.4h0M514.7 584.1h0M507.1 537.6h0M509.2 573.2h0M508.8 571.2h0M506.9 581.2h0M504.8 581.7h0M516.5 505.8h0M509.6 577.7h0M514.9 565.4h0M514.3 577.8h0M511.4 575.5h0M513.3 579.1h0M521 553h0M515.8 570.8h0M511.7 574.6h0M505.7 548.6h0M505.9 583.2h0M514.9 538.9h0M514.6 528.5h0M508.4 575.1h0M515.3 524.1h0M510.1 567.9h0M518.1 542.7h0M508 565.4h0M513.8 569.2h0M520.5 531.9h0M503.3 573.3h0M515.8 565.4h0M510.9 490.6h0M500 518h0M521.5 561.8h0M515.6 527.5h0M505.1 579.3h0M510.5 555.1h0M520 532.5h0M507.9 529.8h0M511.8 560.4h0M504.7 554.3h0M509.5 552h0M514.8 579.7h0M505.2 563.7h0M511.8 560.1h0M505.3 504.1h0M512.6 521.3h0M513.4 581.8h0M507.6 539.3h0M505.1 582.3h0M511.3 580.3h0M523.9 556.2h0M506.2 575.2h0M515.8 564.4h0M523.6 519.2h0M514 581.4h0M514.5 570.1h0M509.4 548.5h0M512.1 549.1h0M503.5 580.3h0M522.5 549.6h0M509.7 576h0M508.8 580.6h0M513.3 584.1h0M512.5 571.6h0M507.8 577.6h0M509.7 581.7h0M509.5 573.8h0M510.7 582.9h0M511 574.4h0M507.7 558.5h0M513.3 566.9h0M513.1 535.9h0M503.6 509.7h0M503.4 577.2h0M503.1 555.1h0M500.7 577.2h0M509.2 538h0M509.3 554.9h0M512.8 563.5h0M508.1 558.5h0M508.2 577.4h0M516 583h0M508.4 574.2h0M507.4 563.4h0M503.6 546.3h0M515.9 561.9h0M515.9 576h0M501.7 503.8h0M502.7 498h0M511.2 580.2h0M517.4 550.3h0M513.3 577.7h0M510.1 573.5h0M512.3 543.1h0M516.6 576.7h0M504 558.1h0M505.5 568.9h0M514.5 582.5h0M521 583.5h0M510.2 578.8h0M507.9 534.9h0M515.1 580.6h0M510.8 581.9h0M510.6 568.8h0M513.8 558.7h0M504.8 578.2h0M516.7 582.7h0M504.5 571h0M510.7 580.1h0M506.9 492.7h0M505.6 571.9h0M511.3 564.9h0M509.5 568.1h0M509 561.8h0M511.9 530.3h0M511.7 561.2h0M516 566.8h0M512.7 581.4h0M500.9 557.4h0M506.3 579.7h0M503.2 564.1h0M520.9 544.4h0M501.2 581.1h0M512.5 576.5h0M511.6 578.8h0M510.2 581.2h0M519.6 529.8h0M510.9 540.5h0M520.1 582.3h0M513.4 508.4h0M510.8 563.4h0M503.1 575.1h0M507.7 583.2h0M495.8 578.6h0M508.2 562.7h0M508.9 559.8h0M519.3 575.2h0M504.1 571.6h0M515.7 567.4h0M504.6 533.1h0M514.9 566.3h0M505.4 514.5h0M507.1 581.1h0M514.5 503.2h0M510.7 561.6h0M504.5 549.6h0M520.8 560.8h0M512.2 536h0M515.2 580.6h0M512.3 541.8h0M510.9 583.1h0M507.3 571.7h0M514.7 576.9h0M513.2 578.8h0M496.2 568h0M513.4 574.5h0M513.3 553.9h0M515.1 559.5h0M505 507.5h0M505 573.7h0M500.5 577h0M510.2 550.5h0M514 568.1h0M502.2 570.2h0M506.8 548.4h0M510.3 574.9h0M512.7 583.3h0M512.4 456.4h0M510.2 579.5h0M505.8 577.1h0M514.8 553.6h0M513.6 555.2h0M511.6 566.8h0M508.4 542.7h0M509.4 578.9h0M513.1 580.8h0M503 565.4h0M508.6 548.9h0M499.7 543.5h0M508 566.7h0M504.3 563.6h0M520 571h0M517.9 582.7h0M525 554.3h0M512 580.2h0M523.9 570.2h0M505.6 561.1h0M515.2 558.1h0M515.1 572.3h0M503.6 572.4h0M506.1 571.2h0M517.4 571.9h0M518.7 568.9h0M509.3 550.2h0M516.2 565h0M505.6 556.1h0M520.6 563h0M523.1 570.7h0M514.7 547h0M500.6 578.2h0M502 582.2h0M506.6 561h0M512.5 580.6h0M514.6 560.9h0M519.1 567.8h0M518.6 552.8h0M512.6 573.9h0M515.9 565.9h0M508.6 580.3h0M524.3 552.8h0M506.9 572.6h0M518.4 580.7h0M510.4 564.1h0M509.8 580.4h0M512.7 567.8h0M517.2 574.9h0M510.3 560h0M536.5 582.3h0M523.1 561.2h0M495.2 573.9h0M504.4 563h0M517.4 582.9h0M510.5 576.1h0M521.7 562.2h0M496.4 562.9h0M513.3 551.9h0M499.3 579.3h0M527.1 559h0M534.7 579.3h0M516.5 552.2h0M528.1 551.7h0M509.3 577.8h0M496.8 575.4h0M525.5 559.9h0M507 548.5h0M512.9 570.7h0M513.8 572.6h0M510.1 569.2h0M511.9 549.8h0M518.6 547.2h0M519.5 567.6h0M508.5 581.9h0M493.6 558.9h0M524.5 556.7h0M511.3 570.8h0M496.2 548.5h0M526.8 570.1h0M491.8 578h0M534.6 548.7h0M511.4 564.4h0M488.9 560.6h0M502 552.6h0M515.2 579.1h0M525.7 573.9h0M531.4 580h0M505.6 551.7h0M509.9 550.7h0M514.3 577.7h0M511 574.8h0M496.9 568.7h0M515.4 578.2h0M502.8 573h0M528.8 575.2h0M507.4 546.5h0M496.8 580.5h0M513.6 577.6h0M502.8 581.4h0M502.5 581.5h0M512 548.6h0M505.6 565.1h0M531.4 552.4h0M513.6 556.2h0M523.5 549.4h0M502.8 563.9h0M504 554.2h0M534 582.5h0M515.1 562h0M447.8 571.7h0M520.8 551.1h0M509.4 456.2h0M507.9 466.9h0M432.9 561.2h0M441 577.1h0M454.4 550.8h0M470.5 566.4h0M470.7 578.5h0M541.3 550.9h0M564.4 554.8h0M535.7 558.8h0M558.4 563.8h0M546.9 570.9h0M554.5 573.9h0M561.1 581.7h0M485 568h0M486.2 554.8h0M487.8 551.1h0" stroke="#818181" stroke-width="2.2" stroke-linecap="round" fill="none" stroke-opacity="0.56"/>
<path d="M512 572h0M508.7 580.1h0M509.2 582.4h0M511.9 549.5h0M509.5 579.2h0M515.6 581.4h0M507.8 537.5h0M512.1 556.7h0M513.1 572.7h0M506.8 558.9h0M504.9 541.8h0M502.3 577h0M503.3 578.5h0M514.4 577.3h0M512.3 531.5h0M514 559.2h0M507.6 572h0M512.5 576.4h0M514.6 547.5h0M515.1 577h0M507.2 584.2h0M506.5 584.2h0M510.5 580.6h0M510.9 530h0M508.5 558h0M511.7 551.9h0M508.3 575.2h0M511.5 572.6h0M506.2 579h0M513.2 573.3h0M508.9 572h0M508 545.3h0M503.5 572.6h0M511.1 576.4h0M506.3 568.9h0M506.6 563.8h0M509.1 562.6h0M509 580.7h0M514.8 552.9h0M506.8 540.2h0M506.9 569.1h0M507.9 526.3h0M509.2 556.7h0M509.8 568.5h0M508.6 584.1h0M509.3 577h0M515.1 499.7h0M511.4 566.9h0M505.4 570h0M506 581.1h0M510.2 570.6h0M511.1 560.8h0M508.5 571.8h0M508.3 566h0M506.2 550.6h0M512.4 580.2h0M509 581.9h0M507.9 561.1h0M514.4 565.9h0M506.7 582h0M514.5 584h0M505.2 577.9h0M512 581.8h0M512.2 562.2h0M508.3 584.2h0M505.6 562.1h0M508.4 578.2h0M513.9 579.5h0M508.4 568.4h0M503.6 497.8h0M503 572.5h0M510.8 583.5h0M509.5 561.1h0M504.4 567.2h0M504.3 550.2h0M513.6 573.7h0M507.2 575.4h0M503.8 573.2h0M515.4 561.8h0M507.8 547.3h0M508.2 578.7h0M509 554.8h0M508.4 562.2h0M509.3 568.8h0M509.2 515.7h0M510.9 565.8h0M498.9 560.2h0M509.7 582.4h0M503 576.9h0M517.3 468.3h0M506 583h0M508.2 560.6h0M511.2 568.6h0M509.4 577.7h0M512 554.6h0M509.1 580.1h0M505.4 579.1h0M510 572.5h0M504.2 520.8h0M503.5 554.4h0M505.2 569.7h0M501.1 555.7h0M512.3 550.9h0M507.5 562.2h0M506.2 580h0M508.3 561.6h0M508.3 578h0M507 575.7h0M513 571.3h0M508 583.2h0M509.7 582.4h0M507.7 576.3h0M505.5 576h0M506.5 571.5h0M510.8 581h0M502.9 506.8h0M508.5 569.7h0M509.2 564h0M506.3 582.7h0M512.4 529h0M515.9 489.5h0M506.7 583.7h0M503.7 562.8h0M502 550.4h0M503.9 578.8h0M508 572.8h0M512.4 559.9h0M510 540.6h0M506.8 570.1h0M505 529.9h0M510.6 514.2h0M512.5 572.4h0M511.9 511.9h0M513.3 558.3h0M515.1 541.1h0M506.6 582.2h0M505.5 522.7h0M511.8 576.2h0M507.9 580.5h0M517.1 568.6h0M507.5 550.5h0M510 579.8h0M510.4 558.9h0M507.3 523.5h0M516.8 578.7h0M508.4 576.5h0M504.5 568.1h0M501.6 575.3h0M508.9 562.3h0M511.5 568.9h0M513.1 581.5h0M506.7 569.7h0M507.3 558.4h0M507.4 531.2h0M521.4 541.5h0M521.5 544.1h0M509.8 573.5h0M509.4 563.9h0M512.6 582.8h0M515.9 583.6h0M507 581.4h0M511.3 499.2h0M511.6 545.4h0M506.8 530.6h0M507 574.7h0M511 555.8h0M512.9 542.8h0M509.6 540.5h0M512.7 580.4h0M503.8 579.1h0M509.7 583.8h0M504.6 568.7h0M513.6 552.3h0M513 583.7h0M512.8 507.7h0M511.6 566.8h0M504.8 545.8h0M505.7 565.2h0M519.8 580.7h0M513.5 568.5h0M501.2 566.6h0M512 583.9h0M502.5 583.9h0M511.7 570.2h0M512.7 576.6h0M513.1 581h0M509.9 573h0M509 584.1h0M509.2 582.6h0M507.5 578.7h0M507.4 509.8h0M507 578.2h0M511.9 559.1h0M509.2 556.8h0M512.2 542.4h0M502.4 583.7h0M506.1 515h0M505.6 576.1h0M508.9 580.2h0M513.1 554.8h0M507.9 580.4h0M510.6 541.8h0M511.8 565.6h0M505.5 583h0M509.4 575.2h0M510 581.3h0M515.2 574.6h0M512.7 574.7h0M510.5 523.6h0M506.9 580.6h0M510.3 541h0M511.4 550.2h0M516.7 517.1h0M514.2 556.6h0M503.3 557.6h0M519.4 561.3h0M513.8 553h0M512.3 558.6h0M511.1 524.2h0M507 573.1h0M504 575h0M505.7 579h0M503.6 562.3h0M509.1 541h0M509.4 510.7h0M510.2 574.5h0M514.9 539.4h0M514.9 577.2h0M515.6 554.2h0M512.3 532.6h0M502.6 573h0M509.6 578.9h0M504.7 528.8h0M519.8 538h0M507.1 573.4h0M504.6 569.2h0M515.1 568.3h0M514.2 561.9h0M511.5 541.8h0M505.3 567.7h0M514 579.6h0M511.5 552.8h0M504.6 569.6h0M512.2 566.8h0M513.2 577.8h0M518.2 483.8h0M517.2 572.1h0M510.5 578h0M509.3 479.1h0M510.7 531.4h0M512.2 577.5h0M506 579.7h0M511.4 579.7h0M511.2 579.5h0M505.7 578.2h0M512 565.6h0M510.8 584.1h0M512.4 526h0M504.9 564.2h0M508.6 581.7h0M508.4 558.4h0M518.2 571h0M501.1 573h0M505.3 582.2h0M514.3 579.8h0M507.7 572.7h0M508.4 576.9h0M511.6 571.1h0M510.3 574h0M510 564.2h0M504.7 582.6h0M504.5 551.8h0M503.8 575.9h0M509.2 542.6h0M507.3 542.1h0M512.4 570.9h0M514.6 580.6h0M508.9 584h0M504.8 571.9h0M507.7 567h0M513.3 558.4h0M509.2 582.2h0M510.3 568.8h0M509.7 582.5h0M506.3 531.1h0M511.3 526h0M514.3 582.7h0M513.3 545.6h0M513.2 581.4h0M511.5 577h0M515.8 535h0M500.4 530.2h0M507.8 567.3h0M505.1 545.2h0M510.4 569.8h0M514.4 558h0M503 566h0M515.1 565.4h0M512.2 579.6h0M511.6 551.6h0M502.6 556.9h0M508.8 543.1h0M507.9 577.8h0M508.7 579.1h0M508.9 558.7h0M502 538.9h0M523.8 582.8h0M508.6 564.8h0M514.3 572.3h0M506.8 581.3h0M510 559.7h0M506.1 574h0M511.5 524.4h0M510.1 571.4h0M518.3 506.2h0M513.4 581.7h0M512 581.9h0M509.7 543.1h0M510.5 577h0M511.4 581.3h0M500.7 563.7h0M510 572.3h0M505.6 548.9h0M505.8 549.8h0M512.2 571.9h0M515.5 583.5h0M512.6 568.4h0M511.4 579.6h0M499.8 583.9h0M510.4 578.7h0M501.5 579.4h0M508.5 562.5h0M510.1 584h0M509.4 566.3h0M510.6 548.9h0M507.6 553.2h0M513.4 552.9h0M507.5 539.1h0M506.3 559.5h0M510 568.1h0M510 576.7h0M510.5 569.9h0M513.7 582.6h0M511.3 576.9h0M512 553.1h0M511.1 553.6h0M514.2 578.3h0M512.5 570.7h0M507.6 576.8h0M504.9 582.6h0M501.8 546.4h0M507.7 574.6h0M508.5 537.3h0M503.9 582.8h0M509.9 584.1h0M507.6 576.5h0M512.4 562.2h0M505.4 544.7h0M506.7 582h0M512 541h0M512.1 563.7h0M505.2 577.1h0M510.8 533.2h0M509.9 572.4h0M507.6 579h0M508.9 544.2h0M508.6 578.8h0M507.9 537.1h0M512.4 535.2h0M504 480.6h0M511.3 561.3h0M509.2 580.5h0M508.3 558.4h0M514.1 539.6h0M507.9 572.8h0M500.1 583.5h0M516.4 564.3h0M516.9 582.4h0M510.8 572.3h0M510.4 519h0M505.3 540.5h0M518.2 559.9h0M514.9 574.9h0M516.5 566h0M510.9 475h0M506.3 579.5h0M521.7 559.8h0M515.3 550.6h0M515.2 583.9h0M508.3 581.2h0M507.5 582.3h0M512 564.4h0M509.9 569.5h0M504.2 539.4h0M508.4 578.3h0M505.7 518.7h0M504.5 579.5h0M506.5 576.2h0M515.5 576.5h0M512.2 568.9h0M510.2 574.9h0M526.4 561.5h0M516.7 583.9h0M523.4 566.8h0M511.2 582.3h0M507 554.9h0M514.9 542.1h0M508.4 566.1h0M508.9 580.7h0M505.4 572.5h0M510.5 552.8h0M508 574.4h0M515.2 575.6h0M508.4 574.9h0M519.9 551.3h0M512 581.3h0M510.4 554.8h0M506.5 579.9h0M514 538.6h0M512.4 583.2h0M513.4 527.9h0M517 548.6h0M521.1 551.6h0M509.7 577.9h0M514.9 519.6h0M501.4 573.8h0M516.2 565h0M509.8 526.1h0M518.3 581.6h0M507.9 562.9h0M515.6 576.7h0M505.5 538.2h0M514 576.9h0M512.9 577.5h0M506.8 553h0M512.7 581.2h0M506.9 546.9h0M514.1 573.9h0M516.8 561.7h0M514.4 557.2h0M509.8 577.7h0M515.2 563.8h0M512 560.3h0M513.3 581.2h0M510.6 584.1h0M504.7 549h0M516.4 575.4h0M510.6 549.8h0M507.7 584h0M518.5 583.9h0M512.7 574h0M506.6 583.9h0M508.9 570.7h0M516.8 572h0M511.5 562.4h0M508.2 567h0M512.9 500.3h0M503.9 581.9h0M506.4 561.1h0M510.7 579.7h0M512.6 556.2h0M511.2 582.7h0M508.8 578.3h0M512.5 559.2h0M510.2 579.5h0M511.6 529.2h0M510.6 582h0M520 576.4h0M514.6 575.4h0M517.4 558.2h0M512.6 534.5h0M498 577.7h0M519.5 566.2h0M513.5 548h0M505.1 572.2h0M511.2 563.5h0M509.6 571h0M511.8 563h0M519.7 580.8h0M509.6 560.8h0M507.4 570h0M514.9 576.4h0M510.9 544.2h0M502.6 551.6h0M511.9 573.4h0M504.5 572h0M516.5 571.5h0M511.2 527.3h0M513.4 563.2h0M505.5 563.1h0M512.2 538.4h0M515.5 561h0M500 560.4h0M508.1 562.8h0M514.4 548.4h0M513.9 573.4h0M507 582.9h0M514.4 547.1h0M508.5 554.4h0M513.4 550.9h0M509.2 576.6h0M506.3 515.2h0M513.6 538.5h0M513.8 574.7h0M513.5 579.2h0M511.5 577.2h0M513.8 579.4h0M514.2 556.6h0M506.6 571.8h0M509.5 552.4h0M504.4 552.6h0M508.7 561.3h0M510.5 524.7h0M515.5 581.8h0M508.4 583.1h0M513.4 575.5h0M503.7 584.1h0M512.3 544.6h0M512.6 580.7h0M509 563.9h0M502 582h0M510.9 549.8h0M514 529.5h0M500.6 551.8h0M503.5 583.5h0M512.8 544.2h0M510.4 578.1h0M510.2 547.2h0M511.1 575.1h0M507.4 562.3h0M513.9 575.6h0M508.2 546h0M510.2 579.1h0M514.5 558h0M525.3 581.3h0M512.1 577.6h0M512.1 580.6h0M516.4 556.2h0M509.6 577.6h0M510.4 504.1h0M508.5 565.8h0M508.4 571.5h0M517 583.6h0M507.7 569.2h0M508.7 563.4h0M522.3 547.8h0M510.6 580h0M505.1 581.8h0M513.7 551.2h0M514.1 576.3h0M511.9 581.7h0M507.1 550h0M513.8 560.1h0M509.8 577.9h0M511.1 551.7h0M508 571.5h0M517.4 555.7h0M511 529.8h0M503.8 581.3h0M521.2 561.7h0M511 549.9h0M513.8 573.2h0M510.6 565.8h0M513.2 580.7h0M518.4 574.6h0M507.5 575.1h0M498.5 569.3h0M507.9 457.1h0M510.7 469h0M515.3 563.8h0M511.6 510.6h0M509.6 562.9h0M509.7 562.2h0M510.6 573.2h0M514.9 577h0M508.6 538.2h0M508.5 583.6h0M513.9 573.9h0M510.9 572.2h0M514.9 573.9h0M518.3 567.2h0M517.6 562.7h0M513 562.6h0M509.4 566.8h0M512.1 580.9h0M515.1 552.8h0M519.7 563.5h0M509.2 552.5h0M512 574.1h0M504.6 581h0M507.8 574.2h0M511.3 578.6h0M506.7 581.1h0M506.6 514.9h0M512 550.1h0M505.8 581.2h0M511.4 583.2h0M513 520.7h0M516.1 547.2h0M508.5 535.2h0M506.8 567.9h0M503.3 571.2h0M506 556h0M511.3 526h0M517.6 576.8h0M516.6 583.4h0M513.6 577.3h0M520.2 559.4h0M515.6 569.1h0M507.6 573.2h0M511.4 565.2h0M505.6 554.6h0M503.3 574h0M511.7 571.5h0M513.3 547h0M505.3 549h0M507.3 573.8h0M518.7 542.3h0M509.6 574.6h0M517.1 563.8h0M511.2 577h0M511 579.1h0M515.2 552.5h0M508.7 579h0M515.3 581.7h0M514.2 579.4h0M511 583.8h0M518.2 523.3h0M503.9 571.7h0M512.5 563.6h0M516.4 508.4h0M520.1 569.5h0M511.6 576.5h0M505 485.2h0M511.2 561.2h0M511.8 581.1h0M502.1 575.7h0M515.4 582.1h0M512.7 566.6h0M516.2 504.2h0M504.4 558.7h0M516.8 555.9h0M513.2 576.9h0M503.2 578.7h0M517.1 580.2h0M509.5 547h0M514.3 577.1h0M514.3 575.4h0M515.6 579.1h0M508.3 554.7h0M515.7 579.5h0M511.6 558h0M510.6 570.5h0M507 572.2h0M517.3 567h0M510.3 521.3h0M512 534.5h0M509.9 566.5h0M505.6 562.9h0M506 579.5h0M514.8 576h0M513.1 548.4h0M507.1 581.6h0M520.7 561.3h0M510.8 571.4h0M515.2 543.8h0M513.4 575.9h0M512.8 578.8h0M514.3 579.7h0M504.3 571.8h0M504.9 545.7h0M521.4 563h0M510.3 581.5h0M514.4 564.1h0M518.8 530.6h0M515.9 575.2h0M507.8 575.1h0M510.6 553.6h0M510.2 583h0M509.5 580.4h0M506.2 583.8h0M502.6 583.4h0M518.4 577.7h0M506.4 577.1h0M505.7 577.6h0M519.5 577.5h0M517.4 582.8h0M503.8 556.4h0M513.3 576.1h0M517.1 557.8h0M509.4 513.4h0M514 576.6h0M510.1 556.1h0M509.6 531.6h0M503.1 562.7h0M501.6 584.1h0M509.9 567h0M508.5 557.5h0M515.9 574.3h0M513.2 575.3h0M509 566.6h0M513.4 551h0M512 574.9h0M519.5 562.5h0M516.1 549.1h0M504.9 560.3h0M519 553.7h0M505.1 583.9h0M502.9 567.6h0M509.6 543.9h0M512.3 571.7h0M507.6 576h0M506.9 542h0M513.6 506.6h0M506.2 575.6h0M507.9 565.5h0M507.8 514.1h0M508.2 563.6h0M510.2 579.1h0M513.6 581h0M512.2 535.6h0M492.6 578.5h0M509 576.6h0M511.5 523.9h0M510.1 545.3h0M515.2 553h0M512.6 565.8h0M506.5 574.9h0M504 576.8h0M510 572.1h0M515.5 582.9h0M515.6 566.6h0M515 504.9h0M507.5 514.9h0M515.5 573h0M515.8 584.2h0M505 573.8h0M512.8 581.6h0M512.3 574.4h0M515.1 578.9h0M511.5 505.7h0M503.4 546.1h0M512.6 573.1h0M511 582.2h0M514.1 563.5h0M503.5 576.3h0M520 548.2h0M512.9 573.9h0M510.8 579.9h0M507.3 579h0M511.6 491.2h0M501.7 503.3h0M516.4 535.6h0M513.2 565.3h0M507.3 571.1h0M502.2 579.4h0M518.5 580.5h0M506.3 575.9h0M504.3 511.7h0M513 561.1h0M510.7 582.5h0M510.1 535.1h0M509.6 561.1h0M515.7 575.6h0M521.4 577.1h0M511.6 533.3h0M506.8 563.4h0M511.9 547.5h0M508.3 583.6h0M516.6 537.8h0M501 516.4h0M516.3 551.3h0M511.5 573.8h0M506.8 569.5h0M507.3 572.3h0M507.1 571h0M503.7 558.6h0M508.5 569.2h0M510.9 575.3h0M505.8 530.4h0M514.7 556.5h0M503.8 561.2h0M510.5 573.6h0M513 577.7h0M511.3 546.6h0M512.7 564.7h0M513.8 566.7h0M522.1 559.8h0M523.7 583.7h0M508.9 559h0M511.1 529h0M514.7 549.2h0M512.5 572h0M516.3 583.5h0M510 582.3h0M510.5 584.3h0M511.5 533.8h0M509.8 570.2h0M518.9 568.5h0M509.1 583h0M511.5 558.6h0M512.9 565.7h0M514.9 574.5h0M513.5 579.1h0M511.4 566.5h0M509.4 568.9h0M515.8 569.8h0M505.1 566.3h0M507.3 529.3h0M516.7 583.5h0M511.3 486.5h0M518.9 561.8h0M506.3 575.2h0M510.8 582.5h0M504.1 539.4h0M511.6 575.5h0M504.1 561.8h0M507 580h0M508.3 582.3h0M502.6 564h0M514.3 562.2h0M507.3 476.1h0M508.6 572.2h0M506.3 558.7h0M519.4 541.6h0M507.1 470.3h0M506.6 582.8h0M510.8 582.5h0M507.3 534.2h0M507.5 578.2h0M510 575.2h0M520 564.2h0M511.2 469.4h0M506.2 555.3h0M521.2 552.7h0M515.8 574.8h0M509.1 544.1h0M516.6 577.3h0M501.9 579.3h0M515.5 578.5h0M504.5 498.1h0M507.6 553.2h0M509.2 583.7h0M511.9 570.9h0M499.4 583.4h0M517.1 584.3h0M508.9 513.4h0M512.4 558.7h0M504.2 562.4h0M518.9 582.3h0M519.2 572.3h0M516.4 566.7h0M513.3 567.8h0M513 584.1h0M514.7 573.2h0M510.4 575.5h0M513.7 580.1h0M516 581.4h0M515.6 568.2h0M511.8 566.3h0M512.5 539.2h0M514.6 573.2h0M517.4 554.3h0M515.9 532.9h0M506.8 560.3h0M517.2 583.6h0M506.1 577.9h0M507.8 583.9h0M511.1 572.3h0M512.1 572.2h0M499.1 573.3h0M513.1 578.5h0M518.3 547.1h0M511.1 575.8h0M509 572.7h0M503.6 564.1h0M513.3 542.1h0M509.9 584.2h0M519 581.4h0M513.1 581.4h0M504.4 524.6h0M509.1 552.4h0M507.4 583.1h0M502.7 578.7h0M516.6 572.3h0M510.2 539.8h0M506.5 578.1h0M502.1 543.5h0M512.7 553.8h0M511 565.9h0M500.4 550h0M520.7 564.4h0M515.8 559.3h0M506.6 550.9h0M514.7 559.7h0M512.2 533.4h0M510.9 493.9h0M506.8 522.4h0M494.7 581.2h0M517.8 545.3h0M518.9 560.4h0M506.5 529h0M509.5 504.4h0M511.2 554.5h0M512 553.5h0M512.3 530h0M511.2 582.8h0M507.5 575.8h0M511.2 544.5h0M499 579.5h0M517.6 555.7h0M515 542.6h0M510.1 574.4h0M519.9 555.6h0M517 565.2h0M522.3 530.2h0M505.5 563.6h0M511.1 564.5h0M510.3 575.6h0M515.4 564.6h0M505.6 577.4h0M514.7 549.8h0M515.7 561.5h0M510.4 569.8h0M511.3 580.4h0M511.6 564.9h0M506.6 563.1h0M514.7 568.1h0M511 559.6h0M507.2 552.3h0M506.5 566.7h0M511.9 579.1h0M506.5 583.7h0M533 577.7h0M506.5 581.7h0M506.5 568h0M504.4 583.4h0M497.2 568.2h0M526.9 558.5h0M509.9 580.6h0M507.9 581.4h0M511.2 583h0M513.9 557.3h0M486.3 562.9h0M519.8 548.1h0M506.3 581.6h0M521.4 571.8h0M502.5 576.2h0M506.7 553.2h0M513.8 561.5h0M515.7 573.1h0M519.7 556.2h0M504.3 553.5h0M519.3 554.7h0M528 546.9h0M495.7 552.2h0M512.2 551.5h0M507.1 547.8h0M514.1 548.2h0M508.3 581.2h0M523.8 554.2h0M509.4 548.5h0M512.3 547h0M534.3 550.8h0M520.5 546.5h0M501.4 548.2h0M500.9 579.2h0M512.3 580.7h0M508.2 546.6h0M521.8 550.3h0M512.7 555.2h0M490.8 555.8h0M529.6 568.3h0M501.2 554.2h0M523.7 559.7h0M491.5 555.1h0M506.1 581.3h0M485.8 562.6h0M525.4 558.9h0M495.6 562.3h0M499.9 568.2h0M510.3 580.8h0M502.6 566h0M510.2 583.3h0M506.8 577.7h0M527.2 570.4h0M524.8 553h0M496 578.8h0M508.7 573.8h0M497.6 570.8h0M501.3 563.5h0M505.7 571.1h0M498.5 575.3h0M508 583.2h0M511.2 547.9h0M490.4 556h0M514.2 574.8h0M505.7 561.7h0M511.1 558.7h0M516.1 549h0M497 561.9h0M510 572.9h0M499.2 564.2h0M500.6 577.2h0M499.2 554.2h0M513.1 580.9h0M514.3 561.3h0M514.1 577.7h0M502 578.9h0M509 570.5h0M521.4 572.4h0M504.6 551.1h0M497 574.4h0M536.9 547.8h0M524.9 568.4h0M508.7 567.9h0M504.7 559.9h0M529.2 583.2h0M500.2 564.1h0M502.3 584.1h0M502.5 569.1h0M522.1 569h0M525.8 558.4h0M504.6 564.1h0M490.6 552.5h0M505.5 570.7h0M518.2 562.8h0M520.5 563.9h0M512.1 550.5h0M507.3 578.7h0M512.9 439.1h0M510.4 457.2h0M514.3 466.9h0M430.2 567.8h0M444.9 573h0M461.7 550.3h0M474.8 566h0M474.1 578.9h0M545.8 552.1h0M550.9 556.9h0M533.3 559.6h0M562.9 562.6h0M538.4 570.5h0M560.8 574.1h0M535.7 579h0M482.9 578.2h0M482.1 554.4h0M489.5 557.7h0" stroke="#818181" stroke-width="2.2" stroke-linecap="round" fill="none" stroke-opacity="0.56"/>
<path d="M497.8 398.9h0M552.8 416.4h0M540.7 448.6h0M480.7 464.9h0M495.9 477.7h0M491.7 482.6h0M485.1 488.7h0M492.9 488.6h0M462.5 491.8h0M478 491.1h0M485.9 492.6h0M494.6 495.1h0M496 502h0M475 507.1h0M489.8 508h0M492.3 508h0M485.9 511h0M490.1 511.8h0M472.1 518.3h0M481.1 519.6h0M491.7 518h0M493.7 519.3h0M496 520.1h0M490.1 521.6h0M486.2 523.7h0M443 523.2h0M493.1 526.3h0M475.3 530.3h0M481.5 532.9h0M486.6 531.5h0M488.4 531.5h0M493.1 530.3h0M496.5 531h0M494.2 535.3h0M492.1 537.3h0M474.1 537.8h0M455.7 540.8h0M492.9 541.2h0M495.3 542h0M496.5 542.8h0M494.6 545.2h0M481.6 544.4h0M496 545.6h0M524.9 484.5h0M548.7 500.2h0M586.3 511h0M531.8 509.9h0M523.9 508.6h0M524.4 515h0M540.1 515.5h0M528.2 519.3h0M530.7 519h0M544.8 520.1h0M553.1 518.5h0M545.3 522.4h0M526 524.5h0M531.6 524h0M535.9 524h0M525 527.1h0M527.9 527.9h0M530.7 528.2h0M537.4 527.1h0M538.5 527.1h0M565.6 525.6h0M528.2 530.3h0M533.8 530.7h0M524.7 532.1h0M530.4 532.1h0M537 532.3h0M533 536.1h0M551.1 535.4h0M557 535h0M525.2 536.5h0M527.1 536.8h0M529.4 539.2h0M525 540.9h0M535.1 540.9h0M536.6 542.8h0M526 544.7h0M528.3 545.2h0M533.5 545.2h0M535.1 545.2h0M545.3 544.4h0" stroke="#d63a62" stroke-width="2.1" stroke-linecap="round" fill="none" stroke-opacity="1.0"/>
<path d="M357.2 360.2H664.5" fill="none" stroke="#a0a0a0" stroke-width="1.4"/>
<path d="M664.5 360.2V584.5" fill="none" stroke="#8a8a8a" stroke-width="1"/>
<path d="M357.2 360.2V584.5" fill="none" stroke="#b0b0b0" stroke-width="1"/>
<path d="M356.7 584.5H665.0" fill="none" stroke="#5a5a5a" stroke-width="1"/>
<path d="M368.1 585.3v-1.9000000000000001M368.1 360.2v1.1M379.1 585.3v-2.6M379.1 360.2v1.8M390.1 585.3v-1.9000000000000001M390.1 360.2v1.1M401.1 585.3v-1.9000000000000001M401.1 360.2v1.1M412 585.3v-1.9000000000000001M412 360.2v1.1M423 585.3v-2.6M423 360.2v1.8M434 585.3v-1.9000000000000001M434 360.2v1.1M445 585.3v-1.9000000000000001M445 360.2v1.1M455.9 585.3v-1.9000000000000001M455.9 360.2v1.1M466.9 585.3v-2.6M466.9 360.2v1.8M477.9 585.3v-1.9000000000000001M477.9 360.2v1.1M488.9 585.3v-1.9000000000000001M488.9 360.2v1.1M499.8 585.3v-1.9000000000000001M499.8 360.2v1.1M510.8 585.3v-2.6M510.8 360.2v1.8M521.8 585.3v-1.9000000000000001M521.8 360.2v1.1M532.8 585.3v-1.9000000000000001M532.8 360.2v1.1M543.7 585.3v-1.9000000000000001M543.7 360.2v1.1M554.7 585.3v-2.6M554.7 360.2v1.8M565.7 585.3v-1.9000000000000001M565.7 360.2v1.1M576.6 585.3v-1.9000000000000001M576.6 360.2v1.1M587.6 585.3v-1.9000000000000001M587.6 360.2v1.1M598.6 585.3v-2.6M598.6 360.2v1.8M609.6 585.3v-1.9000000000000001M609.6 360.2v1.1M620.5 585.3v-1.9000000000000001M620.5 360.2v1.1M631.5 585.3v-1.9000000000000001M631.5 360.2v1.1M642.5 585.3v-2.6M642.5 360.2v1.8M653.5 585.3v-1.9000000000000001M653.5 360.2v1.1M357.2 579.8h1.1M664.5 579.8h-1.1M357.2 575.3h1.1M664.5 575.3h-1.1M357.2 570.8h1.1M664.5 570.8h-1.1M357.2 566.4h1.1M664.5 566.4h-1.1M357.2 561.9h1.8M664.5 561.9h-1.8M357.2 557.4h1.1M664.5 557.4h-1.1M357.2 552.9h1.1M664.5 552.9h-1.1M357.2 548.4h1.1M664.5 548.4h-1.1M357.2 543.9h1.1M664.5 543.9h-1.1M357.2 539.5h1.8M664.5 539.5h-1.8M357.2 535h1.1M664.5 535h-1.1M357.2 530.5h1.1M664.5 530.5h-1.1M357.2 526h1.1M664.5 526h-1.1M357.2 521.5h1.1M664.5 521.5h-1.1M357.2 517h1.8M664.5 517h-1.8M357.2 512.6h1.1M664.5 512.6h-1.1M357.2 508.1h1.1M664.5 508.1h-1.1M357.2 503.6h1.1M664.5 503.6h-1.1M357.2 499.1h1.1M664.5 499.1h-1.1M357.2 494.6h1.8M664.5 494.6h-1.8M357.2 490.1h1.1M664.5 490.1h-1.1M357.2 485.7h1.1M664.5 485.7h-1.1M357.2 481.2h1.1M664.5 481.2h-1.1M357.2 476.7h1.1M664.5 476.7h-1.1M357.2 472.2h1.8M664.5 472.2h-1.8M357.2 467.7h1.1M664.5 467.7h-1.1M357.2 463.2h1.1M664.5 463.2h-1.1M357.2 458.7h1.1M664.5 458.7h-1.1M357.2 454.3h1.1M664.5 454.3h-1.1M357.2 449.8h1.8M664.5 449.8h-1.8M357.2 445.3h1.1M664.5 445.3h-1.1M357.2 440.8h1.1M664.5 440.8h-1.1M357.2 436.3h1.1M664.5 436.3h-1.1M357.2 431.8h1.1M664.5 431.8h-1.1M357.2 427.4h1.8M664.5 427.4h-1.8M357.2 422.9h1.1M664.5 422.9h-1.1M357.2 418.4h1.1M664.5 418.4h-1.1M357.2 413.9h1.1M664.5 413.9h-1.1M357.2 409.4h1.1M664.5 409.4h-1.1M357.2 404.9h1.8M664.5 404.9h-1.8M357.2 400.5h1.1M664.5 400.5h-1.1M357.2 396h1.1M664.5 396h-1.1M357.2 391.5h1.1M664.5 391.5h-1.1M357.2 387h1.1M664.5 387h-1.1M357.2 382.5h1.8M664.5 382.5h-1.8M357.2 378h1.1M664.5 378h-1.1M357.2 373.6h1.1M664.5 373.6h-1.1M357.2 369.1h1.1M664.5 369.1h-1.1M357.2 364.6h1.1M664.5 364.6h-1.1" stroke="#555" stroke-width="0.6" fill="none"/>
<text x="379.1" y="589.9" font-size="3.5" font-weight="normal" fill="#555" font-family="'Liberation Sans', Arial, sans-serif" text-anchor="middle" >-6</text>
<text x="423" y="589.9" font-size="3.5" font-weight="normal" fill="#555" font-family="'Liberation Sans', Arial, sans-serif" text-anchor="middle" >-4</text>
<text x="466.9" y="589.9" font-size="3.5" font-weight="normal" fill="#555" font-family="'Liberation Sans', Arial, sans-serif" text-anchor="middle" >-2</text>
<text x="510.8" y="589.9" font-size="3.5" font-weight="normal" fill="#555" font-family="'Liberation Sans', Arial, sans-serif" text-anchor="middle" >0</text>
<text x="554.7" y="589.9" font-size="3.5" font-weight="normal" fill="#555" font-family="'Liberation Sans', Arial, sans-serif" text-anchor="middle" >2</text>
<text x="598.6" y="589.9" font-size="3.5" font-weight="normal" fill="#555" font-family="'Liberation Sans', Arial, sans-serif" text-anchor="middle" >4</text>
<text x="642.5" y="589.9" font-size="3.5" font-weight="normal" fill="#555" font-family="'Liberation Sans', Arial, sans-serif" text-anchor="middle" >6</text>
<text x="355" y="585.5" font-size="3.4" font-weight="normal" fill="#444" font-family="'Liberation Sans', Arial, sans-serif" text-anchor="end" >0</text>
<text x="355" y="563.1" font-size="3.4" font-weight="normal" fill="#444" font-family="'Liberation Sans', Arial, sans-serif" text-anchor="end" >1</text>
<text x="355" y="540.7" font-size="3.4" font-weight="normal" fill="#444" font-family="'Liberation Sans', Arial, sans-serif" text-anchor="end" >2</text>
<text x="355" y="518.2" font-size="3.4" font-weight="normal" fill="#444" font-family="'Liberation Sans', Arial, sans-serif" text-anchor="end" >3</text>
<text x="355" y="495.8" font-size="3.4" font-weight="normal" fill="#444" font-family="'Liberation Sans', Arial, sans-serif" text-anchor="end" >4</text>
<text x="355" y="473.4" font-size="3.4" font-weight="normal" fill="#444" font-family="'Liberation Sans', Arial, sans-serif" text-anchor="end" >5</text>
<text x="355" y="451" font-size="3.4" font-weight="normal" fill="#444" font-family="'Liberation Sans', Arial, sans-serif" text-anchor="end" >6</text>
<text x="355" y="428.6" font-size="3.4" font-weight="normal" fill="#444" font-family="'Liberation Sans', Arial, sans-serif" text-anchor="end" >7</text>
<text x="355" y="406.1" font-size="3.4" font-weight="normal" fill="#444" font-family="'Liberation Sans', Arial, sans-serif" text-anchor="end" >8</text>
<text x="355" y="383.7" font-size="3.4" font-weight="normal" fill="#444" font-family="'Liberation Sans', Arial, sans-serif" text-anchor="end" >9</text>
<text x="355" y="361.3" font-size="3.4" font-weight="normal" fill="#444" font-family="'Liberation Sans', Arial, sans-serif" text-anchor="end" >10</text>
<rect x="356.9" y="344.3" width="86.6" height="14.0" fill="#fff" stroke="#3a3a3a" stroke-width="0.8"/>
<circle cx="362.29999999999995" cy="351.5" r="2.25" fill="#c8001a"/>
<circle cx="400.29999999999995" cy="351.5" r="2.25" fill="#a8a8a8"/>
<text x="367.7" y="353.5" font-size="5.95" font-weight="normal" fill="#000" font-family="'Liberation Serif', 'Times New Roman', serif" text-anchor="start" >Candidate</text>
<text x="404.2" y="353.5" font-size="5.95" font-weight="normal" fill="#000" font-family="'Liberation Serif', 'Times New Roman', serif" text-anchor="start" >Non-candidate</text>
<text x="505.2" y="356.2" font-size="9.0" font-weight="normal" fill="#000" font-family="'Liberation Serif', 'Times New Roman', serif" text-anchor="middle" >SER/ UN</text>
<text x="340.9" y="340.7" font-size="12.3" font-weight="bold" fill="#000" font-family="'Liberation Serif', 'Times New Roman', serif" text-anchor="start" stroke="#000" stroke-width="0.25">c)</text>
<text x="502.6" y="600.7" font-size="7.5" font-weight="bold" fill="#000" font-family="'Liberation Serif', 'Times New Roman', serif" text-anchor="middle"  textLength="52.7" lengthAdjust="spacingAndGlyphs" stroke="#000" stroke-width="0.22">Log2 Fold Change</text>
<text x="0" y="0" font-size="7.5" font-weight="bold" fill="#000" font-family="'Liberation Serif', 'Times New Roman', serif" text-anchor="middle" transform="translate(351.4 472.0) rotate(-90)" textLength="40.2" lengthAdjust="spacingAndGlyphs" stroke="#000" stroke-width="0.22">Log10 P value</text>
<text x="363.9" y="540.4" font-size="6.8" font-weight="bold" fill="#000" font-family="'Liberation Serif', 'Times New Roman', serif" text-anchor="start"  textLength="72.8" lengthAdjust="spacingAndGlyphs" stroke="#000" stroke-width="0.22">Corresponds to Qvalue = 0.05</text>
<text x="361.1" y="545.8" font-size="2.3" font-weight="normal" fill="#9a9a9a" font-family="'Liberation Sans', Arial, sans-serif" text-anchor="start" textLength="40" lengthAdjust="spacingAndGlyphs">-LOG10(Q0.05) = 1.72 ... 1.7202</text>
</svg>
</body></html>
